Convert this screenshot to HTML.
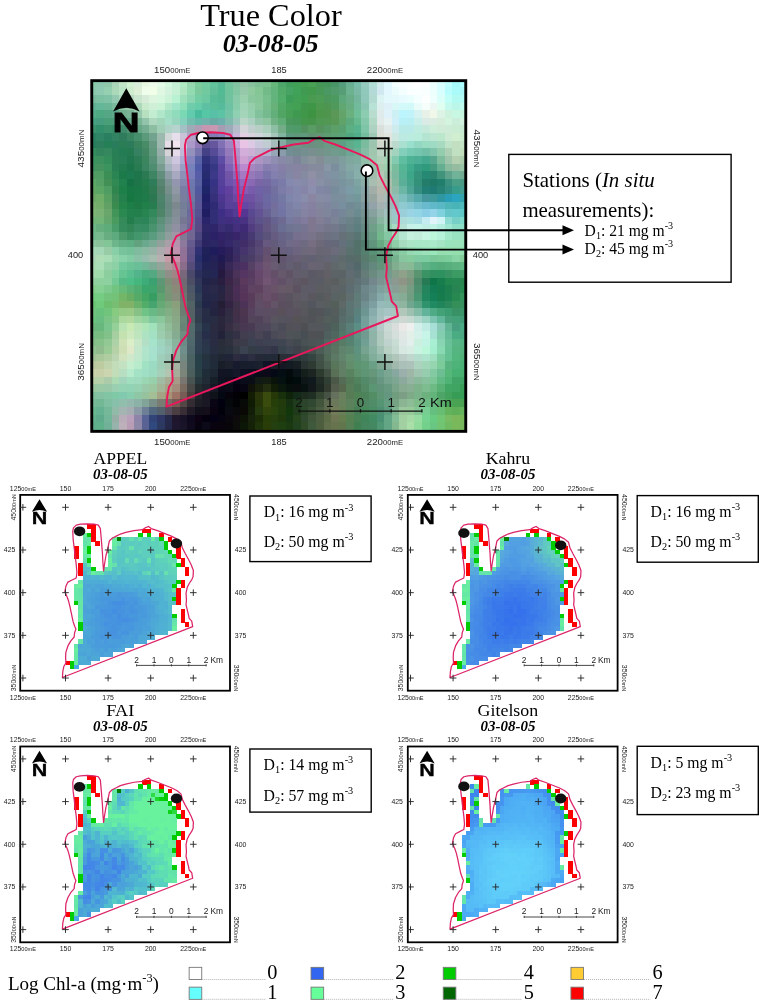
<!DOCTYPE html>
<html lang="en"><head><meta charset="utf-8"><title>True Color / Chl-a maps 03-08-05</title>
<style>html,body{margin:0;padding:0;background:#fff}svg{display:block}</style></head><body>
<svg width="759" height="1000" viewBox="0 0 759 1000">
<rect width="759" height="1000" fill="#fff"/>
<clipPath id="bigclip"><rect x="91.3" y="80.2" width="374.9" height="351.6"/></clipPath>
<g clip-path="url(#bigclip)" shape-rendering="crispEdges" stroke-width="8.01" fill="none"><path d="M88.9 83.84h7.87" stroke="#88caa9"/><path d="M96.47 83.84h7.87" stroke="#8bc8ae"/><path d="M104.04 83.84h7.87" stroke="#90c8ac"/><path d="M111.61 83.84h7.87" stroke="#abd6ba"/><path d="M119.18 83.84h7.87" stroke="#c3e5c7"/><path d="M126.75 83.84h7.87" stroke="#d3f2d3"/><path d="M134.32 83.84h7.87" stroke="#d9efdb"/><path d="M141.89 83.84h7.87" stroke="#e9f8e3"/><path d="M149.46 83.84h7.87" stroke="#edfcea"/><path d="M157.03 83.84h7.87" stroke="#e4fbe7"/><path d="M164.6 83.84h7.87" stroke="#d5f9de"/><path d="M172.17 83.84h7.87" stroke="#c5f0d4"/><path d="M179.74 83.84h7.87" stroke="#aeebc2"/><path d="M187.31 83.84h7.87" stroke="#96d7b0"/><path d="M194.88 83.84h7.87" stroke="#7bcd9e"/><path d="M202.45 83.84h7.87" stroke="#71cca1"/><path d="M210.02 83.84h7.87" stroke="#61c49c"/><path d="M217.59 83.84h7.87" stroke="#57b897"/><path d="M225.16 83.84h7.87" stroke="#70c39c"/><path d="M232.73 83.84h7.87" stroke="#82c1a1"/><path d="M240.3 83.84h7.87" stroke="#91c5a6"/><path d="M247.87 83.84h7.87" stroke="#87c39e"/><path d="M255.44 83.84h7.87" stroke="#7dc094"/><path d="M263.01 83.84h7.87" stroke="#7bc18f"/><path d="M270.58 83.84h7.87" stroke="#65b87a"/><path d="M278.15 83.84h7.87" stroke="#4ea76a"/><path d="M285.72 83.84h7.87" stroke="#409f5d"/><path d="M293.29 83.84h7.87" stroke="#40a058"/><path d="M300.86 83.84h7.87" stroke="#449e52"/><path d="M308.43 83.84h7.87" stroke="#49a156"/><path d="M316 83.84h7.87" stroke="#459758"/><path d="M323.57 83.84h7.87" stroke="#43955c"/><path d="M331.14 83.84h7.87" stroke="#489667"/><path d="M338.71 83.84h7.87" stroke="#559d7c"/><path d="M346.28 83.84h7.87" stroke="#69af92"/><path d="M353.85 83.84h7.87" stroke="#78bdaa"/><path d="M361.42 83.84h7.87" stroke="#95c9bd"/><path d="M368.99 83.84h7.87" stroke="#b1ddd5"/><path d="M376.56 83.84h7.87" stroke="#d1eaeb"/><path d="M384.13 83.84h7.87" stroke="#e2f8ff"/><path d="M391.7 83.84h7.87" stroke="#f3ffff"/><path d="M399.27 83.84h7.87" stroke="#f9ffff"/><path d="M406.84 83.84h7.87" stroke="#fbffff"/><path d="M414.41 83.84h7.87" stroke="#ffffff"/><path d="M421.98 83.84h7.87" stroke="#fcffff"/><path d="M429.55 83.84h7.87" stroke="#ebffff"/><path d="M437.12 83.84h7.87" stroke="#d8ffff"/><path d="M444.69 83.84h7.87" stroke="#bcfffe"/><path d="M452.26 83.84h7.87" stroke="#a6f9fa"/><path d="M459.83 83.84h7.87" stroke="#adfeff"/><path d="M88.9 91.45h7.87" stroke="#89c9ac"/><path d="M96.47 91.45h7.87" stroke="#8dcab1"/><path d="M104.04 91.45h7.87" stroke="#95d0b0"/><path d="M111.61 91.45h7.87" stroke="#acd9b9"/><path d="M119.18 91.45h7.87" stroke="#bae2c5"/><path d="M126.75 91.45h7.87" stroke="#d0eccf"/><path d="M134.32 91.45h7.87" stroke="#ddf0d7"/><path d="M141.89 91.45h7.87" stroke="#effeec"/><path d="M149.46 91.45h7.87" stroke="#f1ffe9"/><path d="M157.03 91.45h7.87" stroke="#e0f7e3"/><path d="M164.6 91.45h7.87" stroke="#d4f3de"/><path d="M172.17 91.45h7.87" stroke="#c6f1d5"/><path d="M179.74 91.45h7.87" stroke="#b0e5c2"/><path d="M187.31 91.45h7.87" stroke="#92daaf"/><path d="M194.88 91.45h7.87" stroke="#7bc99d"/><path d="M202.45 91.45h7.87" stroke="#71c99f"/><path d="M210.02 91.45h7.87" stroke="#63bf9a"/><path d="M217.59 91.45h7.87" stroke="#53bb94"/><path d="M225.16 91.45h7.87" stroke="#6ec39c"/><path d="M232.73 91.45h7.87" stroke="#82c6a4"/><path d="M240.3 91.45h7.87" stroke="#96c9aa"/><path d="M247.87 91.45h7.87" stroke="#8fcb9f"/><path d="M255.44 91.45h7.87" stroke="#84c694"/><path d="M263.01 91.45h7.87" stroke="#72ba88"/><path d="M270.58 91.45h7.87" stroke="#62b47c"/><path d="M278.15 91.45h7.87" stroke="#51aa68"/><path d="M285.72 91.45h7.87" stroke="#46a363"/><path d="M293.29 91.45h7.87" stroke="#40a159"/><path d="M300.86 91.45h7.87" stroke="#409a51"/><path d="M308.43 91.45h7.87" stroke="#419a4c"/><path d="M316 91.45h7.87" stroke="#479857"/><path d="M323.57 91.45h7.87" stroke="#4a9965"/><path d="M331.14 91.45h7.87" stroke="#519a6b"/><path d="M338.71 91.45h7.87" stroke="#579e77"/><path d="M346.28 91.45h7.87" stroke="#6cb190"/><path d="M353.85 91.45h7.87" stroke="#7bb9a6"/><path d="M361.42 91.45h7.87" stroke="#90c9bc"/><path d="M368.99 91.45h7.87" stroke="#b3dad7"/><path d="M376.56 91.45h7.87" stroke="#d1e8f0"/><path d="M384.13 91.45h7.87" stroke="#e3f8fe"/><path d="M391.7 91.45h7.87" stroke="#ebfcfc"/><path d="M399.27 91.45h7.87" stroke="#f4fefe"/><path d="M406.84 91.45h7.87" stroke="#fbffff"/><path d="M414.41 91.45h7.87" stroke="#fcffff"/><path d="M421.98 91.45h7.87" stroke="#f9ffff"/><path d="M429.55 91.45h7.87" stroke="#edfffd"/><path d="M437.12 91.45h7.87" stroke="#d7ffff"/><path d="M444.69 91.45h7.87" stroke="#b8fdfe"/><path d="M452.26 91.45h7.87" stroke="#abfafa"/><path d="M459.83 91.45h7.87" stroke="#a9f7f7"/><path d="M88.9 99.06h7.87" stroke="#7abc9e"/><path d="M96.47 99.06h7.87" stroke="#7ac0a1"/><path d="M104.04 99.06h7.87" stroke="#80c2a5"/><path d="M111.61 99.06h7.87" stroke="#93c9b0"/><path d="M119.18 99.06h7.87" stroke="#add7bf"/><path d="M126.75 99.06h7.87" stroke="#b9d9c0"/><path d="M134.32 99.06h7.87" stroke="#cbe6cf"/><path d="M141.89 99.06h7.87" stroke="#d6ecd8"/><path d="M149.46 99.06h7.87" stroke="#ddf4df"/><path d="M157.03 99.06h7.87" stroke="#d7f7df"/><path d="M164.6 99.06h7.87" stroke="#ccf3d8"/><path d="M172.17 99.06h7.87" stroke="#b9f1d3"/><path d="M179.74 99.06h7.87" stroke="#9ee0bc"/><path d="M187.31 99.06h7.87" stroke="#8bd5b2"/><path d="M194.88 99.06h7.87" stroke="#73cda4"/><path d="M202.45 99.06h7.87" stroke="#6bc8a0"/><path d="M210.02 99.06h7.87" stroke="#59bc98"/><path d="M217.59 99.06h7.87" stroke="#56b996"/><path d="M225.16 99.06h7.87" stroke="#70c39e"/><path d="M232.73 99.06h7.87" stroke="#89caaa"/><path d="M240.3 99.06h7.87" stroke="#9ad0ad"/><path d="M247.87 99.06h7.87" stroke="#8ac79e"/><path d="M255.44 99.06h7.87" stroke="#87c699"/><path d="M263.01 99.06h7.87" stroke="#77c08d"/><path d="M270.58 99.06h7.87" stroke="#63b47c"/><path d="M278.15 99.06h7.87" stroke="#53ad6a"/><path d="M285.72 99.06h7.87" stroke="#3c9d58"/><path d="M293.29 99.06h7.87" stroke="#419f56"/><path d="M300.86 99.06h7.87" stroke="#3f9e4f"/><path d="M308.43 99.06h7.87" stroke="#4a9b51"/><path d="M316 99.06h7.87" stroke="#4c9c55"/><path d="M323.57 99.06h7.87" stroke="#4b965b"/><path d="M331.14 99.06h7.87" stroke="#4c9a60"/><path d="M338.71 99.06h7.87" stroke="#5da87b"/><path d="M346.28 99.06h7.87" stroke="#69ad88"/><path d="M353.85 99.06h7.87" stroke="#73b69d"/><path d="M361.42 99.06h7.87" stroke="#8fc7bb"/><path d="M368.99 99.06h7.87" stroke="#b2dad0"/><path d="M376.56 99.06h7.87" stroke="#dbf3f2"/><path d="M384.13 99.06h7.87" stroke="#e2f8fb"/><path d="M391.7 99.06h7.87" stroke="#e5f8fa"/><path d="M399.27 99.06h7.87" stroke="#e8fbff"/><path d="M406.84 99.06h7.87" stroke="#eafffd"/><path d="M414.41 99.06h7.87" stroke="#f5ffff"/><path d="M421.98 99.06h7.87" stroke="#fdffff"/><path d="M429.55 99.06h7.87" stroke="#eefffd"/><path d="M437.12 99.06h7.87" stroke="#dafef8"/><path d="M444.69 99.06h7.87" stroke="#c1fef8"/><path d="M452.26 99.06h7.87" stroke="#b2faf1"/><path d="M459.83 99.06h7.87" stroke="#b2fbf4"/><path d="M88.9 106.67h7.87" stroke="#61b195"/><path d="M96.47 106.67h7.87" stroke="#64b798"/><path d="M104.04 106.67h7.87" stroke="#6ab595"/><path d="M111.61 106.67h7.87" stroke="#78ba9b"/><path d="M119.18 106.67h7.87" stroke="#8ec4a4"/><path d="M126.75 106.67h7.87" stroke="#9cc9ac"/><path d="M134.32 106.67h7.87" stroke="#add8b9"/><path d="M141.89 106.67h7.87" stroke="#c8eacd"/><path d="M149.46 106.67h7.87" stroke="#cfefd7"/><path d="M157.03 106.67h7.87" stroke="#c9f3d4"/><path d="M164.6 106.67h7.87" stroke="#b1e8ca"/><path d="M172.17 106.67h7.87" stroke="#a0e4ca"/><path d="M179.74 106.67h7.87" stroke="#90dfbb"/><path d="M187.31 106.67h7.87" stroke="#6fcdac"/><path d="M194.88 106.67h7.87" stroke="#65cba8"/><path d="M202.45 106.67h7.87" stroke="#5dc0a2"/><path d="M210.02 106.67h7.87" stroke="#5abe9b"/><path d="M217.59 106.67h7.87" stroke="#55bb9b"/><path d="M225.16 106.67h7.87" stroke="#6cc2a3"/><path d="M232.73 106.67h7.87" stroke="#88ccab"/><path d="M240.3 106.67h7.87" stroke="#a0d4b6"/><path d="M247.87 106.67h7.87" stroke="#96cdaa"/><path d="M255.44 106.67h7.87" stroke="#8ac79c"/><path d="M263.01 106.67h7.87" stroke="#77bc8b"/><path d="M270.58 106.67h7.87" stroke="#68b27a"/><path d="M278.15 106.67h7.87" stroke="#51a866"/><path d="M285.72 106.67h7.87" stroke="#45a158"/><path d="M293.29 106.67h7.87" stroke="#43a153"/><path d="M300.86 106.67h7.87" stroke="#40964d"/><path d="M308.43 106.67h7.87" stroke="#409647"/><path d="M316 106.67h7.87" stroke="#4b984e"/><path d="M323.57 106.67h7.87" stroke="#4e9551"/><path d="M331.14 106.67h7.87" stroke="#4f995d"/><path d="M338.71 106.67h7.87" stroke="#61a771"/><path d="M346.28 106.67h7.87" stroke="#67ad81"/><path d="M353.85 106.67h7.87" stroke="#71ba9c"/><path d="M361.42 106.67h7.87" stroke="#8ac5b2"/><path d="M368.99 106.67h7.87" stroke="#b7e2d5"/><path d="M376.56 106.67h7.87" stroke="#ddeeee"/><path d="M384.13 106.67h7.87" stroke="#e0f0f9"/><path d="M391.7 106.67h7.87" stroke="#d8f7f7"/><path d="M399.27 106.67h7.87" stroke="#d4f9fa"/><path d="M406.84 106.67h7.87" stroke="#d1f9f8"/><path d="M414.41 106.67h7.87" stroke="#e9fcfa"/><path d="M421.98 106.67h7.87" stroke="#f6fefb"/><path d="M429.55 106.67h7.87" stroke="#ecf7f3"/><path d="M437.12 106.67h7.87" stroke="#dffff0"/><path d="M444.69 106.67h7.87" stroke="#c6f9ed"/><path d="M452.26 106.67h7.87" stroke="#bbf6e9"/><path d="M459.83 106.67h7.87" stroke="#bffcef"/><path d="M88.9 114.28h7.87" stroke="#55ac89"/><path d="M96.47 114.28h7.87" stroke="#4ea983"/><path d="M104.04 114.28h7.87" stroke="#54a684"/><path d="M111.61 114.28h7.87" stroke="#5da78b"/><path d="M119.18 114.28h7.87" stroke="#72b091"/><path d="M126.75 114.28h7.87" stroke="#7ab496"/><path d="M134.32 114.28h7.87" stroke="#95c8ac"/><path d="M141.89 114.28h7.87" stroke="#b7e0c1"/><path d="M149.46 114.28h7.87" stroke="#c3edd0"/><path d="M157.03 114.28h7.87" stroke="#b0e6ca"/><path d="M164.6 114.28h7.87" stroke="#9fdfc1"/><path d="M172.17 114.28h7.87" stroke="#8fdbbc"/><path d="M179.74 114.28h7.87" stroke="#7ad8b5"/><path d="M187.31 114.28h7.87" stroke="#62cbae"/><path d="M194.88 114.28h7.87" stroke="#4abc9e"/><path d="M202.45 114.28h7.87" stroke="#56c7a5"/><path d="M210.02 114.28h7.87" stroke="#58c0a6"/><path d="M217.59 114.28h7.87" stroke="#5cc3a5"/><path d="M225.16 114.28h7.87" stroke="#73c3a7"/><path d="M232.73 114.28h7.87" stroke="#8fcfb2"/><path d="M240.3 114.28h7.87" stroke="#a4d5ba"/><path d="M247.87 114.28h7.87" stroke="#95cfad"/><path d="M255.44 114.28h7.87" stroke="#81c19b"/><path d="M263.01 114.28h7.87" stroke="#75ba8f"/><path d="M270.58 114.28h7.87" stroke="#62af7c"/><path d="M278.15 114.28h7.87" stroke="#52a465"/><path d="M285.72 114.28h7.87" stroke="#479f55"/><path d="M293.29 114.28h7.87" stroke="#409951"/><path d="M300.86 114.28h7.87" stroke="#419749"/><path d="M308.43 114.28h7.87" stroke="#3e9342"/><path d="M316 114.28h7.87" stroke="#4b964a"/><path d="M323.57 114.28h7.87" stroke="#4f954d"/><path d="M331.14 114.28h7.87" stroke="#5b9857"/><path d="M338.71 114.28h7.87" stroke="#64a369"/><path d="M346.28 114.28h7.87" stroke="#6bb17f"/><path d="M353.85 114.28h7.87" stroke="#6ebe98"/><path d="M361.42 114.28h7.87" stroke="#8cccb1"/><path d="M368.99 114.28h7.87" stroke="#b8dccd"/><path d="M376.56 114.28h7.87" stroke="#dfebeb"/><path d="M384.13 114.28h7.87" stroke="#dff1f9"/><path d="M391.7 114.28h7.87" stroke="#cdf0f4"/><path d="M399.27 114.28h7.87" stroke="#bcf5fe"/><path d="M406.84 114.28h7.87" stroke="#c0f3fa"/><path d="M414.41 114.28h7.87" stroke="#d6f3f2"/><path d="M421.98 114.28h7.87" stroke="#e8f1e8"/><path d="M429.55 114.28h7.87" stroke="#f1f8ea"/><path d="M437.12 114.28h7.87" stroke="#ddf3e6"/><path d="M444.69 114.28h7.87" stroke="#cdf2dd"/><path d="M452.26 114.28h7.87" stroke="#c8f8e4"/><path d="M459.83 114.28h7.87" stroke="#c6f5e0"/><path d="M88.9 121.89h7.87" stroke="#44a281"/><path d="M96.47 121.89h7.87" stroke="#469c7f"/><path d="M104.04 121.89h7.87" stroke="#489f78"/><path d="M111.61 121.89h7.87" stroke="#529c7e"/><path d="M119.18 121.89h7.87" stroke="#55a27f"/><path d="M126.75 121.89h7.87" stroke="#63a78b"/><path d="M134.32 121.89h7.87" stroke="#79b495"/><path d="M141.89 121.89h7.87" stroke="#92c4ab"/><path d="M149.46 121.89h7.87" stroke="#add7be"/><path d="M157.03 121.89h7.87" stroke="#a2d6bb"/><path d="M164.6 121.89h7.87" stroke="#a4ddc8"/><path d="M172.17 121.89h7.87" stroke="#98d5bf"/><path d="M179.74 121.89h7.87" stroke="#85d0bd"/><path d="M187.31 121.89h7.87" stroke="#72bdae"/><path d="M194.88 121.89h7.87" stroke="#65b7aa"/><path d="M202.45 121.89h7.87" stroke="#70b2ab"/><path d="M210.02 121.89h7.87" stroke="#69aaa5"/><path d="M217.59 121.89h7.87" stroke="#6dafac"/><path d="M225.16 121.89h7.87" stroke="#80baae"/><path d="M232.73 121.89h7.87" stroke="#9bc4bb"/><path d="M240.3 121.89h7.87" stroke="#b8d5c7"/><path d="M247.87 121.89h7.87" stroke="#abcfc0"/><path d="M255.44 121.89h7.87" stroke="#95c5ac"/><path d="M263.01 121.89h7.87" stroke="#8ec5a0"/><path d="M270.58 121.89h7.87" stroke="#71b284"/><path d="M278.15 121.89h7.87" stroke="#5fac76"/><path d="M285.72 121.89h7.87" stroke="#49975c"/><path d="M293.29 121.89h7.87" stroke="#459658"/><path d="M300.86 121.89h7.87" stroke="#44964c"/><path d="M308.43 121.89h7.87" stroke="#46934c"/><path d="M316 121.89h7.87" stroke="#4e9853"/><path d="M323.57 121.89h7.87" stroke="#529754"/><path d="M331.14 121.89h7.87" stroke="#589857"/><path d="M338.71 121.89h7.87" stroke="#5fa36a"/><path d="M346.28 121.89h7.87" stroke="#5ba97c"/><path d="M353.85 121.89h7.87" stroke="#66b88f"/><path d="M361.42 121.89h7.87" stroke="#84c7ab"/><path d="M368.99 121.89h7.87" stroke="#b1d8c5"/><path d="M376.56 121.89h7.87" stroke="#e1eae9"/><path d="M384.13 121.89h7.87" stroke="#e7f2f3"/><path d="M391.7 121.89h7.87" stroke="#cff0f9"/><path d="M399.27 121.89h7.87" stroke="#b9f0f8"/><path d="M406.84 121.89h7.87" stroke="#b9eff3"/><path d="M414.41 121.89h7.87" stroke="#caefea"/><path d="M421.98 121.89h7.87" stroke="#daebe6"/><path d="M429.55 121.89h7.87" stroke="#daece1"/><path d="M437.12 121.89h7.87" stroke="#d5edda"/><path d="M444.69 121.89h7.87" stroke="#d3f5df"/><path d="M452.26 121.89h7.87" stroke="#caeed9"/><path d="M459.83 121.89h7.87" stroke="#d2f2df"/><path d="M88.9 129.5h7.87" stroke="#3e916f"/><path d="M96.47 129.5h7.87" stroke="#318f6c"/><path d="M104.04 129.5h7.87" stroke="#3c916d"/><path d="M111.61 129.5h7.87" stroke="#378d68"/><path d="M119.18 129.5h7.87" stroke="#3f896a"/><path d="M126.75 129.5h7.87" stroke="#4b9070"/><path d="M134.32 129.5h7.87" stroke="#65a787"/><path d="M141.89 129.5h7.87" stroke="#74ad91"/><path d="M149.46 129.5h7.87" stroke="#8ebea1"/><path d="M157.03 129.5h7.87" stroke="#a0ceb6"/><path d="M164.6 129.5h7.87" stroke="#add2c6"/><path d="M172.17 129.5h7.87" stroke="#b6d3ce"/><path d="M179.74 129.5h7.87" stroke="#a3c0c4"/><path d="M187.31 129.5h7.87" stroke="#9eabb6"/><path d="M194.88 129.5h7.87" stroke="#ae9db5"/><path d="M202.45 129.5h7.87" stroke="#c797b1"/><path d="M210.02 129.5h7.87" stroke="#c798b2"/><path d="M217.59 129.5h7.87" stroke="#a79db2"/><path d="M225.16 129.5h7.87" stroke="#9ea9ba"/><path d="M232.73 129.5h7.87" stroke="#b6bcc9"/><path d="M240.3 129.5h7.87" stroke="#d2d4d8"/><path d="M247.87 129.5h7.87" stroke="#c0cece"/><path d="M255.44 129.5h7.87" stroke="#b7cfc4"/><path d="M263.01 129.5h7.87" stroke="#a9cebb"/><path d="M270.58 129.5h7.87" stroke="#8cbfa3"/><path d="M278.15 129.5h7.87" stroke="#73ac87"/><path d="M285.72 129.5h7.87" stroke="#519a6a"/><path d="M293.29 129.5h7.87" stroke="#4f9a69"/><path d="M300.86 129.5h7.87" stroke="#539161"/><path d="M308.43 129.5h7.87" stroke="#5a9a65"/><path d="M316 129.5h7.87" stroke="#55925e"/><path d="M323.57 129.5h7.87" stroke="#559865"/><path d="M331.14 129.5h7.87" stroke="#5c9f68"/><path d="M338.71 129.5h7.87" stroke="#58a070"/><path d="M346.28 129.5h7.87" stroke="#5cae83"/><path d="M353.85 129.5h7.87" stroke="#56b38d"/><path d="M361.42 129.5h7.87" stroke="#7ec5a7"/><path d="M368.99 129.5h7.87" stroke="#add1c2"/><path d="M376.56 129.5h7.87" stroke="#d9e0db"/><path d="M384.13 129.5h7.87" stroke="#e1e9e9"/><path d="M391.7 129.5h7.87" stroke="#ceeced"/><path d="M399.27 129.5h7.87" stroke="#b8ebe7"/><path d="M406.84 129.5h7.87" stroke="#b9e9e8"/><path d="M414.41 129.5h7.87" stroke="#beece0"/><path d="M421.98 129.5h7.87" stroke="#c5e9db"/><path d="M429.55 129.5h7.87" stroke="#cdeed9"/><path d="M437.12 129.5h7.87" stroke="#cfebd8"/><path d="M444.69 129.5h7.87" stroke="#ceebd8"/><path d="M452.26 129.5h7.87" stroke="#c9ecd3"/><path d="M459.83 129.5h7.87" stroke="#c9ead2"/><path d="M88.9 137.11h7.87" stroke="#2a8162"/><path d="M96.47 137.11h7.87" stroke="#308566"/><path d="M104.04 137.11h7.87" stroke="#2a7f61"/><path d="M111.61 137.11h7.87" stroke="#318361"/><path d="M119.18 137.11h7.87" stroke="#2e7c5b"/><path d="M126.75 137.11h7.87" stroke="#398461"/><path d="M134.32 137.11h7.87" stroke="#458f6c"/><path d="M141.89 137.11h7.87" stroke="#5b9b7b"/><path d="M149.46 137.11h7.87" stroke="#71a38e"/><path d="M157.03 137.11h7.87" stroke="#9bbaad"/><path d="M164.6 137.11h7.87" stroke="#d1d7d6"/><path d="M172.17 137.11h7.87" stroke="#e6deea"/><path d="M179.74 137.11h7.87" stroke="#cac2d7"/><path d="M187.31 137.11h7.87" stroke="#aea4c8"/><path d="M194.88 137.11h7.87" stroke="#9c8cb7"/><path d="M202.45 137.11h7.87" stroke="#8276a8"/><path d="M210.02 137.11h7.87" stroke="#857bb5"/><path d="M217.59 137.11h7.87" stroke="#8783bb"/><path d="M225.16 137.11h7.87" stroke="#aa9ccb"/><path d="M232.73 137.11h7.87" stroke="#c8b5d9"/><path d="M240.3 137.11h7.87" stroke="#e5cde2"/><path d="M247.87 137.11h7.87" stroke="#d8d2dd"/><path d="M255.44 137.11h7.87" stroke="#ced6dc"/><path d="M263.01 137.11h7.87" stroke="#c1d6d1"/><path d="M270.58 137.11h7.87" stroke="#a5c6b9"/><path d="M278.15 137.11h7.87" stroke="#82b5a0"/><path d="M285.72 137.11h7.87" stroke="#5c997e"/><path d="M293.29 137.11h7.87" stroke="#5f9779"/><path d="M300.86 137.11h7.87" stroke="#609a7c"/><path d="M308.43 137.11h7.87" stroke="#629274"/><path d="M316 137.11h7.87" stroke="#619574"/><path d="M323.57 137.11h7.87" stroke="#5d9c71"/><path d="M331.14 137.11h7.87" stroke="#5da073"/><path d="M338.71 137.11h7.87" stroke="#5aa479"/><path d="M346.28 137.11h7.87" stroke="#50a77f"/><path d="M353.85 137.11h7.87" stroke="#51ae8a"/><path d="M361.42 137.11h7.87" stroke="#75bd9f"/><path d="M368.99 137.11h7.87" stroke="#9fcab5"/><path d="M376.56 137.11h7.87" stroke="#dcdfd5"/><path d="M384.13 137.11h7.87" stroke="#e1e5df"/><path d="M391.7 137.11h7.87" stroke="#cde8e1"/><path d="M399.27 137.11h7.87" stroke="#bce9e1"/><path d="M406.84 137.11h7.87" stroke="#baede0"/><path d="M414.41 137.11h7.87" stroke="#b9ecda"/><path d="M421.98 137.11h7.87" stroke="#b3e5d2"/><path d="M429.55 137.11h7.87" stroke="#bde6d2"/><path d="M437.12 137.11h7.87" stroke="#bbe7cd"/><path d="M444.69 137.11h7.87" stroke="#ccebd2"/><path d="M452.26 137.11h7.87" stroke="#d1efd0"/><path d="M459.83 137.11h7.87" stroke="#caebcd"/><path d="M88.9 144.72h7.87" stroke="#287e5c"/><path d="M96.47 144.72h7.87" stroke="#2d7e5c"/><path d="M104.04 144.72h7.87" stroke="#258057"/><path d="M111.61 144.72h7.87" stroke="#297d5c"/><path d="M119.18 144.72h7.87" stroke="#2a7d54"/><path d="M126.75 144.72h7.87" stroke="#2c7c5b"/><path d="M134.32 144.72h7.87" stroke="#3a835d"/><path d="M141.89 144.72h7.87" stroke="#488c67"/><path d="M149.46 144.72h7.87" stroke="#669882"/><path d="M157.03 144.72h7.87" stroke="#9cb8af"/><path d="M164.6 144.72h7.87" stroke="#e6dde9"/><path d="M172.17 144.72h7.87" stroke="#f2e5f0"/><path d="M179.74 144.72h7.87" stroke="#cdc1d9"/><path d="M187.31 144.72h7.87" stroke="#ad99c9"/><path d="M194.88 144.72h7.87" stroke="#927ab6"/><path d="M202.45 144.72h7.87" stroke="#5c5192"/><path d="M210.02 144.72h7.87" stroke="#65569d"/><path d="M217.59 144.72h7.87" stroke="#8270b4"/><path d="M225.16 144.72h7.87" stroke="#9e87c3"/><path d="M232.73 144.72h7.87" stroke="#caa7da"/><path d="M240.3 144.72h7.87" stroke="#eac4e5"/><path d="M247.87 144.72h7.87" stroke="#dec9e4"/><path d="M255.44 144.72h7.87" stroke="#c9c7db"/><path d="M263.01 144.72h7.87" stroke="#c0ccd2"/><path d="M270.58 144.72h7.87" stroke="#a6bbbc"/><path d="M278.15 144.72h7.87" stroke="#87a8a2"/><path d="M285.72 144.72h7.87" stroke="#699586"/><path d="M293.29 144.72h7.87" stroke="#6c9788"/><path d="M300.86 144.72h7.87" stroke="#6b9184"/><path d="M308.43 144.72h7.87" stroke="#6c8f82"/><path d="M316 144.72h7.87" stroke="#69937e"/><path d="M323.57 144.72h7.87" stroke="#6a9a85"/><path d="M331.14 144.72h7.87" stroke="#639f7f"/><path d="M338.71 144.72h7.87" stroke="#5c9f85"/><path d="M346.28 144.72h7.87" stroke="#5eac89"/><path d="M353.85 144.72h7.87" stroke="#59b491"/><path d="M361.42 144.72h7.87" stroke="#7bbc9e"/><path d="M368.99 144.72h7.87" stroke="#9dc4af"/><path d="M376.56 144.72h7.87" stroke="#d0d7cd"/><path d="M384.13 144.72h7.87" stroke="#d0e0d3"/><path d="M391.7 144.72h7.87" stroke="#bbd9cd"/><path d="M399.27 144.72h7.87" stroke="#aae0cf"/><path d="M406.84 144.72h7.87" stroke="#99dfce"/><path d="M414.41 144.72h7.87" stroke="#93d6c2"/><path d="M421.98 144.72h7.87" stroke="#9adcc1"/><path d="M429.55 144.72h7.87" stroke="#9fdbc4"/><path d="M437.12 144.72h7.87" stroke="#a7dac1"/><path d="M444.69 144.72h7.87" stroke="#bee3c8"/><path d="M452.26 144.72h7.87" stroke="#c2dfc1"/><path d="M459.83 144.72h7.87" stroke="#c4e2c4"/><path d="M88.9 152.33h7.87" stroke="#338d5e"/><path d="M96.47 152.33h7.87" stroke="#32845d"/><path d="M104.04 152.33h7.87" stroke="#35875e"/><path d="M111.61 152.33h7.87" stroke="#297f55"/><path d="M119.18 152.33h7.87" stroke="#237c53"/><path d="M126.75 152.33h7.87" stroke="#257a52"/><path d="M134.32 152.33h7.87" stroke="#368161"/><path d="M141.89 152.33h7.87" stroke="#428664"/><path d="M149.46 152.33h7.87" stroke="#60987e"/><path d="M157.03 152.33h7.87" stroke="#96aea9"/><path d="M164.6 152.33h7.87" stroke="#d5d3d7"/><path d="M172.17 152.33h7.87" stroke="#e5dae9"/><path d="M179.74 152.33h7.87" stroke="#bfb8d6"/><path d="M187.31 152.33h7.87" stroke="#9491bd"/><path d="M194.88 152.33h7.87" stroke="#7673ad"/><path d="M202.45 152.33h7.87" stroke="#454186"/><path d="M210.02 152.33h7.87" stroke="#554b96"/><path d="M217.59 152.33h7.87" stroke="#7263ae"/><path d="M225.16 152.33h7.87" stroke="#947aba"/><path d="M232.73 152.33h7.87" stroke="#b193ca"/><path d="M240.3 152.33h7.87" stroke="#d4aedb"/><path d="M247.87 152.33h7.87" stroke="#ccb0d5"/><path d="M255.44 152.33h7.87" stroke="#bcb2ce"/><path d="M263.01 152.33h7.87" stroke="#aeb2cd"/><path d="M270.58 152.33h7.87" stroke="#97a6b7"/><path d="M278.15 152.33h7.87" stroke="#8a9bab"/><path d="M285.72 152.33h7.87" stroke="#728e94"/><path d="M293.29 152.33h7.87" stroke="#718b8e"/><path d="M300.86 152.33h7.87" stroke="#758f90"/><path d="M308.43 152.33h7.87" stroke="#798f8f"/><path d="M316 152.33h7.87" stroke="#75928a"/><path d="M323.57 152.33h7.87" stroke="#73968a"/><path d="M331.14 152.33h7.87" stroke="#719b8d"/><path d="M338.71 152.33h7.87" stroke="#6d9b8a"/><path d="M346.28 152.33h7.87" stroke="#6da695"/><path d="M353.85 152.33h7.87" stroke="#6db296"/><path d="M361.42 152.33h7.87" stroke="#86bba5"/><path d="M368.99 152.33h7.87" stroke="#a0c6b0"/><path d="M376.56 152.33h7.87" stroke="#bbd4c3"/><path d="M384.13 152.33h7.87" stroke="#b5d5be"/><path d="M391.7 152.33h7.87" stroke="#a2d3bf"/><path d="M399.27 152.33h7.87" stroke="#84cfbc"/><path d="M406.84 152.33h7.87" stroke="#76c9b2"/><path d="M414.41 152.33h7.87" stroke="#73c5ad"/><path d="M421.98 152.33h7.87" stroke="#72bfa8"/><path d="M429.55 152.33h7.87" stroke="#80c4ab"/><path d="M437.12 152.33h7.87" stroke="#94ccae"/><path d="M444.69 152.33h7.87" stroke="#add0b5"/><path d="M452.26 152.33h7.87" stroke="#c1dfc1"/><path d="M459.83 152.33h7.87" stroke="#c1ddbc"/><path d="M88.9 159.94h7.87" stroke="#3b9460"/><path d="M96.47 159.94h7.87" stroke="#3d915e"/><path d="M104.04 159.94h7.87" stroke="#348e5b"/><path d="M111.61 159.94h7.87" stroke="#2a7f55"/><path d="M119.18 159.94h7.87" stroke="#277d55"/><path d="M126.75 159.94h7.87" stroke="#21774f"/><path d="M134.32 159.94h7.87" stroke="#2c7c55"/><path d="M141.89 159.94h7.87" stroke="#3b855f"/><path d="M149.46 159.94h7.87" stroke="#589177"/><path d="M157.03 159.94h7.87" stroke="#86a99d"/><path d="M164.6 159.94h7.87" stroke="#b5bec7"/><path d="M172.17 159.94h7.87" stroke="#cec5de"/><path d="M179.74 159.94h7.87" stroke="#aaacd2"/><path d="M187.31 159.94h7.87" stroke="#8485bf"/><path d="M194.88 159.94h7.87" stroke="#5763a6"/><path d="M202.45 159.94h7.87" stroke="#31327c"/><path d="M210.02 159.94h7.87" stroke="#3f3f8b"/><path d="M217.59 159.94h7.87" stroke="#5e4da4"/><path d="M225.16 159.94h7.87" stroke="#8a6fb8"/><path d="M232.73 159.94h7.87" stroke="#ac89c7"/><path d="M240.3 159.94h7.87" stroke="#cda2d2"/><path d="M247.87 159.94h7.87" stroke="#b99dce"/><path d="M255.44 159.94h7.87" stroke="#ac95c2"/><path d="M263.01 159.94h7.87" stroke="#9d93bc"/><path d="M270.58 159.94h7.87" stroke="#908eb0"/><path d="M278.15 159.94h7.87" stroke="#8889a6"/><path d="M285.72 159.94h7.87" stroke="#858ba0"/><path d="M293.29 159.94h7.87" stroke="#7e859a"/><path d="M300.86 159.94h7.87" stroke="#81909b"/><path d="M308.43 159.94h7.87" stroke="#8a949b"/><path d="M316 159.94h7.87" stroke="#848d96"/><path d="M323.57 159.94h7.87" stroke="#7f969b"/><path d="M331.14 159.94h7.87" stroke="#7e9699"/><path d="M338.71 159.94h7.87" stroke="#7d9e9d"/><path d="M346.28 159.94h7.87" stroke="#80a79e"/><path d="M353.85 159.94h7.87" stroke="#7eada0"/><path d="M361.42 159.94h7.87" stroke="#91bfaa"/><path d="M368.99 159.94h7.87" stroke="#9fc9b0"/><path d="M376.56 159.94h7.87" stroke="#b1d0b9"/><path d="M384.13 159.94h7.87" stroke="#a5d3b6"/><path d="M391.7 159.94h7.87" stroke="#82cbb0"/><path d="M399.27 159.94h7.87" stroke="#5fbda0"/><path d="M406.84 159.94h7.87" stroke="#4db394"/><path d="M414.41 159.94h7.87" stroke="#4bae95"/><path d="M421.98 159.94h7.87" stroke="#44a88e"/><path d="M429.55 159.94h7.87" stroke="#56a78d"/><path d="M437.12 159.94h7.87" stroke="#7dbd9e"/><path d="M444.69 159.94h7.87" stroke="#9ec5ab"/><path d="M452.26 159.94h7.87" stroke="#b5cfb1"/><path d="M459.83 159.94h7.87" stroke="#accdac"/><path d="M88.9 167.55h7.87" stroke="#3f9460"/><path d="M96.47 167.55h7.87" stroke="#45945f"/><path d="M104.04 167.55h7.87" stroke="#3b935d"/><path d="M111.61 167.55h7.87" stroke="#287f54"/><path d="M119.18 167.55h7.87" stroke="#217b4e"/><path d="M126.75 167.55h7.87" stroke="#1d754c"/><path d="M134.32 167.55h7.87" stroke="#287a50"/><path d="M141.89 167.55h7.87" stroke="#3a8461"/><path d="M149.46 167.55h7.87" stroke="#4d8e71"/><path d="M157.03 167.55h7.87" stroke="#799c90"/><path d="M164.6 167.55h7.87" stroke="#a3b2bc"/><path d="M172.17 167.55h7.87" stroke="#bdb7d0"/><path d="M179.74 167.55h7.87" stroke="#979fc4"/><path d="M187.31 167.55h7.87" stroke="#7682bb"/><path d="M194.88 167.55h7.87" stroke="#4f5ba7"/><path d="M202.45 167.55h7.87" stroke="#2a2c76"/><path d="M210.02 167.55h7.87" stroke="#373884"/><path d="M217.59 167.55h7.87" stroke="#59439c"/><path d="M225.16 167.55h7.87" stroke="#7d62b5"/><path d="M232.73 167.55h7.87" stroke="#9c78c2"/><path d="M240.3 167.55h7.87" stroke="#bb89cd"/><path d="M247.87 167.55h7.87" stroke="#a787c0"/><path d="M255.44 167.55h7.87" stroke="#9987bc"/><path d="M263.01 167.55h7.87" stroke="#877eaf"/><path d="M270.58 167.55h7.87" stroke="#8883b0"/><path d="M278.15 167.55h7.87" stroke="#8680a8"/><path d="M285.72 167.55h7.87" stroke="#8485a2"/><path d="M293.29 167.55h7.87" stroke="#8684a1"/><path d="M300.86 167.55h7.87" stroke="#85869e"/><path d="M308.43 167.55h7.87" stroke="#868a9d"/><path d="M316 167.55h7.87" stroke="#858b9c"/><path d="M323.57 167.55h7.87" stroke="#8897a5"/><path d="M331.14 167.55h7.87" stroke="#7b8e9d"/><path d="M338.71 167.55h7.87" stroke="#819ca3"/><path d="M346.28 167.55h7.87" stroke="#84a8a4"/><path d="M353.85 167.55h7.87" stroke="#87adaa"/><path d="M361.42 167.55h7.87" stroke="#95b7aa"/><path d="M368.99 167.55h7.87" stroke="#9bbfad"/><path d="M376.56 167.55h7.87" stroke="#a8cbaf"/><path d="M384.13 167.55h7.87" stroke="#9dceb0"/><path d="M391.7 167.55h7.87" stroke="#76be9e"/><path d="M399.27 167.55h7.87" stroke="#55b695"/><path d="M406.84 167.55h7.87" stroke="#41ab8d"/><path d="M414.41 167.55h7.87" stroke="#369c83"/><path d="M421.98 167.55h7.87" stroke="#309a7d"/><path d="M429.55 167.55h7.87" stroke="#439a7f"/><path d="M437.12 167.55h7.87" stroke="#64ae92"/><path d="M444.69 167.55h7.87" stroke="#88ba9e"/><path d="M452.26 167.55h7.87" stroke="#95bca1"/><path d="M459.83 167.55h7.87" stroke="#99c5a6"/><path d="M88.9 175.16h7.87" stroke="#529c65"/><path d="M96.47 175.16h7.87" stroke="#509e64"/><path d="M104.04 175.16h7.87" stroke="#3c8e57"/><path d="M111.61 175.16h7.87" stroke="#2a8552"/><path d="M119.18 175.16h7.87" stroke="#1c7949"/><path d="M126.75 175.16h7.87" stroke="#1d794f"/><path d="M134.32 175.16h7.87" stroke="#1e754c"/><path d="M141.89 175.16h7.87" stroke="#2c7a54"/><path d="M149.46 175.16h7.87" stroke="#3e8564"/><path d="M157.03 175.16h7.87" stroke="#628e7e"/><path d="M164.6 175.16h7.87" stroke="#8c9da5"/><path d="M172.17 175.16h7.87" stroke="#a8a8c0"/><path d="M179.74 175.16h7.87" stroke="#8d90b7"/><path d="M187.31 175.16h7.87" stroke="#797eba"/><path d="M194.88 175.16h7.87" stroke="#575ea7"/><path d="M202.45 175.16h7.87" stroke="#272b70"/><path d="M210.02 175.16h7.87" stroke="#3d3989"/><path d="M217.59 175.16h7.87" stroke="#57439d"/><path d="M225.16 175.16h7.87" stroke="#7255a7"/><path d="M232.73 175.16h7.87" stroke="#8d68b9"/><path d="M240.3 175.16h7.87" stroke="#a679c3"/><path d="M247.87 175.16h7.87" stroke="#9679b9"/><path d="M255.44 175.16h7.87" stroke="#8b75b4"/><path d="M263.01 175.16h7.87" stroke="#7974aa"/><path d="M270.58 175.16h7.87" stroke="#837faf"/><path d="M278.15 175.16h7.87" stroke="#817ea7"/><path d="M285.72 175.16h7.87" stroke="#8187a5"/><path d="M293.29 175.16h7.87" stroke="#8885a2"/><path d="M300.86 175.16h7.87" stroke="#858ba1"/><path d="M308.43 175.16h7.87" stroke="#8f90a6"/><path d="M316 175.16h7.87" stroke="#868da0"/><path d="M323.57 175.16h7.87" stroke="#8190a2"/><path d="M331.14 175.16h7.87" stroke="#7f94a3"/><path d="M338.71 175.16h7.87" stroke="#7e989f"/><path d="M346.28 175.16h7.87" stroke="#7fa2a4"/><path d="M353.85 175.16h7.87" stroke="#88afa9"/><path d="M361.42 175.16h7.87" stroke="#90b6ac"/><path d="M368.99 175.16h7.87" stroke="#a1beac"/><path d="M376.56 175.16h7.87" stroke="#b5c8b7"/><path d="M384.13 175.16h7.87" stroke="#9dc3aa"/><path d="M391.7 175.16h7.87" stroke="#7bb9a0"/><path d="M399.27 175.16h7.87" stroke="#58b396"/><path d="M406.84 175.16h7.87" stroke="#3da689"/><path d="M414.41 175.16h7.87" stroke="#34937a"/><path d="M421.98 175.16h7.87" stroke="#268973"/><path d="M429.55 175.16h7.87" stroke="#2b8370"/><path d="M437.12 175.16h7.87" stroke="#40947c"/><path d="M444.69 175.16h7.87" stroke="#5fa38c"/><path d="M452.26 175.16h7.87" stroke="#70b399"/><path d="M459.83 175.16h7.87" stroke="#72ac92"/><path d="M88.9 182.77h7.87" stroke="#5da766"/><path d="M96.47 182.77h7.87" stroke="#559f64"/><path d="M104.04 182.77h7.87" stroke="#439057"/><path d="M111.61 182.77h7.87" stroke="#318a53"/><path d="M119.18 182.77h7.87" stroke="#21814e"/><path d="M126.75 182.77h7.87" stroke="#167244"/><path d="M134.32 182.77h7.87" stroke="#1e7549"/><path d="M141.89 182.77h7.87" stroke="#257a4b"/><path d="M149.46 182.77h7.87" stroke="#2f7c5a"/><path d="M157.03 182.77h7.87" stroke="#578572"/><path d="M164.6 182.77h7.87" stroke="#7d9495"/><path d="M172.17 182.77h7.87" stroke="#9495af"/><path d="M179.74 182.77h7.87" stroke="#8486af"/><path d="M187.31 182.77h7.87" stroke="#6d79ae"/><path d="M194.88 182.77h7.87" stroke="#575fa0"/><path d="M202.45 182.77h7.87" stroke="#232771"/><path d="M210.02 182.77h7.87" stroke="#363284"/><path d="M217.59 182.77h7.87" stroke="#55409a"/><path d="M225.16 182.77h7.87" stroke="#6e53ac"/><path d="M232.73 182.77h7.87" stroke="#7d56b2"/><path d="M240.3 182.77h7.87" stroke="#9367be"/><path d="M247.87 182.77h7.87" stroke="#8a68b4"/><path d="M255.44 182.77h7.87" stroke="#7a66a6"/><path d="M263.01 182.77h7.87" stroke="#7569a3"/><path d="M270.58 182.77h7.87" stroke="#7774a8"/><path d="M278.15 182.77h7.87" stroke="#7b7ba9"/><path d="M285.72 182.77h7.87" stroke="#8389af"/><path d="M293.29 182.77h7.87" stroke="#898bac"/><path d="M300.86 182.77h7.87" stroke="#858aa8"/><path d="M308.43 182.77h7.87" stroke="#8f8dab"/><path d="M316 182.77h7.87" stroke="#8890a5"/><path d="M323.57 182.77h7.87" stroke="#828da2"/><path d="M331.14 182.77h7.87" stroke="#7e909e"/><path d="M338.71 182.77h7.87" stroke="#79949d"/><path d="M346.28 182.77h7.87" stroke="#7b999e"/><path d="M353.85 182.77h7.87" stroke="#7da3a2"/><path d="M361.42 182.77h7.87" stroke="#8cada6"/><path d="M368.99 182.77h7.87" stroke="#a8beb0"/><path d="M376.56 182.77h7.87" stroke="#b7bfb1"/><path d="M384.13 182.77h7.87" stroke="#acc0ae"/><path d="M391.7 182.77h7.87" stroke="#82b99f"/><path d="M399.27 182.77h7.87" stroke="#5bae97"/><path d="M406.84 182.77h7.87" stroke="#44a48c"/><path d="M414.41 182.77h7.87" stroke="#339079"/><path d="M421.98 182.77h7.87" stroke="#237d69"/><path d="M429.55 182.77h7.87" stroke="#207867"/><path d="M437.12 182.77h7.87" stroke="#227e6c"/><path d="M444.69 182.77h7.87" stroke="#39907f"/><path d="M452.26 182.77h7.87" stroke="#499e85"/><path d="M459.83 182.77h7.87" stroke="#4a9a86"/><path d="M88.9 190.38h7.87" stroke="#62a664"/><path d="M96.47 190.38h7.87" stroke="#5ca665"/><path d="M104.04 190.38h7.87" stroke="#4f9d63"/><path d="M111.61 190.38h7.87" stroke="#2f854d"/><path d="M119.18 190.38h7.87" stroke="#1e8049"/><path d="M126.75 190.38h7.87" stroke="#177745"/><path d="M134.32 190.38h7.87" stroke="#197845"/><path d="M141.89 190.38h7.87" stroke="#217949"/><path d="M149.46 190.38h7.87" stroke="#307a53"/><path d="M157.03 190.38h7.87" stroke="#52806b"/><path d="M164.6 190.38h7.87" stroke="#768f8b"/><path d="M172.17 190.38h7.87" stroke="#9097a5"/><path d="M179.74 190.38h7.87" stroke="#797da3"/><path d="M187.31 190.38h7.87" stroke="#6d77a9"/><path d="M194.88 190.38h7.87" stroke="#50589e"/><path d="M202.45 190.38h7.87" stroke="#1f2569"/><path d="M210.02 190.38h7.87" stroke="#38347f"/><path d="M217.59 190.38h7.87" stroke="#533c9b"/><path d="M225.16 190.38h7.87" stroke="#6240a0"/><path d="M232.73 190.38h7.87" stroke="#764dac"/><path d="M240.3 190.38h7.87" stroke="#865cb5"/><path d="M247.87 190.38h7.87" stroke="#795bac"/><path d="M255.44 190.38h7.87" stroke="#7062a6"/><path d="M263.01 190.38h7.87" stroke="#6e649f"/><path d="M270.58 190.38h7.87" stroke="#72709f"/><path d="M278.15 190.38h7.87" stroke="#7d7ba8"/><path d="M285.72 190.38h7.87" stroke="#8282ab"/><path d="M293.29 190.38h7.87" stroke="#8488ac"/><path d="M300.86 190.38h7.87" stroke="#8785a7"/><path d="M308.43 190.38h7.87" stroke="#8b8fad"/><path d="M316 190.38h7.87" stroke="#8287a6"/><path d="M323.57 190.38h7.87" stroke="#7f87a0"/><path d="M331.14 190.38h7.87" stroke="#778d9b"/><path d="M338.71 190.38h7.87" stroke="#7c94a1"/><path d="M346.28 190.38h7.87" stroke="#7b9ba6"/><path d="M353.85 190.38h7.87" stroke="#78a0a0"/><path d="M361.42 190.38h7.87" stroke="#87a4a7"/><path d="M368.99 190.38h7.87" stroke="#a3aea9"/><path d="M376.56 190.38h7.87" stroke="#b7b8ae"/><path d="M384.13 190.38h7.87" stroke="#acbbaa"/><path d="M391.7 190.38h7.87" stroke="#8cbba9"/><path d="M399.27 190.38h7.87" stroke="#6cb6a5"/><path d="M406.84 190.38h7.87" stroke="#4ea595"/><path d="M414.41 190.38h7.87" stroke="#378f84"/><path d="M421.98 190.38h7.87" stroke="#217f75"/><path d="M429.55 190.38h7.87" stroke="#1e7a72"/><path d="M437.12 190.38h7.87" stroke="#278276"/><path d="M444.69 190.38h7.87" stroke="#318c81"/><path d="M452.26 190.38h7.87" stroke="#379d8a"/><path d="M459.83 190.38h7.87" stroke="#439e90"/><path d="M88.9 197.99h7.87" stroke="#6ca967"/><path d="M96.47 197.99h7.87" stroke="#6eae68"/><path d="M104.04 197.99h7.87" stroke="#57a062"/><path d="M111.61 197.99h7.87" stroke="#398752"/><path d="M119.18 197.99h7.87" stroke="#24814e"/><path d="M126.75 197.99h7.87" stroke="#167741"/><path d="M134.32 197.99h7.87" stroke="#1b7948"/><path d="M141.89 197.99h7.87" stroke="#1f7a4a"/><path d="M149.46 197.99h7.87" stroke="#2a7752"/><path d="M157.03 197.99h7.87" stroke="#4d836a"/><path d="M164.6 197.99h7.87" stroke="#6a8c84"/><path d="M172.17 197.99h7.87" stroke="#87919a"/><path d="M179.74 197.99h7.87" stroke="#797d9e"/><path d="M187.31 197.99h7.87" stroke="#7276a3"/><path d="M194.88 197.99h7.87" stroke="#565796"/><path d="M202.45 197.99h7.87" stroke="#1f1f67"/><path d="M210.02 197.99h7.87" stroke="#353079"/><path d="M217.59 197.99h7.87" stroke="#4e3790"/><path d="M225.16 197.99h7.87" stroke="#5d4199"/><path d="M232.73 197.99h7.87" stroke="#6949a3"/><path d="M240.3 197.99h7.87" stroke="#724ea7"/><path d="M247.87 197.99h7.87" stroke="#6f52a2"/><path d="M255.44 197.99h7.87" stroke="#6f5fa2"/><path d="M263.01 197.99h7.87" stroke="#6c69a2"/><path d="M270.58 197.99h7.87" stroke="#6f6fa0"/><path d="M278.15 197.99h7.87" stroke="#7479a4"/><path d="M285.72 197.99h7.87" stroke="#7f86ad"/><path d="M293.29 197.99h7.87" stroke="#8488ac"/><path d="M300.86 197.99h7.87" stroke="#888dac"/><path d="M308.43 197.99h7.87" stroke="#8a86a2"/><path d="M316 197.99h7.87" stroke="#878ca5"/><path d="M323.57 197.99h7.87" stroke="#858ba5"/><path d="M331.14 197.99h7.87" stroke="#7a8e9e"/><path d="M338.71 197.99h7.87" stroke="#7b8f9d"/><path d="M346.28 197.99h7.87" stroke="#79959e"/><path d="M353.85 197.99h7.87" stroke="#73989b"/><path d="M361.42 197.99h7.87" stroke="#89a0a1"/><path d="M368.99 197.99h7.87" stroke="#98a6a2"/><path d="M376.56 197.99h7.87" stroke="#b1b7b3"/><path d="M384.13 197.99h7.87" stroke="#a9bbb7"/><path d="M391.7 197.99h7.87" stroke="#92c0b9"/><path d="M399.27 197.99h7.87" stroke="#7ec0be"/><path d="M406.84 197.99h7.87" stroke="#69b2b1"/><path d="M414.41 197.99h7.87" stroke="#55a9aa"/><path d="M421.98 197.99h7.87" stroke="#44979d"/><path d="M429.55 197.99h7.87" stroke="#3e999a"/><path d="M437.12 197.99h7.87" stroke="#2f97a1"/><path d="M444.69 197.99h7.87" stroke="#2a9eb7"/><path d="M452.26 197.99h7.87" stroke="#2ba5c0"/><path d="M459.83 197.99h7.87" stroke="#35a3ac"/><path d="M88.9 205.6h7.87" stroke="#79b070"/><path d="M96.47 205.6h7.87" stroke="#74ae6b"/><path d="M104.04 205.6h7.87" stroke="#62a165"/><path d="M111.61 205.6h7.87" stroke="#3a8c4e"/><path d="M119.18 205.6h7.87" stroke="#25844a"/><path d="M126.75 205.6h7.87" stroke="#1d7e47"/><path d="M134.32 205.6h7.87" stroke="#1e7945"/><path d="M141.89 205.6h7.87" stroke="#218049"/><path d="M149.46 205.6h7.87" stroke="#277c50"/><path d="M157.03 205.6h7.87" stroke="#4a8269"/><path d="M164.6 205.6h7.87" stroke="#688982"/><path d="M172.17 205.6h7.87" stroke="#7c878e"/><path d="M179.74 205.6h7.87" stroke="#757e97"/><path d="M187.31 205.6h7.87" stroke="#6e739e"/><path d="M194.88 205.6h7.87" stroke="#5c5595"/><path d="M202.45 205.6h7.87" stroke="#232169"/><path d="M210.02 205.6h7.87" stroke="#2e2a73"/><path d="M217.59 205.6h7.87" stroke="#46378b"/><path d="M225.16 205.6h7.87" stroke="#594098"/><path d="M232.73 205.6h7.87" stroke="#593f99"/><path d="M240.3 205.6h7.87" stroke="#6548a6"/><path d="M247.87 205.6h7.87" stroke="#684d9d"/><path d="M255.44 205.6h7.87" stroke="#695a99"/><path d="M263.01 205.6h7.87" stroke="#6c67a0"/><path d="M270.58 205.6h7.87" stroke="#736e9b"/><path d="M278.15 205.6h7.87" stroke="#7576a5"/><path d="M285.72 205.6h7.87" stroke="#7c80a5"/><path d="M293.29 205.6h7.87" stroke="#7f86aa"/><path d="M300.86 205.6h7.87" stroke="#8684a7"/><path d="M308.43 205.6h7.87" stroke="#8781a1"/><path d="M316 205.6h7.87" stroke="#83879e"/><path d="M323.57 205.6h7.87" stroke="#7f859f"/><path d="M331.14 205.6h7.87" stroke="#7c8a9e"/><path d="M338.71 205.6h7.87" stroke="#778f9f"/><path d="M346.28 205.6h7.87" stroke="#728996"/><path d="M353.85 205.6h7.87" stroke="#728f96"/><path d="M361.42 205.6h7.87" stroke="#7b969d"/><path d="M368.99 205.6h7.87" stroke="#93a3a9"/><path d="M376.56 205.6h7.87" stroke="#a4b2b1"/><path d="M384.13 205.6h7.87" stroke="#a1b6b6"/><path d="M391.7 205.6h7.87" stroke="#94bdbf"/><path d="M399.27 205.6h7.87" stroke="#8fcad0"/><path d="M406.84 205.6h7.87" stroke="#85c7d0"/><path d="M414.41 205.6h7.87" stroke="#74bfcb"/><path d="M421.98 205.6h7.87" stroke="#6abace"/><path d="M429.55 205.6h7.87" stroke="#60b9c8"/><path d="M437.12 205.6h7.87" stroke="#59b8c3"/><path d="M444.69 205.6h7.87" stroke="#4eb5b9"/><path d="M452.26 205.6h7.87" stroke="#48b4b8"/><path d="M459.83 205.6h7.87" stroke="#4fbabb"/><path d="M88.9 213.21h7.87" stroke="#7cb575"/><path d="M96.47 213.21h7.87" stroke="#7ab174"/><path d="M104.04 213.21h7.87" stroke="#69a66c"/><path d="M111.61 213.21h7.87" stroke="#419558"/><path d="M119.18 213.21h7.87" stroke="#2a8851"/><path d="M126.75 213.21h7.87" stroke="#22814c"/><path d="M134.32 213.21h7.87" stroke="#21804c"/><path d="M141.89 213.21h7.87" stroke="#288551"/><path d="M149.46 213.21h7.87" stroke="#33895c"/><path d="M157.03 213.21h7.87" stroke="#4e8467"/><path d="M164.6 213.21h7.87" stroke="#688b82"/><path d="M172.17 213.21h7.87" stroke="#818c94"/><path d="M179.74 213.21h7.87" stroke="#79819a"/><path d="M187.31 213.21h7.87" stroke="#6a6b9a"/><path d="M194.88 213.21h7.87" stroke="#565191"/><path d="M202.45 213.21h7.87" stroke="#201d63"/><path d="M210.02 213.21h7.87" stroke="#322e76"/><path d="M217.59 213.21h7.87" stroke="#3f2e85"/><path d="M225.16 213.21h7.87" stroke="#4a338b"/><path d="M232.73 213.21h7.87" stroke="#523b93"/><path d="M240.3 213.21h7.87" stroke="#553793"/><path d="M247.87 213.21h7.87" stroke="#594991"/><path d="M255.44 213.21h7.87" stroke="#635394"/><path d="M263.01 213.21h7.87" stroke="#686294"/><path d="M270.58 213.21h7.87" stroke="#71719c"/><path d="M278.15 213.21h7.87" stroke="#7274a3"/><path d="M285.72 213.21h7.87" stroke="#7c7fa5"/><path d="M293.29 213.21h7.87" stroke="#7c81a1"/><path d="M300.86 213.21h7.87" stroke="#8483a1"/><path d="M308.43 213.21h7.87" stroke="#847f9e"/><path d="M316 213.21h7.87" stroke="#83839b"/><path d="M323.57 213.21h7.87" stroke="#7e869b"/><path d="M331.14 213.21h7.87" stroke="#79819a"/><path d="M338.71 213.21h7.87" stroke="#758799"/><path d="M346.28 213.21h7.87" stroke="#758c93"/><path d="M353.85 213.21h7.87" stroke="#6a8b90"/><path d="M361.42 213.21h7.87" stroke="#759290"/><path d="M368.99 213.21h7.87" stroke="#87a29e"/><path d="M376.56 213.21h7.87" stroke="#97b3ac"/><path d="M384.13 213.21h7.87" stroke="#a0c1bd"/><path d="M391.7 213.21h7.87" stroke="#9ec6c9"/><path d="M399.27 213.21h7.87" stroke="#9acfda"/><path d="M406.84 213.21h7.87" stroke="#9ad3e4"/><path d="M414.41 213.21h7.87" stroke="#92d5e5"/><path d="M421.98 213.21h7.87" stroke="#8acee5"/><path d="M429.55 213.21h7.87" stroke="#93d4e8"/><path d="M437.12 213.21h7.87" stroke="#80d1de"/><path d="M444.69 213.21h7.87" stroke="#65c5c9"/><path d="M452.26 213.21h7.87" stroke="#62c8cc"/><path d="M459.83 213.21h7.87" stroke="#60c7c7"/><path d="M88.9 220.82h7.87" stroke="#71b479"/><path d="M96.47 220.82h7.87" stroke="#73b478"/><path d="M104.04 220.82h7.87" stroke="#64a76e"/><path d="M111.61 220.82h7.87" stroke="#489a5f"/><path d="M119.18 220.82h7.87" stroke="#358a5a"/><path d="M126.75 220.82h7.87" stroke="#237d4d"/><path d="M134.32 220.82h7.87" stroke="#2e8557"/><path d="M141.89 220.82h7.87" stroke="#2c8459"/><path d="M149.46 220.82h7.87" stroke="#3f8d64"/><path d="M157.03 220.82h7.87" stroke="#5d9079"/><path d="M164.6 220.82h7.87" stroke="#75918e"/><path d="M172.17 220.82h7.87" stroke="#878f9a"/><path d="M179.74 220.82h7.87" stroke="#777794"/><path d="M187.31 220.82h7.87" stroke="#716b97"/><path d="M194.88 220.82h7.87" stroke="#564b8d"/><path d="M202.45 220.82h7.87" stroke="#2a256b"/><path d="M210.02 220.82h7.87" stroke="#322e75"/><path d="M217.59 220.82h7.87" stroke="#403080"/><path d="M225.16 220.82h7.87" stroke="#412e7e"/><path d="M232.73 220.82h7.87" stroke="#433183"/><path d="M240.3 220.82h7.87" stroke="#493281"/><path d="M247.87 220.82h7.87" stroke="#594688"/><path d="M255.44 220.82h7.87" stroke="#5c538b"/><path d="M263.01 220.82h7.87" stroke="#625687"/><path d="M270.58 220.82h7.87" stroke="#676390"/><path d="M278.15 220.82h7.87" stroke="#6f6a92"/><path d="M285.72 220.82h7.87" stroke="#767a9f"/><path d="M293.29 220.82h7.87" stroke="#7a779b"/><path d="M300.86 220.82h7.87" stroke="#817b9d"/><path d="M308.43 220.82h7.87" stroke="#7f7790"/><path d="M316 220.82h7.87" stroke="#817e95"/><path d="M323.57 220.82h7.87" stroke="#7a7b95"/><path d="M331.14 220.82h7.87" stroke="#7a8494"/><path d="M338.71 220.82h7.87" stroke="#70838f"/><path d="M346.28 220.82h7.87" stroke="#6b8288"/><path d="M353.85 220.82h7.87" stroke="#628182"/><path d="M361.42 220.82h7.87" stroke="#6c8d88"/><path d="M368.99 220.82h7.87" stroke="#799d91"/><path d="M376.56 220.82h7.87" stroke="#89b6a1"/><path d="M384.13 220.82h7.87" stroke="#9ac7b5"/><path d="M391.7 220.82h7.87" stroke="#9ac8c3"/><path d="M399.27 220.82h7.87" stroke="#aedcda"/><path d="M406.84 220.82h7.87" stroke="#abe1df"/><path d="M414.41 220.82h7.87" stroke="#a8dde6"/><path d="M421.98 220.82h7.87" stroke="#c5ebf2"/><path d="M429.55 220.82h7.87" stroke="#e1f4fb"/><path d="M437.12 220.82h7.87" stroke="#d0f3f5"/><path d="M444.69 220.82h7.87" stroke="#8edbd3"/><path d="M452.26 220.82h7.87" stroke="#77d0c8"/><path d="M459.83 220.82h7.87" stroke="#7dd9c8"/><path d="M88.9 228.43h7.87" stroke="#6fb886"/><path d="M96.47 228.43h7.87" stroke="#66ae7e"/><path d="M104.04 228.43h7.87" stroke="#5dac7a"/><path d="M111.61 228.43h7.87" stroke="#499d6a"/><path d="M119.18 228.43h7.87" stroke="#368b5d"/><path d="M126.75 228.43h7.87" stroke="#328557"/><path d="M134.32 228.43h7.87" stroke="#388b62"/><path d="M141.89 228.43h7.87" stroke="#368b63"/><path d="M149.46 228.43h7.87" stroke="#4a936f"/><path d="M157.03 228.43h7.87" stroke="#629683"/><path d="M164.6 228.43h7.87" stroke="#809594"/><path d="M172.17 228.43h7.87" stroke="#9090a2"/><path d="M179.74 228.43h7.87" stroke="#7f7c9d"/><path d="M187.31 228.43h7.87" stroke="#6f6795"/><path d="M194.88 228.43h7.87" stroke="#594985"/><path d="M202.45 228.43h7.87" stroke="#2e2768"/><path d="M210.02 228.43h7.87" stroke="#2f256b"/><path d="M217.59 228.43h7.87" stroke="#3c2f75"/><path d="M225.16 228.43h7.87" stroke="#362a70"/><path d="M232.73 228.43h7.87" stroke="#442f7c"/><path d="M240.3 228.43h7.87" stroke="#3f2a76"/><path d="M247.87 228.43h7.87" stroke="#523d81"/><path d="M255.44 228.43h7.87" stroke="#594b81"/><path d="M263.01 228.43h7.87" stroke="#635782"/><path d="M270.58 228.43h7.87" stroke="#666187"/><path d="M278.15 228.43h7.87" stroke="#6b6e93"/><path d="M285.72 228.43h7.87" stroke="#6f7493"/><path d="M293.29 228.43h7.87" stroke="#737693"/><path d="M300.86 228.43h7.87" stroke="#777492"/><path d="M308.43 228.43h7.87" stroke="#7f7690"/><path d="M316 228.43h7.87" stroke="#7b7891"/><path d="M323.57 228.43h7.87" stroke="#75768a"/><path d="M331.14 228.43h7.87" stroke="#73788a"/><path d="M338.71 228.43h7.87" stroke="#6a7886"/><path d="M346.28 228.43h7.87" stroke="#677e83"/><path d="M353.85 228.43h7.87" stroke="#5c7e7e"/><path d="M361.42 228.43h7.87" stroke="#658982"/><path d="M368.99 228.43h7.87" stroke="#6f9f89"/><path d="M376.56 228.43h7.87" stroke="#78b293"/><path d="M384.13 228.43h7.87" stroke="#91cead"/><path d="M391.7 228.43h7.87" stroke="#a8dbc2"/><path d="M399.27 228.43h7.87" stroke="#b6e2d5"/><path d="M406.84 228.43h7.87" stroke="#c7f0e9"/><path d="M414.41 228.43h7.87" stroke="#c4f3e9"/><path d="M421.98 228.43h7.87" stroke="#c1ede7"/><path d="M429.55 228.43h7.87" stroke="#bff3e5"/><path d="M437.12 228.43h7.87" stroke="#b3ede0"/><path d="M444.69 228.43h7.87" stroke="#9fe6d2"/><path d="M452.26 228.43h7.87" stroke="#8ddec7"/><path d="M459.83 228.43h7.87" stroke="#8ce0c7"/><path d="M88.9 236.04h7.87" stroke="#71b98d"/><path d="M96.47 236.04h7.87" stroke="#76ba8d"/><path d="M104.04 236.04h7.87" stroke="#67ad81"/><path d="M111.61 236.04h7.87" stroke="#5daa7e"/><path d="M119.18 236.04h7.87" stroke="#4b996b"/><path d="M126.75 236.04h7.87" stroke="#3c8f63"/><path d="M134.32 236.04h7.87" stroke="#44966d"/><path d="M141.89 236.04h7.87" stroke="#4e9673"/><path d="M149.46 236.04h7.87" stroke="#599c7f"/><path d="M157.03 236.04h7.87" stroke="#749f8f"/><path d="M164.6 236.04h7.87" stroke="#8e9e9c"/><path d="M172.17 236.04h7.87" stroke="#a196a5"/><path d="M179.74 236.04h7.87" stroke="#817a95"/><path d="M187.31 236.04h7.87" stroke="#726692"/><path d="M194.88 236.04h7.87" stroke="#4b467d"/><path d="M202.45 236.04h7.87" stroke="#2a2663"/><path d="M210.02 236.04h7.87" stroke="#2b2167"/><path d="M217.59 236.04h7.87" stroke="#32226a"/><path d="M225.16 236.04h7.87" stroke="#332667"/><path d="M232.73 236.04h7.87" stroke="#39266a"/><path d="M240.3 236.04h7.87" stroke="#3d2c6e"/><path d="M247.87 236.04h7.87" stroke="#473a72"/><path d="M255.44 236.04h7.87" stroke="#544c7d"/><path d="M263.01 236.04h7.87" stroke="#5b537a"/><path d="M270.58 236.04h7.87" stroke="#665b80"/><path d="M278.15 236.04h7.87" stroke="#676487"/><path d="M285.72 236.04h7.87" stroke="#69698a"/><path d="M293.29 236.04h7.87" stroke="#766f8d"/><path d="M300.86 236.04h7.87" stroke="#78728e"/><path d="M308.43 236.04h7.87" stroke="#7a748a"/><path d="M316 236.04h7.87" stroke="#727081"/><path d="M323.57 236.04h7.87" stroke="#6d7080"/><path d="M331.14 236.04h7.87" stroke="#6c7382"/><path d="M338.71 236.04h7.87" stroke="#657078"/><path d="M346.28 236.04h7.87" stroke="#627678"/><path d="M353.85 236.04h7.87" stroke="#587573"/><path d="M361.42 236.04h7.87" stroke="#5e8779"/><path d="M368.99 236.04h7.87" stroke="#679b83"/><path d="M376.56 236.04h7.87" stroke="#73b88d"/><path d="M384.13 236.04h7.87" stroke="#84c7a2"/><path d="M391.7 236.04h7.87" stroke="#9ed9b8"/><path d="M399.27 236.04h7.87" stroke="#b5e6d1"/><path d="M406.84 236.04h7.87" stroke="#c6f1de"/><path d="M414.41 236.04h7.87" stroke="#c2edda"/><path d="M421.98 236.04h7.87" stroke="#c6f5e2"/><path d="M429.55 236.04h7.87" stroke="#bcf7db"/><path d="M437.12 236.04h7.87" stroke="#b5f2d9"/><path d="M444.69 236.04h7.87" stroke="#a3e9c9"/><path d="M452.26 236.04h7.87" stroke="#9ae3c2"/><path d="M459.83 236.04h7.87" stroke="#9be3c0"/><path d="M88.9 243.65h7.87" stroke="#8dc79f"/><path d="M96.47 243.65h7.87" stroke="#8ac29a"/><path d="M104.04 243.65h7.87" stroke="#82c597"/><path d="M111.61 243.65h7.87" stroke="#6db68c"/><path d="M119.18 243.65h7.87" stroke="#63af85"/><path d="M126.75 243.65h7.87" stroke="#5daf83"/><path d="M134.32 243.65h7.87" stroke="#62a27f"/><path d="M141.89 243.65h7.87" stroke="#6aa98d"/><path d="M149.46 243.65h7.87" stroke="#7aa995"/><path d="M157.03 243.65h7.87" stroke="#93a19c"/><path d="M164.6 243.65h7.87" stroke="#a99fa8"/><path d="M172.17 243.65h7.87" stroke="#b292ad"/><path d="M179.74 243.65h7.87" stroke="#8c799b"/><path d="M187.31 243.65h7.87" stroke="#665b8e"/><path d="M194.88 243.65h7.87" stroke="#403b77"/><path d="M202.45 243.65h7.87" stroke="#2a2463"/><path d="M210.02 243.65h7.87" stroke="#2b2762"/><path d="M217.59 243.65h7.87" stroke="#312264"/><path d="M225.16 243.65h7.87" stroke="#34286a"/><path d="M232.73 243.65h7.87" stroke="#3a2f69"/><path d="M240.3 243.65h7.87" stroke="#412e69"/><path d="M247.87 243.65h7.87" stroke="#47376b"/><path d="M255.44 243.65h7.87" stroke="#554574"/><path d="M263.01 243.65h7.87" stroke="#66587e"/><path d="M270.58 243.65h7.87" stroke="#635b7a"/><path d="M278.15 243.65h7.87" stroke="#686285"/><path d="M285.72 243.65h7.87" stroke="#6f6b88"/><path d="M293.29 243.65h7.87" stroke="#726987"/><path d="M300.86 243.65h7.87" stroke="#6d6a81"/><path d="M308.43 243.65h7.87" stroke="#786e81"/><path d="M316 243.65h7.87" stroke="#6d6979"/><path d="M323.57 243.65h7.87" stroke="#66677b"/><path d="M331.14 243.65h7.87" stroke="#646879"/><path d="M338.71 243.65h7.87" stroke="#64717d"/><path d="M346.28 243.65h7.87" stroke="#5d7476"/><path d="M353.85 243.65h7.87" stroke="#527169"/><path d="M361.42 243.65h7.87" stroke="#517b6b"/><path d="M368.99 243.65h7.87" stroke="#61947c"/><path d="M376.56 243.65h7.87" stroke="#67a981"/><path d="M384.13 243.65h7.87" stroke="#7bba94"/><path d="M391.7 243.65h7.87" stroke="#8ecea8"/><path d="M399.27 243.65h7.87" stroke="#a7dcc0"/><path d="M406.84 243.65h7.87" stroke="#abe4c6"/><path d="M414.41 243.65h7.87" stroke="#a8e6c7"/><path d="M421.98 243.65h7.87" stroke="#a9e8c6"/><path d="M429.55 243.65h7.87" stroke="#aaeaca"/><path d="M437.12 243.65h7.87" stroke="#a5e5c5"/><path d="M444.69 243.65h7.87" stroke="#99e3bd"/><path d="M452.26 243.65h7.87" stroke="#9ce2ba"/><path d="M459.83 243.65h7.87" stroke="#99e3ba"/><path d="M88.9 251.26h7.87" stroke="#a7dab7"/><path d="M96.47 251.26h7.87" stroke="#a3d7b5"/><path d="M104.04 251.26h7.87" stroke="#97cca7"/><path d="M111.61 251.26h7.87" stroke="#88cea6"/><path d="M119.18 251.26h7.87" stroke="#78c29c"/><path d="M126.75 251.26h7.87" stroke="#74c099"/><path d="M134.32 251.26h7.87" stroke="#80ba9f"/><path d="M141.89 251.26h7.87" stroke="#8bb8a1"/><path d="M149.46 251.26h7.87" stroke="#99b2a8"/><path d="M157.03 251.26h7.87" stroke="#adaaad"/><path d="M164.6 251.26h7.87" stroke="#bf9faf"/><path d="M172.17 251.26h7.87" stroke="#bf91ac"/><path d="M179.74 251.26h7.87" stroke="#907198"/><path d="M187.31 251.26h7.87" stroke="#605488"/><path d="M194.88 251.26h7.87" stroke="#303174"/><path d="M202.45 251.26h7.87" stroke="#1e2258"/><path d="M210.02 251.26h7.87" stroke="#1e1c5a"/><path d="M217.59 251.26h7.87" stroke="#261c5b"/><path d="M225.16 251.26h7.87" stroke="#2d205a"/><path d="M232.73 251.26h7.87" stroke="#392d66"/><path d="M240.3 251.26h7.87" stroke="#46356c"/><path d="M247.87 251.26h7.87" stroke="#4c3e6d"/><path d="M255.44 251.26h7.87" stroke="#584975"/><path d="M263.01 251.26h7.87" stroke="#635071"/><path d="M270.58 251.26h7.87" stroke="#645a74"/><path d="M278.15 251.26h7.87" stroke="#695f7f"/><path d="M285.72 251.26h7.87" stroke="#65617e"/><path d="M293.29 251.26h7.87" stroke="#6d6480"/><path d="M300.86 251.26h7.87" stroke="#6e697a"/><path d="M308.43 251.26h7.87" stroke="#71687b"/><path d="M316 251.26h7.87" stroke="#696674"/><path d="M323.57 251.26h7.87" stroke="#696675"/><path d="M331.14 251.26h7.87" stroke="#6b6b7b"/><path d="M338.71 251.26h7.87" stroke="#656f75"/><path d="M346.28 251.26h7.87" stroke="#5a716e"/><path d="M353.85 251.26h7.87" stroke="#527269"/><path d="M361.42 251.26h7.87" stroke="#55806f"/><path d="M368.99 251.26h7.87" stroke="#599176"/><path d="M376.56 251.26h7.87" stroke="#619a7c"/><path d="M384.13 251.26h7.87" stroke="#6bac89"/><path d="M391.7 251.26h7.87" stroke="#81bf9a"/><path d="M399.27 251.26h7.87" stroke="#89cda5"/><path d="M406.84 251.26h7.87" stroke="#96d9b2"/><path d="M414.41 251.26h7.87" stroke="#96deb6"/><path d="M421.98 251.26h7.87" stroke="#9ce1ba"/><path d="M429.55 251.26h7.87" stroke="#9ae6bb"/><path d="M437.12 251.26h7.87" stroke="#96deb0"/><path d="M444.69 251.26h7.87" stroke="#97dfb2"/><path d="M452.26 251.26h7.87" stroke="#95deae"/><path d="M459.83 251.26h7.87" stroke="#92e0b1"/><path d="M88.9 258.87h7.87" stroke="#add8b7"/><path d="M96.47 258.87h7.87" stroke="#aeddb6"/><path d="M104.04 258.87h7.87" stroke="#a8ddb5"/><path d="M111.61 258.87h7.87" stroke="#94d5ab"/><path d="M119.18 258.87h7.87" stroke="#8ad3aa"/><path d="M126.75 258.87h7.87" stroke="#82cba5"/><path d="M134.32 258.87h7.87" stroke="#88c1a6"/><path d="M141.89 258.87h7.87" stroke="#95bcad"/><path d="M149.46 258.87h7.87" stroke="#a6bcae"/><path d="M157.03 258.87h7.87" stroke="#b8afb2"/><path d="M164.6 258.87h7.87" stroke="#c89aa8"/><path d="M172.17 258.87h7.87" stroke="#ca8fab"/><path d="M179.74 258.87h7.87" stroke="#957095"/><path d="M187.31 258.87h7.87" stroke="#5e5187"/><path d="M194.88 258.87h7.87" stroke="#28306c"/><path d="M202.45 258.87h7.87" stroke="#1e2059"/><path d="M210.02 258.87h7.87" stroke="#242058"/><path d="M217.59 258.87h7.87" stroke="#201a52"/><path d="M225.16 258.87h7.87" stroke="#2c2155"/><path d="M232.73 258.87h7.87" stroke="#3c2b60"/><path d="M240.3 258.87h7.87" stroke="#453a66"/><path d="M247.87 258.87h7.87" stroke="#4a3d66"/><path d="M255.44 258.87h7.87" stroke="#58476d"/><path d="M263.01 258.87h7.87" stroke="#68516f"/><path d="M270.58 258.87h7.87" stroke="#645570"/><path d="M278.15 258.87h7.87" stroke="#625570"/><path d="M285.72 258.87h7.87" stroke="#645b74"/><path d="M293.29 258.87h7.87" stroke="#685f77"/><path d="M300.86 258.87h7.87" stroke="#646271"/><path d="M308.43 258.87h7.87" stroke="#616173"/><path d="M316 258.87h7.87" stroke="#646370"/><path d="M323.57 258.87h7.87" stroke="#656575"/><path d="M331.14 258.87h7.87" stroke="#616972"/><path d="M338.71 258.87h7.87" stroke="#5e6a6b"/><path d="M346.28 258.87h7.87" stroke="#566b6a"/><path d="M353.85 258.87h7.87" stroke="#566d67"/><path d="M361.42 258.87h7.87" stroke="#587b6d"/><path d="M368.99 258.87h7.87" stroke="#5a856e"/><path d="M376.56 258.87h7.87" stroke="#589476"/><path d="M384.13 258.87h7.87" stroke="#63a07d"/><path d="M391.7 258.87h7.87" stroke="#76b18d"/><path d="M399.27 258.87h7.87" stroke="#87c69e"/><path d="M406.84 258.87h7.87" stroke="#85cb9e"/><path d="M414.41 258.87h7.87" stroke="#80caa1"/><path d="M421.98 258.87h7.87" stroke="#7ccca1"/><path d="M429.55 258.87h7.87" stroke="#7ac899"/><path d="M437.12 258.87h7.87" stroke="#7cc999"/><path d="M444.69 258.87h7.87" stroke="#7ccd9c"/><path d="M452.26 258.87h7.87" stroke="#89d4a5"/><path d="M459.83 258.87h7.87" stroke="#83cd9a"/><path d="M88.9 266.48h7.87" stroke="#a9dcb0"/><path d="M96.47 266.48h7.87" stroke="#a9deb6"/><path d="M104.04 266.48h7.87" stroke="#96d2a7"/><path d="M111.61 266.48h7.87" stroke="#8bd1a5"/><path d="M119.18 266.48h7.87" stroke="#73c99e"/><path d="M126.75 266.48h7.87" stroke="#6cc397"/><path d="M134.32 266.48h7.87" stroke="#6abf99"/><path d="M141.89 266.48h7.87" stroke="#72b797"/><path d="M149.46 266.48h7.87" stroke="#7dab96"/><path d="M157.03 266.48h7.87" stroke="#93a49b"/><path d="M164.6 266.48h7.87" stroke="#ac999a"/><path d="M172.17 266.48h7.87" stroke="#b18897"/><path d="M179.74 266.48h7.87" stroke="#896d8a"/><path d="M187.31 266.48h7.87" stroke="#564c7a"/><path d="M194.88 266.48h7.87" stroke="#2e326a"/><path d="M202.45 266.48h7.87" stroke="#222456"/><path d="M210.02 266.48h7.87" stroke="#252354"/><path d="M217.59 266.48h7.87" stroke="#251b4a"/><path d="M225.16 266.48h7.87" stroke="#372857"/><path d="M232.73 266.48h7.87" stroke="#442f5f"/><path d="M240.3 266.48h7.87" stroke="#4a3161"/><path d="M247.87 266.48h7.87" stroke="#544164"/><path d="M255.44 266.48h7.87" stroke="#654a71"/><path d="M263.01 266.48h7.87" stroke="#6d5471"/><path d="M270.58 266.48h7.87" stroke="#695b72"/><path d="M278.15 266.48h7.87" stroke="#62586e"/><path d="M285.72 266.48h7.87" stroke="#645e72"/><path d="M293.29 266.48h7.87" stroke="#605b6a"/><path d="M300.86 266.48h7.87" stroke="#635f72"/><path d="M308.43 266.48h7.87" stroke="#6a6472"/><path d="M316 266.48h7.87" stroke="#676472"/><path d="M323.57 266.48h7.87" stroke="#646269"/><path d="M331.14 266.48h7.87" stroke="#61686b"/><path d="M338.71 266.48h7.87" stroke="#626d6d"/><path d="M346.28 266.48h7.87" stroke="#5b6b6f"/><path d="M353.85 266.48h7.87" stroke="#53686a"/><path d="M361.42 266.48h7.87" stroke="#5b7c74"/><path d="M368.99 266.48h7.87" stroke="#64887d"/><path d="M376.56 266.48h7.87" stroke="#63947b"/><path d="M384.13 266.48h7.87" stroke="#6f9c82"/><path d="M391.7 266.48h7.87" stroke="#80ae8f"/><path d="M399.27 266.48h7.87" stroke="#8bb898"/><path d="M406.84 266.48h7.87" stroke="#88ba96"/><path d="M414.41 266.48h7.87" stroke="#71b290"/><path d="M421.98 266.48h7.87" stroke="#5eb283"/><path d="M429.55 266.48h7.87" stroke="#54af80"/><path d="M437.12 266.48h7.87" stroke="#54ac7a"/><path d="M444.69 266.48h7.87" stroke="#56af7c"/><path d="M452.26 266.48h7.87" stroke="#5db380"/><path d="M459.83 266.48h7.87" stroke="#5fb982"/><path d="M88.9 274.08h7.87" stroke="#a3d9ac"/><path d="M96.47 274.08h7.87" stroke="#9fdbaa"/><path d="M104.04 274.08h7.87" stroke="#8dce9f"/><path d="M111.61 274.08h7.87" stroke="#7dd09e"/><path d="M119.18 274.08h7.87" stroke="#66c493"/><path d="M126.75 274.08h7.87" stroke="#59bf91"/><path d="M134.32 274.08h7.87" stroke="#53b38a"/><path d="M141.89 274.08h7.87" stroke="#49ac7f"/><path d="M149.46 274.08h7.87" stroke="#54a983"/><path d="M157.03 274.08h7.87" stroke="#78a087"/><path d="M164.6 274.08h7.87" stroke="#908e88"/><path d="M172.17 274.08h7.87" stroke="#a18586"/><path d="M179.74 274.08h7.87" stroke="#79687b"/><path d="M187.31 274.08h7.87" stroke="#4a496c"/><path d="M194.88 274.08h7.87" stroke="#2b2f5c"/><path d="M202.45 274.08h7.87" stroke="#222850"/><path d="M210.02 274.08h7.87" stroke="#232652"/><path d="M217.59 274.08h7.87" stroke="#261940"/><path d="M225.16 274.08h7.87" stroke="#37274f"/><path d="M232.73 274.08h7.87" stroke="#4a3258"/><path d="M240.3 274.08h7.87" stroke="#553663"/><path d="M247.87 274.08h7.87" stroke="#573b60"/><path d="M255.44 274.08h7.87" stroke="#67476b"/><path d="M263.01 274.08h7.87" stroke="#6e5271"/><path d="M270.58 274.08h7.87" stroke="#635068"/><path d="M278.15 274.08h7.87" stroke="#67596c"/><path d="M285.72 274.08h7.87" stroke="#5f5365"/><path d="M293.29 274.08h7.87" stroke="#625c6d"/><path d="M300.86 274.08h7.87" stroke="#605e69"/><path d="M308.43 274.08h7.87" stroke="#5b5965"/><path d="M316 274.08h7.87" stroke="#5d5c64"/><path d="M323.57 274.08h7.87" stroke="#626066"/><path d="M331.14 274.08h7.87" stroke="#5c6467"/><path d="M338.71 274.08h7.87" stroke="#5c6367"/><path d="M346.28 274.08h7.87" stroke="#616c72"/><path d="M353.85 274.08h7.87" stroke="#596b6c"/><path d="M361.42 274.08h7.87" stroke="#657c79"/><path d="M368.99 274.08h7.87" stroke="#6b8a80"/><path d="M376.56 274.08h7.87" stroke="#72968c"/><path d="M384.13 274.08h7.87" stroke="#769a8d"/><path d="M391.7 274.08h7.87" stroke="#839f8a"/><path d="M399.27 274.08h7.87" stroke="#90a18a"/><path d="M406.84 274.08h7.87" stroke="#7c9f83"/><path d="M414.41 274.08h7.87" stroke="#599570"/><path d="M421.98 274.08h7.87" stroke="#3a9365"/><path d="M429.55 274.08h7.87" stroke="#30905f"/><path d="M437.12 274.08h7.87" stroke="#2d9160"/><path d="M444.69 274.08h7.87" stroke="#399262"/><path d="M452.26 274.08h7.87" stroke="#3c9a63"/><path d="M459.83 274.08h7.87" stroke="#409b66"/><path d="M88.9 281.69h7.87" stroke="#92d19f"/><path d="M96.47 281.69h7.87" stroke="#8ed19e"/><path d="M104.04 281.69h7.87" stroke="#8cd19f"/><path d="M111.61 281.69h7.87" stroke="#72c994"/><path d="M119.18 281.69h7.87" stroke="#56ba87"/><path d="M126.75 281.69h7.87" stroke="#4ebe87"/><path d="M134.32 281.69h7.87" stroke="#46b67f"/><path d="M141.89 281.69h7.87" stroke="#3dac78"/><path d="M149.46 281.69h7.87" stroke="#3ca171"/><path d="M157.03 281.69h7.87" stroke="#5d9776"/><path d="M164.6 281.69h7.87" stroke="#7e8e77"/><path d="M172.17 281.69h7.87" stroke="#8f817b"/><path d="M179.74 281.69h7.87" stroke="#706974"/><path d="M187.31 281.69h7.87" stroke="#4b4e64"/><path d="M194.88 281.69h7.87" stroke="#2f365a"/><path d="M202.45 281.69h7.87" stroke="#212349"/><path d="M210.02 281.69h7.87" stroke="#252447"/><path d="M217.59 281.69h7.87" stroke="#291e40"/><path d="M225.16 281.69h7.87" stroke="#3c2648"/><path d="M232.73 281.69h7.87" stroke="#453052"/><path d="M240.3 281.69h7.87" stroke="#5b395d"/><path d="M247.87 281.69h7.87" stroke="#5b3f63"/><path d="M255.44 281.69h7.87" stroke="#654768"/><path d="M263.01 281.69h7.87" stroke="#725572"/><path d="M270.58 281.69h7.87" stroke="#69516d"/><path d="M278.15 281.69h7.87" stroke="#615068"/><path d="M285.72 281.69h7.87" stroke="#63596a"/><path d="M293.29 281.69h7.87" stroke="#5d5863"/><path d="M300.86 281.69h7.87" stroke="#5d5661"/><path d="M308.43 281.69h7.87" stroke="#5c5a65"/><path d="M316 281.69h7.87" stroke="#595c65"/><path d="M323.57 281.69h7.87" stroke="#5d5f61"/><path d="M331.14 281.69h7.87" stroke="#5a5e5f"/><path d="M338.71 281.69h7.87" stroke="#5e6665"/><path d="M346.28 281.69h7.87" stroke="#606b6e"/><path d="M353.85 281.69h7.87" stroke="#607175"/><path d="M361.42 281.69h7.87" stroke="#63797c"/><path d="M368.99 281.69h7.87" stroke="#73878c"/><path d="M376.56 281.69h7.87" stroke="#7b9492"/><path d="M384.13 281.69h7.87" stroke="#809d95"/><path d="M391.7 281.69h7.87" stroke="#8b9990"/><path d="M399.27 281.69h7.87" stroke="#8e9587"/><path d="M406.84 281.69h7.87" stroke="#7f967e"/><path d="M414.41 281.69h7.87" stroke="#4d8a6c"/><path d="M421.98 281.69h7.87" stroke="#267b55"/><path d="M429.55 281.69h7.87" stroke="#0f7649"/><path d="M437.12 281.69h7.87" stroke="#177d4c"/><path d="M444.69 281.69h7.87" stroke="#21874f"/><path d="M452.26 281.69h7.87" stroke="#268753"/><path d="M459.83 281.69h7.87" stroke="#28864e"/><path d="M88.9 289.31h7.87" stroke="#85ce8d"/><path d="M96.47 289.31h7.87" stroke="#86d093"/><path d="M104.04 289.31h7.87" stroke="#7eca8e"/><path d="M111.61 289.31h7.87" stroke="#72c581"/><path d="M119.18 289.31h7.87" stroke="#66bb7b"/><path d="M126.75 289.31h7.87" stroke="#5bb276"/><path d="M134.32 289.31h7.87" stroke="#4fad72"/><path d="M141.89 289.31h7.87" stroke="#39a76b"/><path d="M149.46 289.31h7.87" stroke="#3ea36c"/><path d="M157.03 289.31h7.87" stroke="#5a996e"/><path d="M164.6 289.31h7.87" stroke="#7a9577"/><path d="M172.17 289.31h7.87" stroke="#8b8977"/><path d="M179.74 289.31h7.87" stroke="#6d6d6e"/><path d="M187.31 289.31h7.87" stroke="#4e5767"/><path d="M194.88 289.31h7.87" stroke="#2c3858"/><path d="M202.45 289.31h7.87" stroke="#26274b"/><path d="M210.02 289.31h7.87" stroke="#2b2949"/><path d="M217.59 289.31h7.87" stroke="#272342"/><path d="M225.16 289.31h7.87" stroke="#392b47"/><path d="M232.73 289.31h7.87" stroke="#4a2e56"/><path d="M240.3 289.31h7.87" stroke="#57365b"/><path d="M247.87 289.31h7.87" stroke="#5e4462"/><path d="M255.44 289.31h7.87" stroke="#5f425f"/><path d="M263.01 289.31h7.87" stroke="#69506a"/><path d="M270.58 289.31h7.87" stroke="#685369"/><path d="M278.15 289.31h7.87" stroke="#675968"/><path d="M285.72 289.31h7.87" stroke="#645965"/><path d="M293.29 289.31h7.87" stroke="#5d5360"/><path d="M300.86 289.31h7.87" stroke="#5d5c66"/><path d="M308.43 289.31h7.87" stroke="#5d5b68"/><path d="M316 289.31h7.87" stroke="#5b5d60"/><path d="M323.57 289.31h7.87" stroke="#5c5f62"/><path d="M331.14 289.31h7.87" stroke="#5e6466"/><path d="M338.71 289.31h7.87" stroke="#5a6467"/><path d="M346.28 289.31h7.87" stroke="#5c6c70"/><path d="M353.85 289.31h7.87" stroke="#617677"/><path d="M361.42 289.31h7.87" stroke="#6d8689"/><path d="M368.99 289.31h7.87" stroke="#759092"/><path d="M376.56 289.31h7.87" stroke="#7ea19d"/><path d="M384.13 289.31h7.87" stroke="#88a49f"/><path d="M391.7 289.31h7.87" stroke="#899e96"/><path d="M399.27 289.31h7.87" stroke="#8da28d"/><path d="M406.84 289.31h7.87" stroke="#759d84"/><path d="M414.41 289.31h7.87" stroke="#4d8f6f"/><path d="M421.98 289.31h7.87" stroke="#24845e"/><path d="M429.55 289.31h7.87" stroke="#137c54"/><path d="M437.12 289.31h7.87" stroke="#157b4f"/><path d="M444.69 289.31h7.87" stroke="#1c7f4d"/><path d="M452.26 289.31h7.87" stroke="#298454"/><path d="M459.83 289.31h7.87" stroke="#268a51"/><path d="M88.9 296.92h7.87" stroke="#74cc80"/><path d="M96.47 296.92h7.87" stroke="#75cc83"/><path d="M104.04 296.92h7.87" stroke="#74c37d"/><path d="M111.61 296.92h7.87" stroke="#74c178"/><path d="M119.18 296.92h7.87" stroke="#73b668"/><path d="M126.75 296.92h7.87" stroke="#68ad64"/><path d="M134.32 296.92h7.87" stroke="#56aa67"/><path d="M141.89 296.92h7.87" stroke="#43a663"/><path d="M149.46 296.92h7.87" stroke="#379d63"/><path d="M157.03 296.92h7.87" stroke="#5ea26f"/><path d="M164.6 296.92h7.87" stroke="#769675"/><path d="M172.17 296.92h7.87" stroke="#878e7b"/><path d="M179.74 296.92h7.87" stroke="#6b7670"/><path d="M187.31 296.92h7.87" stroke="#4f5a64"/><path d="M194.88 296.92h7.87" stroke="#313e57"/><path d="M202.45 296.92h7.87" stroke="#252749"/><path d="M210.02 296.92h7.87" stroke="#26284a"/><path d="M217.59 296.92h7.87" stroke="#292440"/><path d="M225.16 296.92h7.87" stroke="#392846"/><path d="M232.73 296.92h7.87" stroke="#482e52"/><path d="M240.3 296.92h7.87" stroke="#56345a"/><path d="M247.87 296.92h7.87" stroke="#593c5a"/><path d="M255.44 296.92h7.87" stroke="#614b63"/><path d="M263.01 296.92h7.87" stroke="#694f69"/><path d="M270.58 296.92h7.87" stroke="#634b63"/><path d="M278.15 296.92h7.87" stroke="#5e5162"/><path d="M285.72 296.92h7.87" stroke="#5a5360"/><path d="M293.29 296.92h7.87" stroke="#5f5963"/><path d="M300.86 296.92h7.87" stroke="#5d5c67"/><path d="M308.43 296.92h7.87" stroke="#5a575e"/><path d="M316 296.92h7.87" stroke="#555a5c"/><path d="M323.57 296.92h7.87" stroke="#5b5c5e"/><path d="M331.14 296.92h7.87" stroke="#596363"/><path d="M338.71 296.92h7.87" stroke="#5a6562"/><path d="M346.28 296.92h7.87" stroke="#606e70"/><path d="M353.85 296.92h7.87" stroke="#5f7c79"/><path d="M361.42 296.92h7.87" stroke="#6b8487"/><path d="M368.99 296.92h7.87" stroke="#789696"/><path d="M376.56 296.92h7.87" stroke="#86aaaa"/><path d="M384.13 296.92h7.87" stroke="#8cb4ac"/><path d="M391.7 296.92h7.87" stroke="#87ad9c"/><path d="M399.27 296.92h7.87" stroke="#86ac95"/><path d="M406.84 296.92h7.87" stroke="#719d83"/><path d="M414.41 296.92h7.87" stroke="#499672"/><path d="M421.98 296.92h7.87" stroke="#21875f"/><path d="M429.55 296.92h7.87" stroke="#158057"/><path d="M437.12 296.92h7.87" stroke="#177c4d"/><path d="M444.69 296.92h7.87" stroke="#1d8050"/><path d="M452.26 296.92h7.87" stroke="#278950"/><path d="M459.83 296.92h7.87" stroke="#34935b"/><path d="M88.9 304.53h7.87" stroke="#6bc473"/><path d="M96.47 304.53h7.87" stroke="#6fcb7b"/><path d="M104.04 304.53h7.87" stroke="#6ebe70"/><path d="M111.61 304.53h7.87" stroke="#78be72"/><path d="M119.18 304.53h7.87" stroke="#80b367"/><path d="M126.75 304.53h7.87" stroke="#82b267"/><path d="M134.32 304.53h7.87" stroke="#6ab26b"/><path d="M141.89 304.53h7.87" stroke="#52ac6a"/><path d="M149.46 304.53h7.87" stroke="#46a46f"/><path d="M157.03 304.53h7.87" stroke="#65aa75"/><path d="M164.6 304.53h7.87" stroke="#7aa67c"/><path d="M172.17 304.53h7.87" stroke="#8c9f7d"/><path d="M179.74 304.53h7.87" stroke="#6c7e70"/><path d="M187.31 304.53h7.87" stroke="#516365"/><path d="M194.88 304.53h7.87" stroke="#2b3a4e"/><path d="M202.45 304.53h7.87" stroke="#212648"/><path d="M210.02 304.53h7.87" stroke="#252443"/><path d="M217.59 304.53h7.87" stroke="#241e35"/><path d="M225.16 304.53h7.87" stroke="#342444"/><path d="M232.73 304.53h7.87" stroke="#40314b"/><path d="M240.3 304.53h7.87" stroke="#4c3257"/><path d="M247.87 304.53h7.87" stroke="#583e5b"/><path d="M255.44 304.53h7.87" stroke="#604e66"/><path d="M263.01 304.53h7.87" stroke="#624a62"/><path d="M270.58 304.53h7.87" stroke="#645467"/><path d="M278.15 304.53h7.87" stroke="#5b4e5e"/><path d="M285.72 304.53h7.87" stroke="#5a515f"/><path d="M293.29 304.53h7.87" stroke="#5b5862"/><path d="M300.86 304.53h7.87" stroke="#58595f"/><path d="M308.43 304.53h7.87" stroke="#53555f"/><path d="M316 304.53h7.87" stroke="#5a5e62"/><path d="M323.57 304.53h7.87" stroke="#575e5d"/><path d="M331.14 304.53h7.87" stroke="#555f5a"/><path d="M338.71 304.53h7.87" stroke="#5e6866"/><path d="M346.28 304.53h7.87" stroke="#5c7574"/><path d="M353.85 304.53h7.87" stroke="#617c79"/><path d="M361.42 304.53h7.87" stroke="#6f8f91"/><path d="M368.99 304.53h7.87" stroke="#7d9fa2"/><path d="M376.56 304.53h7.87" stroke="#95bab9"/><path d="M384.13 304.53h7.87" stroke="#94bbb6"/><path d="M391.7 304.53h7.87" stroke="#93b7ae"/><path d="M399.27 304.53h7.87" stroke="#8fb4a0"/><path d="M406.84 304.53h7.87" stroke="#70a690"/><path d="M414.41 304.53h7.87" stroke="#57a383"/><path d="M421.98 304.53h7.87" stroke="#2f936e"/><path d="M429.55 304.53h7.87" stroke="#208b62"/><path d="M437.12 304.53h7.87" stroke="#21855c"/><path d="M444.69 304.53h7.87" stroke="#2a885b"/><path d="M452.26 304.53h7.87" stroke="#349058"/><path d="M459.83 304.53h7.87" stroke="#37915f"/><path d="M88.9 312.14h7.87" stroke="#70c27e"/><path d="M96.47 312.14h7.87" stroke="#68c27b"/><path d="M104.04 312.14h7.87" stroke="#71c47b"/><path d="M111.61 312.14h7.87" stroke="#87cb80"/><path d="M119.18 312.14h7.87" stroke="#94c885"/><path d="M126.75 312.14h7.87" stroke="#99c986"/><path d="M134.32 312.14h7.87" stroke="#88c185"/><path d="M141.89 312.14h7.87" stroke="#70c386"/><path d="M149.46 312.14h7.87" stroke="#69b986"/><path d="M157.03 312.14h7.87" stroke="#73b183"/><path d="M164.6 312.14h7.87" stroke="#81ae84"/><path d="M172.17 312.14h7.87" stroke="#88a482"/><path d="M179.74 312.14h7.87" stroke="#6b7e71"/><path d="M187.31 312.14h7.87" stroke="#536164"/><path d="M194.88 312.14h7.87" stroke="#343c54"/><path d="M202.45 312.14h7.87" stroke="#262d44"/><path d="M210.02 312.14h7.87" stroke="#232440"/><path d="M217.59 312.14h7.87" stroke="#29213c"/><path d="M225.16 312.14h7.87" stroke="#322b44"/><path d="M232.73 312.14h7.87" stroke="#413048"/><path d="M240.3 312.14h7.87" stroke="#4c364f"/><path d="M247.87 312.14h7.87" stroke="#56425e"/><path d="M255.44 312.14h7.87" stroke="#5a4d64"/><path d="M263.01 312.14h7.87" stroke="#5c4e62"/><path d="M270.58 312.14h7.87" stroke="#5a4f61"/><path d="M278.15 312.14h7.87" stroke="#59515a"/><path d="M285.72 312.14h7.87" stroke="#5a5260"/><path d="M293.29 312.14h7.87" stroke="#58535d"/><path d="M300.86 312.14h7.87" stroke="#58585c"/><path d="M308.43 312.14h7.87" stroke="#515457"/><path d="M316 312.14h7.87" stroke="#53535a"/><path d="M323.57 312.14h7.87" stroke="#505a5c"/><path d="M331.14 312.14h7.87" stroke="#545d5c"/><path d="M338.71 312.14h7.87" stroke="#576967"/><path d="M346.28 312.14h7.87" stroke="#5c7472"/><path d="M353.85 312.14h7.87" stroke="#5a817b"/><path d="M361.42 312.14h7.87" stroke="#6d9591"/><path d="M368.99 312.14h7.87" stroke="#87acab"/><path d="M376.56 312.14h7.87" stroke="#a0c1bd"/><path d="M384.13 312.14h7.87" stroke="#a6c5c4"/><path d="M391.7 312.14h7.87" stroke="#aac7bd"/><path d="M399.27 312.14h7.87" stroke="#b1c7b9"/><path d="M406.84 312.14h7.87" stroke="#9dc0b1"/><path d="M414.41 312.14h7.87" stroke="#82bca6"/><path d="M421.98 312.14h7.87" stroke="#61b399"/><path d="M429.55 312.14h7.87" stroke="#4eab86"/><path d="M437.12 312.14h7.87" stroke="#43a178"/><path d="M444.69 312.14h7.87" stroke="#3a9c70"/><path d="M452.26 312.14h7.87" stroke="#399266"/><path d="M459.83 312.14h7.87" stroke="#3a9569"/><path d="M88.9 319.75h7.87" stroke="#6ac27f"/><path d="M96.47 319.75h7.87" stroke="#69bd80"/><path d="M104.04 319.75h7.87" stroke="#7ac585"/><path d="M111.61 319.75h7.87" stroke="#8bc98b"/><path d="M119.18 319.75h7.87" stroke="#aad89d"/><path d="M126.75 319.75h7.87" stroke="#b1d89f"/><path d="M134.32 319.75h7.87" stroke="#9ed5a1"/><path d="M141.89 319.75h7.87" stroke="#93d3a0"/><path d="M149.46 319.75h7.87" stroke="#80c89e"/><path d="M157.03 319.75h7.87" stroke="#8ac79a"/><path d="M164.6 319.75h7.87" stroke="#8bb58c"/><path d="M172.17 319.75h7.87" stroke="#89a888"/><path d="M179.74 319.75h7.87" stroke="#6c8678"/><path d="M187.31 319.75h7.87" stroke="#4f6365"/><path d="M194.88 319.75h7.87" stroke="#313e4d"/><path d="M202.45 319.75h7.87" stroke="#262b46"/><path d="M210.02 319.75h7.87" stroke="#292d44"/><path d="M217.59 319.75h7.87" stroke="#2a263b"/><path d="M225.16 319.75h7.87" stroke="#312e43"/><path d="M232.73 319.75h7.87" stroke="#40304a"/><path d="M240.3 319.75h7.87" stroke="#4a3551"/><path d="M247.87 319.75h7.87" stroke="#534559"/><path d="M255.44 319.75h7.87" stroke="#51435a"/><path d="M263.01 319.75h7.87" stroke="#574c60"/><path d="M270.58 319.75h7.87" stroke="#59555e"/><path d="M278.15 319.75h7.87" stroke="#55535e"/><path d="M285.72 319.75h7.87" stroke="#55525d"/><path d="M293.29 319.75h7.87" stroke="#565357"/><path d="M300.86 319.75h7.87" stroke="#545559"/><path d="M308.43 319.75h7.87" stroke="#525358"/><path d="M316 319.75h7.87" stroke="#545858"/><path d="M323.57 319.75h7.87" stroke="#545e5a"/><path d="M331.14 319.75h7.87" stroke="#505d5a"/><path d="M338.71 319.75h7.87" stroke="#586c6b"/><path d="M346.28 319.75h7.87" stroke="#57746f"/><path d="M353.85 319.75h7.87" stroke="#598382"/><path d="M361.42 319.75h7.87" stroke="#749f9b"/><path d="M368.99 319.75h7.87" stroke="#8eb3b1"/><path d="M376.56 319.75h7.87" stroke="#a8c1c0"/><path d="M384.13 319.75h7.87" stroke="#c0ced1"/><path d="M391.7 319.75h7.87" stroke="#c4d7d0"/><path d="M399.27 319.75h7.87" stroke="#ced7d1"/><path d="M406.84 319.75h7.87" stroke="#c5d9d0"/><path d="M414.41 319.75h7.87" stroke="#b1d7cc"/><path d="M421.98 319.75h7.87" stroke="#9ad3c2"/><path d="M429.55 319.75h7.87" stroke="#7cc3b2"/><path d="M437.12 319.75h7.87" stroke="#62b79a"/><path d="M444.69 319.75h7.87" stroke="#4a9f7d"/><path d="M452.26 319.75h7.87" stroke="#43a079"/><path d="M459.83 319.75h7.87" stroke="#419c77"/><path d="M88.9 327.36h7.87" stroke="#6cb67e"/><path d="M96.47 327.36h7.87" stroke="#68b87d"/><path d="M104.04 327.36h7.87" stroke="#7ac58e"/><path d="M111.61 327.36h7.87" stroke="#94d098"/><path d="M119.18 327.36h7.87" stroke="#bae3b3"/><path d="M126.75 327.36h7.87" stroke="#c7eab5"/><path d="M134.32 327.36h7.87" stroke="#bbe4bb"/><path d="M141.89 327.36h7.87" stroke="#aee5b9"/><path d="M149.46 327.36h7.87" stroke="#a1e1bb"/><path d="M157.03 327.36h7.87" stroke="#98cca8"/><path d="M164.6 327.36h7.87" stroke="#91bc98"/><path d="M172.17 327.36h7.87" stroke="#88ac8b"/><path d="M179.74 327.36h7.87" stroke="#688477"/><path d="M187.31 327.36h7.87" stroke="#516c6a"/><path d="M194.88 327.36h7.87" stroke="#354757"/><path d="M202.45 327.36h7.87" stroke="#273349"/><path d="M210.02 327.36h7.87" stroke="#2a2a40"/><path d="M217.59 327.36h7.87" stroke="#29253a"/><path d="M225.16 327.36h7.87" stroke="#372e43"/><path d="M232.73 327.36h7.87" stroke="#40384a"/><path d="M240.3 327.36h7.87" stroke="#483851"/><path d="M247.87 327.36h7.87" stroke="#493b54"/><path d="M255.44 327.36h7.87" stroke="#50465c"/><path d="M263.01 327.36h7.87" stroke="#4f485c"/><path d="M270.58 327.36h7.87" stroke="#50515c"/><path d="M278.15 327.36h7.87" stroke="#4c4c58"/><path d="M285.72 327.36h7.87" stroke="#535158"/><path d="M293.29 327.36h7.87" stroke="#53525a"/><path d="M300.86 327.36h7.87" stroke="#4d4f52"/><path d="M308.43 327.36h7.87" stroke="#54575b"/><path d="M316 327.36h7.87" stroke="#54575c"/><path d="M323.57 327.36h7.87" stroke="#4f5b5a"/><path d="M331.14 327.36h7.87" stroke="#4e625c"/><path d="M338.71 327.36h7.87" stroke="#557169"/><path d="M346.28 327.36h7.87" stroke="#5a7f79"/><path d="M353.85 327.36h7.87" stroke="#5b8e85"/><path d="M361.42 327.36h7.87" stroke="#74a09c"/><path d="M368.99 327.36h7.87" stroke="#92b5b1"/><path d="M376.56 327.36h7.87" stroke="#b5cac8"/><path d="M384.13 327.36h7.87" stroke="#cadbd5"/><path d="M391.7 327.36h7.87" stroke="#d9dddc"/><path d="M399.27 327.36h7.87" stroke="#ebe9e7"/><path d="M406.84 327.36h7.87" stroke="#eef0ef"/><path d="M414.41 327.36h7.87" stroke="#d3efea"/><path d="M421.98 327.36h7.87" stroke="#c1ece6"/><path d="M429.55 327.36h7.87" stroke="#a7ded5"/><path d="M437.12 327.36h7.87" stroke="#87c9b6"/><path d="M444.69 327.36h7.87" stroke="#62b594"/><path d="M452.26 327.36h7.87" stroke="#479f80"/><path d="M459.83 327.36h7.87" stroke="#4baa86"/><path d="M88.9 334.97h7.87" stroke="#77be86"/><path d="M96.47 334.97h7.87" stroke="#79bc81"/><path d="M104.04 334.97h7.87" stroke="#82c18a"/><path d="M111.61 334.97h7.87" stroke="#a5cfa0"/><path d="M119.18 334.97h7.87" stroke="#c3e2af"/><path d="M126.75 334.97h7.87" stroke="#cee9c0"/><path d="M134.32 334.97h7.87" stroke="#bfe5bf"/><path d="M141.89 334.97h7.87" stroke="#ade3c3"/><path d="M149.46 334.97h7.87" stroke="#a4e0c3"/><path d="M157.03 334.97h7.87" stroke="#9bcdae"/><path d="M164.6 334.97h7.87" stroke="#97c0a2"/><path d="M172.17 334.97h7.87" stroke="#85ac91"/><path d="M179.74 334.97h7.87" stroke="#6e8e80"/><path d="M187.31 334.97h7.87" stroke="#53696c"/><path d="M194.88 334.97h7.87" stroke="#334051"/><path d="M202.45 334.97h7.87" stroke="#272e49"/><path d="M210.02 334.97h7.87" stroke="#282b41"/><path d="M217.59 334.97h7.87" stroke="#222338"/><path d="M225.16 334.97h7.87" stroke="#2d3041"/><path d="M232.73 334.97h7.87" stroke="#343147"/><path d="M240.3 334.97h7.87" stroke="#423d4f"/><path d="M247.87 334.97h7.87" stroke="#414052"/><path d="M255.44 334.97h7.87" stroke="#494554"/><path d="M263.01 334.97h7.87" stroke="#414053"/><path d="M270.58 334.97h7.87" stroke="#4b4a57"/><path d="M278.15 334.97h7.87" stroke="#4f4d57"/><path d="M285.72 334.97h7.87" stroke="#4d5357"/><path d="M293.29 334.97h7.87" stroke="#4c5255"/><path d="M300.86 334.97h7.87" stroke="#474f55"/><path d="M308.43 334.97h7.87" stroke="#4f5155"/><path d="M316 334.97h7.87" stroke="#4e5255"/><path d="M323.57 334.97h7.87" stroke="#4e5f5d"/><path d="M331.14 334.97h7.87" stroke="#4f675e"/><path d="M338.71 334.97h7.87" stroke="#547767"/><path d="M346.28 334.97h7.87" stroke="#557f73"/><path d="M353.85 334.97h7.87" stroke="#5e9283"/><path d="M361.42 334.97h7.87" stroke="#719a91"/><path d="M368.99 334.97h7.87" stroke="#8eb3a7"/><path d="M376.56 334.97h7.87" stroke="#afc8bf"/><path d="M384.13 334.97h7.87" stroke="#c7d6d1"/><path d="M391.7 334.97h7.87" stroke="#d4dedb"/><path d="M399.27 334.97h7.87" stroke="#e1e7e5"/><path d="M406.84 334.97h7.87" stroke="#e2f0e7"/><path d="M414.41 334.97h7.87" stroke="#d5f1e9"/><path d="M421.98 334.97h7.87" stroke="#c7f6e9"/><path d="M429.55 334.97h7.87" stroke="#a6e1d4"/><path d="M437.12 334.97h7.87" stroke="#84ceb0"/><path d="M444.69 334.97h7.87" stroke="#65bb98"/><path d="M452.26 334.97h7.87" stroke="#4aac82"/><path d="M459.83 334.97h7.87" stroke="#4ca883"/><path d="M88.9 342.57h7.87" stroke="#85bd88"/><path d="M96.47 342.57h7.87" stroke="#85c188"/><path d="M104.04 342.57h7.87" stroke="#91c894"/><path d="M111.61 342.57h7.87" stroke="#aed2a7"/><path d="M119.18 342.57h7.87" stroke="#cee1b7"/><path d="M126.75 342.57h7.87" stroke="#daefc8"/><path d="M134.32 342.57h7.87" stroke="#c7e7c8"/><path d="M141.89 342.57h7.87" stroke="#b2dfc5"/><path d="M149.46 342.57h7.87" stroke="#a5e3cb"/><path d="M157.03 342.57h7.87" stroke="#9ed3bd"/><path d="M164.6 342.57h7.87" stroke="#98c8b2"/><path d="M172.17 342.57h7.87" stroke="#8ab39d"/><path d="M179.74 342.57h7.87" stroke="#6c8b86"/><path d="M187.31 342.57h7.87" stroke="#50686d"/><path d="M194.88 342.57h7.87" stroke="#314153"/><path d="M202.45 342.57h7.87" stroke="#2a354b"/><path d="M210.02 342.57h7.87" stroke="#2a2c44"/><path d="M217.59 342.57h7.87" stroke="#282d39"/><path d="M225.16 342.57h7.87" stroke="#2f323e"/><path d="M232.73 342.57h7.87" stroke="#3c3a49"/><path d="M240.3 342.57h7.87" stroke="#3c3b49"/><path d="M247.87 342.57h7.87" stroke="#3b4251"/><path d="M255.44 342.57h7.87" stroke="#3e3f51"/><path d="M263.01 342.57h7.87" stroke="#3f4251"/><path d="M270.58 342.57h7.87" stroke="#404354"/><path d="M278.15 342.57h7.87" stroke="#3f4652"/><path d="M285.72 342.57h7.87" stroke="#474b54"/><path d="M293.29 342.57h7.87" stroke="#424a50"/><path d="M300.86 342.57h7.87" stroke="#4a5154"/><path d="M308.43 342.57h7.87" stroke="#4c5455"/><path d="M316 342.57h7.87" stroke="#4b5757"/><path d="M323.57 342.57h7.87" stroke="#50675f"/><path d="M331.14 342.57h7.87" stroke="#5a7162"/><path d="M338.71 342.57h7.87" stroke="#587b66"/><path d="M346.28 342.57h7.87" stroke="#568272"/><path d="M353.85 342.57h7.87" stroke="#5d8f80"/><path d="M361.42 342.57h7.87" stroke="#709f94"/><path d="M368.99 342.57h7.87" stroke="#90b2a8"/><path d="M376.56 342.57h7.87" stroke="#aecabc"/><path d="M384.13 342.57h7.87" stroke="#bfd2cd"/><path d="M391.7 342.57h7.87" stroke="#c8ddd3"/><path d="M399.27 342.57h7.87" stroke="#dde7e5"/><path d="M406.84 342.57h7.87" stroke="#e2efec"/><path d="M414.41 342.57h7.87" stroke="#cbf0e0"/><path d="M421.98 342.57h7.87" stroke="#c2f3e5"/><path d="M429.55 342.57h7.87" stroke="#a9efd3"/><path d="M437.12 342.57h7.87" stroke="#88d4b3"/><path d="M444.69 342.57h7.87" stroke="#6ac199"/><path d="M452.26 342.57h7.87" stroke="#58b585"/><path d="M459.83 342.57h7.87" stroke="#54b383"/><path d="M88.9 350.19h7.87" stroke="#92c493"/><path d="M96.47 350.19h7.87" stroke="#90bb8c"/><path d="M104.04 350.19h7.87" stroke="#9aca96"/><path d="M111.61 350.19h7.87" stroke="#b5d2a6"/><path d="M119.18 350.19h7.87" stroke="#cedeb5"/><path d="M126.75 350.19h7.87" stroke="#dfe9c9"/><path d="M134.32 350.19h7.87" stroke="#c4e6ca"/><path d="M141.89 350.19h7.87" stroke="#b0e4cd"/><path d="M149.46 350.19h7.87" stroke="#a7e0cd"/><path d="M157.03 350.19h7.87" stroke="#9fd4c4"/><path d="M164.6 350.19h7.87" stroke="#9ecbba"/><path d="M172.17 350.19h7.87" stroke="#8db4a2"/><path d="M179.74 350.19h7.87" stroke="#6f8e8c"/><path d="M187.31 350.19h7.87" stroke="#4e646b"/><path d="M194.88 350.19h7.87" stroke="#2e4051"/><path d="M202.45 350.19h7.87" stroke="#2a364a"/><path d="M210.02 350.19h7.87" stroke="#272e41"/><path d="M217.59 350.19h7.87" stroke="#282e3a"/><path d="M225.16 350.19h7.87" stroke="#29313f"/><path d="M232.73 350.19h7.87" stroke="#323942"/><path d="M240.3 350.19h7.87" stroke="#3c4350"/><path d="M247.87 350.19h7.87" stroke="#343d45"/><path d="M255.44 350.19h7.87" stroke="#343b49"/><path d="M263.01 350.19h7.87" stroke="#38394b"/><path d="M270.58 350.19h7.87" stroke="#323648"/><path d="M278.15 350.19h7.87" stroke="#39434d"/><path d="M285.72 350.19h7.87" stroke="#404752"/><path d="M293.29 350.19h7.87" stroke="#3f424b"/><path d="M300.86 350.19h7.87" stroke="#434a4b"/><path d="M308.43 350.19h7.87" stroke="#43504c"/><path d="M316 350.19h7.87" stroke="#4c5d57"/><path d="M323.57 350.19h7.87" stroke="#546a5e"/><path d="M331.14 350.19h7.87" stroke="#5b7462"/><path d="M338.71 350.19h7.87" stroke="#5f836d"/><path d="M346.28 350.19h7.87" stroke="#5e8970"/><path d="M353.85 350.19h7.87" stroke="#5d9280"/><path d="M361.42 350.19h7.87" stroke="#76a491"/><path d="M368.99 350.19h7.87" stroke="#87b1a0"/><path d="M376.56 350.19h7.87" stroke="#a1c1b4"/><path d="M384.13 350.19h7.87" stroke="#b8d0c4"/><path d="M391.7 350.19h7.87" stroke="#c4d9cf"/><path d="M399.27 350.19h7.87" stroke="#d7e7e1"/><path d="M406.84 350.19h7.87" stroke="#d7ece3"/><path d="M414.41 350.19h7.87" stroke="#caf4e2"/><path d="M421.98 350.19h7.87" stroke="#bcf7dc"/><path d="M429.55 350.19h7.87" stroke="#a5efd0"/><path d="M437.12 350.19h7.87" stroke="#89dab2"/><path d="M444.69 350.19h7.87" stroke="#66c294"/><path d="M452.26 350.19h7.87" stroke="#54b580"/><path d="M459.83 350.19h7.87" stroke="#53b27e"/><path d="M88.9 357.8h7.87" stroke="#a2c398"/><path d="M96.47 357.8h7.87" stroke="#a8c89c"/><path d="M104.04 357.8h7.87" stroke="#b0cda2"/><path d="M111.61 357.8h7.87" stroke="#bbd4b1"/><path d="M119.18 357.8h7.87" stroke="#d1e2bf"/><path d="M126.75 357.8h7.87" stroke="#cfe8ca"/><path d="M134.32 357.8h7.87" stroke="#c1e7cc"/><path d="M141.89 357.8h7.87" stroke="#afe4ca"/><path d="M149.46 357.8h7.87" stroke="#a5e1cc"/><path d="M157.03 357.8h7.87" stroke="#9fceba"/><path d="M164.6 357.8h7.87" stroke="#9ec4b3"/><path d="M172.17 357.8h7.87" stroke="#93afa0"/><path d="M179.74 357.8h7.87" stroke="#718a83"/><path d="M187.31 357.8h7.87" stroke="#4b6263"/><path d="M194.88 357.8h7.87" stroke="#263f48"/><path d="M202.45 357.8h7.87" stroke="#25333f"/><path d="M210.02 357.8h7.87" stroke="#232a3a"/><path d="M217.59 357.8h7.87" stroke="#212634"/><path d="M225.16 357.8h7.87" stroke="#202437"/><path d="M232.73 357.8h7.87" stroke="#2c2b3f"/><path d="M240.3 357.8h7.87" stroke="#272a3e"/><path d="M247.87 357.8h7.87" stroke="#2d2e42"/><path d="M255.44 357.8h7.87" stroke="#262a38"/><path d="M263.01 357.8h7.87" stroke="#222a37"/><path d="M270.58 357.8h7.87" stroke="#222937"/><path d="M278.15 357.8h7.87" stroke="#2a2f37"/><path d="M285.72 357.8h7.87" stroke="#282e37"/><path d="M293.29 357.8h7.87" stroke="#2a363a"/><path d="M300.86 357.8h7.87" stroke="#303c3d"/><path d="M308.43 357.8h7.87" stroke="#344441"/><path d="M316 357.8h7.87" stroke="#43524b"/><path d="M323.57 357.8h7.87" stroke="#506a57"/><path d="M331.14 357.8h7.87" stroke="#5c7965"/><path d="M338.71 357.8h7.87" stroke="#61856d"/><path d="M346.28 357.8h7.87" stroke="#659173"/><path d="M353.85 357.8h7.87" stroke="#5e937a"/><path d="M361.42 357.8h7.87" stroke="#6a9d82"/><path d="M368.99 357.8h7.87" stroke="#80ae9a"/><path d="M376.56 357.8h7.87" stroke="#90b8a8"/><path d="M384.13 357.8h7.87" stroke="#a3c1b3"/><path d="M391.7 357.8h7.87" stroke="#b0c6bb"/><path d="M399.27 357.8h7.87" stroke="#bdcec9"/><path d="M406.84 357.8h7.87" stroke="#c0d7cd"/><path d="M414.41 357.8h7.87" stroke="#b4ddce"/><path d="M421.98 357.8h7.87" stroke="#aee4ce"/><path d="M429.55 357.8h7.87" stroke="#9fdebe"/><path d="M437.12 357.8h7.87" stroke="#7ccca2"/><path d="M444.69 357.8h7.87" stroke="#64c191"/><path d="M452.26 357.8h7.87" stroke="#52b77c"/><path d="M459.83 357.8h7.87" stroke="#4fb078"/><path d="M88.9 365.41h7.87" stroke="#b9caa0"/><path d="M96.47 365.41h7.87" stroke="#bccca0"/><path d="M104.04 365.41h7.87" stroke="#bfd4ac"/><path d="M111.61 365.41h7.87" stroke="#c3ddbb"/><path d="M119.18 365.41h7.87" stroke="#c2e2c1"/><path d="M126.75 365.41h7.87" stroke="#c4eecd"/><path d="M134.32 365.41h7.87" stroke="#b7ebcc"/><path d="M141.89 365.41h7.87" stroke="#a1e1c4"/><path d="M149.46 365.41h7.87" stroke="#9bdbc4"/><path d="M157.03 365.41h7.87" stroke="#9eceb6"/><path d="M164.6 365.41h7.87" stroke="#a7c4af"/><path d="M172.17 365.41h7.87" stroke="#a4b5a3"/><path d="M179.74 365.41h7.87" stroke="#77857e"/><path d="M187.31 365.41h7.87" stroke="#4c6161"/><path d="M194.88 365.41h7.87" stroke="#284048"/><path d="M202.45 365.41h7.87" stroke="#243241"/><path d="M210.02 365.41h7.87" stroke="#202b3a"/><path d="M217.59 365.41h7.87" stroke="#181e28"/><path d="M225.16 365.41h7.87" stroke="#1d202d"/><path d="M232.73 365.41h7.87" stroke="#181b2e"/><path d="M240.3 365.41h7.87" stroke="#181e2c"/><path d="M247.87 365.41h7.87" stroke="#191e2f"/><path d="M255.44 365.41h7.87" stroke="#1a202e"/><path d="M263.01 365.41h7.87" stroke="#101225"/><path d="M270.58 365.41h7.87" stroke="#191e27"/><path d="M278.15 365.41h7.87" stroke="#151725"/><path d="M285.72 365.41h7.87" stroke="#131c22"/><path d="M293.29 365.41h7.87" stroke="#171f23"/><path d="M300.86 365.41h7.87" stroke="#293432"/><path d="M308.43 365.41h7.87" stroke="#2d3b33"/><path d="M316 365.41h7.87" stroke="#415045"/><path d="M323.57 365.41h7.87" stroke="#4b6050"/><path d="M331.14 365.41h7.87" stroke="#57765a"/><path d="M338.71 365.41h7.87" stroke="#617e67"/><path d="M346.28 365.41h7.87" stroke="#628e6c"/><path d="M353.85 365.41h7.87" stroke="#5e9571"/><path d="M361.42 365.41h7.87" stroke="#609876"/><path d="M368.99 365.41h7.87" stroke="#6ca086"/><path d="M376.56 365.41h7.87" stroke="#7fa793"/><path d="M384.13 365.41h7.87" stroke="#8fafa2"/><path d="M391.7 365.41h7.87" stroke="#a0b9ac"/><path d="M399.27 365.41h7.87" stroke="#acc0ba"/><path d="M406.84 365.41h7.87" stroke="#acc2ba"/><path d="M414.41 365.41h7.87" stroke="#acd3be"/><path d="M421.98 365.41h7.87" stroke="#a2d6b9"/><path d="M429.55 365.41h7.87" stroke="#95d6b1"/><path d="M437.12 365.41h7.87" stroke="#7ccc9b"/><path d="M444.69 365.41h7.87" stroke="#59b381"/><path d="M452.26 365.41h7.87" stroke="#4db379"/><path d="M459.83 365.41h7.87" stroke="#49b175"/><path d="M88.9 373.02h7.87" stroke="#c9d2ab"/><path d="M96.47 373.02h7.87" stroke="#c8d0aa"/><path d="M104.04 373.02h7.87" stroke="#cbd6b0"/><path d="M111.61 373.02h7.87" stroke="#c1deb9"/><path d="M119.18 373.02h7.87" stroke="#b8dec2"/><path d="M126.75 373.02h7.87" stroke="#b5eacd"/><path d="M134.32 373.02h7.87" stroke="#a4e2c5"/><path d="M141.89 373.02h7.87" stroke="#9fdfc5"/><path d="M149.46 373.02h7.87" stroke="#9cdbbf"/><path d="M157.03 373.02h7.87" stroke="#a6cfba"/><path d="M164.6 373.02h7.87" stroke="#b1c5b1"/><path d="M172.17 373.02h7.87" stroke="#a5ac99"/><path d="M179.74 373.02h7.87" stroke="#7b8579"/><path d="M187.31 373.02h7.87" stroke="#4c5f5d"/><path d="M194.88 373.02h7.87" stroke="#294045"/><path d="M202.45 373.02h7.87" stroke="#1e2d37"/><path d="M210.02 373.02h7.87" stroke="#1c2733"/><path d="M217.59 373.02h7.87" stroke="#121424"/><path d="M225.16 373.02h7.87" stroke="#0f1523"/><path d="M232.73 373.02h7.87" stroke="#141829"/><path d="M240.3 373.02h7.87" stroke="#0e0f23"/><path d="M247.87 373.02h7.87" stroke="#0b0e1d"/><path d="M255.44 373.02h7.87" stroke="#090b17"/><path d="M263.01 373.02h7.87" stroke="#0c0918"/><path d="M270.58 373.02h7.87" stroke="#040915"/><path d="M278.15 373.02h7.87" stroke="#050d14"/><path d="M285.72 373.02h7.87" stroke="#04090c"/><path d="M293.29 373.02h7.87" stroke="#0a1318"/><path d="M300.86 373.02h7.87" stroke="#141f1c"/><path d="M308.43 373.02h7.87" stroke="#1c2522"/><path d="M316 373.02h7.87" stroke="#2d3b2f"/><path d="M323.57 373.02h7.87" stroke="#414f42"/><path d="M331.14 373.02h7.87" stroke="#596f56"/><path d="M338.71 373.02h7.87" stroke="#607f64"/><path d="M346.28 373.02h7.87" stroke="#59825f"/><path d="M353.85 373.02h7.87" stroke="#5d906b"/><path d="M361.42 373.02h7.87" stroke="#5e9675"/><path d="M368.99 373.02h7.87" stroke="#66977b"/><path d="M376.56 373.02h7.87" stroke="#6da08c"/><path d="M384.13 373.02h7.87" stroke="#7ca694"/><path d="M391.7 373.02h7.87" stroke="#86a89f"/><path d="M399.27 373.02h7.87" stroke="#9bb0ac"/><path d="M406.84 373.02h7.87" stroke="#9db6a6"/><path d="M414.41 373.02h7.87" stroke="#9fc4af"/><path d="M421.98 373.02h7.87" stroke="#97cdaf"/><path d="M429.55 373.02h7.87" stroke="#83c9a1"/><path d="M437.12 373.02h7.87" stroke="#6dbe92"/><path d="M444.69 373.02h7.87" stroke="#55b778"/><path d="M452.26 373.02h7.87" stroke="#47b173"/><path d="M459.83 373.02h7.87" stroke="#47b070"/><path d="M88.9 380.63h7.87" stroke="#b6d0a9"/><path d="M96.47 380.63h7.87" stroke="#b6d0aa"/><path d="M104.04 380.63h7.87" stroke="#accbaa"/><path d="M111.61 380.63h7.87" stroke="#acdab3"/><path d="M119.18 380.63h7.87" stroke="#a2d5bb"/><path d="M126.75 380.63h7.87" stroke="#a1debf"/><path d="M134.32 380.63h7.87" stroke="#a0dbbf"/><path d="M141.89 380.63h7.87" stroke="#9bd6b2"/><path d="M149.46 380.63h7.87" stroke="#99d0ac"/><path d="M157.03 380.63h7.87" stroke="#a2bba3"/><path d="M164.6 380.63h7.87" stroke="#a7ab94"/><path d="M172.17 380.63h7.87" stroke="#a69b89"/><path d="M179.74 380.63h7.87" stroke="#797671"/><path d="M187.31 380.63h7.87" stroke="#495351"/><path d="M194.88 380.63h7.87" stroke="#26373d"/><path d="M202.45 380.63h7.87" stroke="#212b35"/><path d="M210.02 380.63h7.87" stroke="#161e28"/><path d="M217.59 380.63h7.87" stroke="#0f1220"/><path d="M225.16 380.63h7.87" stroke="#10101c"/><path d="M232.73 380.63h7.87" stroke="#060616"/><path d="M240.3 380.63h7.87" stroke="#0a0d19"/><path d="M247.87 380.63h7.87" stroke="#0b0d16"/><path d="M255.44 380.63h7.87" stroke="#121a15"/><path d="M263.01 380.63h7.87" stroke="#141b10"/><path d="M270.58 380.63h7.87" stroke="#09130a"/><path d="M278.15 380.63h7.87" stroke="#051110"/><path d="M285.72 380.63h7.87" stroke="#000908"/><path d="M293.29 380.63h7.87" stroke="#000b0c"/><path d="M300.86 380.63h7.87" stroke="#0f1618"/><path d="M308.43 380.63h7.87" stroke="#0f191e"/><path d="M316 380.63h7.87" stroke="#222c26"/><path d="M323.57 380.63h7.87" stroke="#303f33"/><path d="M331.14 380.63h7.87" stroke="#4b5848"/><path d="M338.71 380.63h7.87" stroke="#546b55"/><path d="M346.28 380.63h7.87" stroke="#547958"/><path d="M353.85 380.63h7.87" stroke="#50825e"/><path d="M361.42 380.63h7.87" stroke="#538a69"/><path d="M368.99 380.63h7.87" stroke="#5e8e71"/><path d="M376.56 380.63h7.87" stroke="#679782"/><path d="M384.13 380.63h7.87" stroke="#75a28d"/><path d="M391.7 380.63h7.87" stroke="#7ea793"/><path d="M399.27 380.63h7.87" stroke="#8da89d"/><path d="M406.84 380.63h7.87" stroke="#95b5a2"/><path d="M414.41 380.63h7.87" stroke="#89b99a"/><path d="M421.98 380.63h7.87" stroke="#86c09c"/><path d="M429.55 380.63h7.87" stroke="#7cc596"/><path d="M437.12 380.63h7.87" stroke="#61ba83"/><path d="M444.69 380.63h7.87" stroke="#4eb374"/><path d="M452.26 380.63h7.87" stroke="#3fa466"/><path d="M459.83 380.63h7.87" stroke="#40a466"/><path d="M88.9 388.24h7.87" stroke="#9ac9a1"/><path d="M96.47 388.24h7.87" stroke="#99c9a5"/><path d="M104.04 388.24h7.87" stroke="#99c8a9"/><path d="M111.61 388.24h7.87" stroke="#9acfb1"/><path d="M119.18 388.24h7.87" stroke="#94d4b4"/><path d="M126.75 388.24h7.87" stroke="#91d3b4"/><path d="M134.32 388.24h7.87" stroke="#96d1b2"/><path d="M141.89 388.24h7.87" stroke="#99c9a8"/><path d="M149.46 388.24h7.87" stroke="#9bc69f"/><path d="M157.03 388.24h7.87" stroke="#a4b496"/><path d="M164.6 388.24h7.87" stroke="#a9a186"/><path d="M172.17 388.24h7.87" stroke="#a28d7c"/><path d="M179.74 388.24h7.87" stroke="#796b5f"/><path d="M187.31 388.24h7.87" stroke="#494947"/><path d="M194.88 388.24h7.87" stroke="#252c30"/><path d="M202.45 388.24h7.87" stroke="#1e232e"/><path d="M210.02 388.24h7.87" stroke="#151725"/><path d="M217.59 388.24h7.87" stroke="#090816"/><path d="M225.16 388.24h7.87" stroke="#090b16"/><path d="M232.73 388.24h7.87" stroke="#05010e"/><path d="M240.3 388.24h7.87" stroke="#070511"/><path d="M247.87 388.24h7.87" stroke="#101209"/><path d="M255.44 388.24h7.87" stroke="#181f0a"/><path d="M263.01 388.24h7.87" stroke="#232d10"/><path d="M270.58 388.24h7.87" stroke="#111d06"/><path d="M278.15 388.24h7.87" stroke="#09170c"/><path d="M285.72 388.24h7.87" stroke="#070f0c"/><path d="M293.29 388.24h7.87" stroke="#090d0e"/><path d="M300.86 388.24h7.87" stroke="#071210"/><path d="M308.43 388.24h7.87" stroke="#13191a"/><path d="M316 388.24h7.87" stroke="#1d2823"/><path d="M323.57 388.24h7.87" stroke="#333a30"/><path d="M331.14 388.24h7.87" stroke="#545c4e"/><path d="M338.71 388.24h7.87" stroke="#56674d"/><path d="M346.28 388.24h7.87" stroke="#567c58"/><path d="M353.85 388.24h7.87" stroke="#4d7d58"/><path d="M361.42 388.24h7.87" stroke="#548865"/><path d="M368.99 388.24h7.87" stroke="#5a9574"/><path d="M376.56 388.24h7.87" stroke="#609379"/><path d="M384.13 388.24h7.87" stroke="#66997f"/><path d="M391.7 388.24h7.87" stroke="#7aa489"/><path d="M399.27 388.24h7.87" stroke="#88aa91"/><path d="M406.84 388.24h7.87" stroke="#88af94"/><path d="M414.41 388.24h7.87" stroke="#7db28b"/><path d="M421.98 388.24h7.87" stroke="#7cbc8f"/><path d="M429.55 388.24h7.87" stroke="#6dba84"/><path d="M437.12 388.24h7.87" stroke="#58b075"/><path d="M444.69 388.24h7.87" stroke="#41a664"/><path d="M452.26 388.24h7.87" stroke="#3fa362"/><path d="M459.83 388.24h7.87" stroke="#399e58"/><path d="M88.9 395.84h7.87" stroke="#80c09b"/><path d="M96.47 395.84h7.87" stroke="#84c0a2"/><path d="M104.04 395.84h7.87" stroke="#81c5a4"/><path d="M111.61 395.84h7.87" stroke="#7fc9a6"/><path d="M119.18 395.84h7.87" stroke="#81cab0"/><path d="M126.75 395.84h7.87" stroke="#86ceae"/><path d="M134.32 395.84h7.87" stroke="#8fc7a6"/><path d="M141.89 395.84h7.87" stroke="#96c29e"/><path d="M149.46 395.84h7.87" stroke="#a4bf95"/><path d="M157.03 395.84h7.87" stroke="#a4a383"/><path d="M164.6 395.84h7.87" stroke="#a69376"/><path d="M172.17 395.84h7.87" stroke="#9c7364"/><path d="M179.74 395.84h7.87" stroke="#775c55"/><path d="M187.31 395.84h7.87" stroke="#473f3b"/><path d="M194.88 395.84h7.87" stroke="#23222a"/><path d="M202.45 395.84h7.87" stroke="#191522"/><path d="M210.02 395.84h7.87" stroke="#10121a"/><path d="M217.59 395.84h7.87" stroke="#040813"/><path d="M225.16 395.84h7.87" stroke="#06030c"/><path d="M232.73 395.84h7.87" stroke="#030006"/><path d="M240.3 395.84h7.87" stroke="#000001"/><path d="M247.87 395.84h7.87" stroke="#121d04"/><path d="M255.44 395.84h7.87" stroke="#2a340a"/><path d="M263.01 395.84h7.87" stroke="#394b0f"/><path d="M270.58 395.84h7.87" stroke="#273808"/><path d="M278.15 395.84h7.87" stroke="#18300b"/><path d="M285.72 395.84h7.87" stroke="#0e230a"/><path d="M293.29 395.84h7.87" stroke="#132a18"/><path d="M300.86 395.84h7.87" stroke="#1c2b1e"/><path d="M308.43 395.84h7.87" stroke="#202f23"/><path d="M316 395.84h7.87" stroke="#344532"/><path d="M323.57 395.84h7.87" stroke="#465344"/><path d="M331.14 395.84h7.87" stroke="#65715c"/><path d="M338.71 395.84h7.87" stroke="#6a7f5d"/><path d="M346.28 395.84h7.87" stroke="#577c55"/><path d="M353.85 395.84h7.87" stroke="#4f8355"/><path d="M361.42 395.84h7.87" stroke="#4d835b"/><path d="M368.99 395.84h7.87" stroke="#538d64"/><path d="M376.56 395.84h7.87" stroke="#5d9575"/><path d="M384.13 395.84h7.87" stroke="#639780"/><path d="M391.7 395.84h7.87" stroke="#709d7b"/><path d="M399.27 395.84h7.87" stroke="#7b9e84"/><path d="M406.84 395.84h7.87" stroke="#7eaa87"/><path d="M414.41 395.84h7.87" stroke="#7ab289"/><path d="M421.98 395.84h7.87" stroke="#6db17f"/><path d="M429.55 395.84h7.87" stroke="#62b47b"/><path d="M437.12 395.84h7.87" stroke="#4fa568"/><path d="M444.69 395.84h7.87" stroke="#42a25d"/><path d="M452.26 395.84h7.87" stroke="#369c56"/><path d="M459.83 395.84h7.87" stroke="#379e57"/><path d="M88.9 403.45h7.87" stroke="#78ba98"/><path d="M96.47 403.45h7.87" stroke="#72b895"/><path d="M104.04 403.45h7.87" stroke="#7fbea1"/><path d="M111.61 403.45h7.87" stroke="#87c1ac"/><path d="M119.18 403.45h7.87" stroke="#92bfad"/><path d="M126.75 403.45h7.87" stroke="#94b8ad"/><path d="M134.32 403.45h7.87" stroke="#8cb1a7"/><path d="M141.89 403.45h7.87" stroke="#82a498"/><path d="M149.46 403.45h7.87" stroke="#788f88"/><path d="M157.03 403.45h7.87" stroke="#787c73"/><path d="M164.6 403.45h7.87" stroke="#7a6b69"/><path d="M172.17 403.45h7.87" stroke="#765953"/><path d="M179.74 403.45h7.87" stroke="#534745"/><path d="M187.31 403.45h7.87" stroke="#332c32"/><path d="M194.88 403.45h7.87" stroke="#1d1e25"/><path d="M202.45 403.45h7.87" stroke="#191823"/><path d="M210.02 403.45h7.87" stroke="#090514"/><path d="M217.59 403.45h7.87" stroke="#01000f"/><path d="M225.16 403.45h7.87" stroke="#06090c"/><path d="M232.73 403.45h7.87" stroke="#010304"/><path d="M240.3 403.45h7.87" stroke="#070a07"/><path d="M247.87 403.45h7.87" stroke="#0f1b03"/><path d="M255.44 403.45h7.87" stroke="#263508"/><path d="M263.01 403.45h7.87" stroke="#394b0d"/><path d="M270.58 403.45h7.87" stroke="#263e09"/><path d="M278.15 403.45h7.87" stroke="#223b0c"/><path d="M285.72 403.45h7.87" stroke="#163112"/><path d="M293.29 403.45h7.87" stroke="#1f3c1e"/><path d="M300.86 403.45h7.87" stroke="#2c442b"/><path d="M308.43 403.45h7.87" stroke="#304831"/><path d="M316 403.45h7.87" stroke="#43543c"/><path d="M323.57 403.45h7.87" stroke="#5e6a50"/><path d="M331.14 403.45h7.87" stroke="#6b7859"/><path d="M338.71 403.45h7.87" stroke="#66815c"/><path d="M346.28 403.45h7.87" stroke="#5c815c"/><path d="M353.85 403.45h7.87" stroke="#4f8459"/><path d="M361.42 403.45h7.87" stroke="#4e8762"/><path d="M368.99 403.45h7.87" stroke="#518c68"/><path d="M376.56 403.45h7.87" stroke="#569574"/><path d="M384.13 403.45h7.87" stroke="#649d80"/><path d="M391.7 403.45h7.87" stroke="#76a284"/><path d="M399.27 403.45h7.87" stroke="#8ab492"/><path d="M406.84 403.45h7.87" stroke="#8dbd96"/><path d="M414.41 403.45h7.87" stroke="#7ebc89"/><path d="M421.98 403.45h7.87" stroke="#6dba85"/><path d="M429.55 403.45h7.87" stroke="#6abd82"/><path d="M437.12 403.45h7.87" stroke="#5cae6e"/><path d="M444.69 403.45h7.87" stroke="#4ba75a"/><path d="M452.26 403.45h7.87" stroke="#4aa353"/><path d="M459.83 403.45h7.87" stroke="#4aa152"/><path d="M88.9 411.06h7.87" stroke="#69b78f"/><path d="M96.47 411.06h7.87" stroke="#65b292"/><path d="M104.04 411.06h7.87" stroke="#74b799"/><path d="M111.61 411.06h7.87" stroke="#91baa8"/><path d="M119.18 411.06h7.87" stroke="#a4b4b3"/><path d="M126.75 411.06h7.87" stroke="#a5adb3"/><path d="M134.32 411.06h7.87" stroke="#8c9aa8"/><path d="M141.89 411.06h7.87" stroke="#6d7f96"/><path d="M149.46 411.06h7.87" stroke="#50677f"/><path d="M157.03 411.06h7.87" stroke="#525f6c"/><path d="M164.6 411.06h7.87" stroke="#554d5b"/><path d="M172.17 411.06h7.87" stroke="#4b3e42"/><path d="M179.74 411.06h7.87" stroke="#392e35"/><path d="M187.31 411.06h7.87" stroke="#201926"/><path d="M194.88 411.06h7.87" stroke="#110f19"/><path d="M202.45 411.06h7.87" stroke="#140e1b"/><path d="M210.02 411.06h7.87" stroke="#090210"/><path d="M217.59 411.06h7.87" stroke="#01010b"/><path d="M225.16 411.06h7.87" stroke="#090a11"/><path d="M232.73 411.06h7.87" stroke="#08080b"/><path d="M240.3 411.06h7.87" stroke="#090805"/><path d="M247.87 411.06h7.87" stroke="#131e09"/><path d="M255.44 411.06h7.87" stroke="#25390f"/><path d="M263.01 411.06h7.87" stroke="#2f430b"/><path d="M270.58 411.06h7.87" stroke="#28430c"/><path d="M278.15 411.06h7.87" stroke="#203c0f"/><path d="M285.72 411.06h7.87" stroke="#11370b"/><path d="M293.29 411.06h7.87" stroke="#1e3a1a"/><path d="M300.86 411.06h7.87" stroke="#2a472a"/><path d="M308.43 411.06h7.87" stroke="#384f33"/><path d="M316 411.06h7.87" stroke="#485d41"/><path d="M323.57 411.06h7.87" stroke="#5f6a4c"/><path d="M331.14 411.06h7.87" stroke="#737c58"/><path d="M338.71 411.06h7.87" stroke="#687f57"/><path d="M346.28 411.06h7.87" stroke="#588358"/><path d="M353.85 411.06h7.87" stroke="#487e55"/><path d="M361.42 411.06h7.87" stroke="#46895a"/><path d="M368.99 411.06h7.87" stroke="#488d63"/><path d="M376.56 411.06h7.87" stroke="#4e8f74"/><path d="M384.13 411.06h7.87" stroke="#5c9b7e"/><path d="M391.7 411.06h7.87" stroke="#7cb28d"/><path d="M399.27 411.06h7.87" stroke="#9ac79c"/><path d="M406.84 411.06h7.87" stroke="#96ca99"/><path d="M414.41 411.06h7.87" stroke="#83c594"/><path d="M421.98 411.06h7.87" stroke="#76ce92"/><path d="M429.55 411.06h7.87" stroke="#65bf7f"/><path d="M437.12 411.06h7.87" stroke="#67bd72"/><path d="M444.69 411.06h7.87" stroke="#63b35d"/><path d="M452.26 411.06h7.87" stroke="#5faf58"/><path d="M459.83 411.06h7.87" stroke="#65b35c"/><path d="M88.9 418.68h7.87" stroke="#63b28d"/><path d="M96.47 418.68h7.87" stroke="#5faa8d"/><path d="M104.04 418.68h7.87" stroke="#73b599"/><path d="M111.61 418.68h7.87" stroke="#96aea6"/><path d="M119.18 418.68h7.87" stroke="#b9adba"/><path d="M126.75 418.68h7.87" stroke="#b9a1bb"/><path d="M134.32 418.68h7.87" stroke="#8e83a9"/><path d="M141.89 418.68h7.87" stroke="#576395"/><path d="M149.46 418.68h7.87" stroke="#324378"/><path d="M157.03 418.68h7.87" stroke="#2f3766"/><path d="M164.6 418.68h7.87" stroke="#262a4a"/><path d="M172.17 418.68h7.87" stroke="#1f162c"/><path d="M179.74 418.68h7.87" stroke="#171225"/><path d="M187.31 418.68h7.87" stroke="#0e091c"/><path d="M194.88 418.68h7.87" stroke="#0c0213"/><path d="M202.45 418.68h7.87" stroke="#05000e"/><path d="M210.02 418.68h7.87" stroke="#030013"/><path d="M217.59 418.68h7.87" stroke="#050310"/><path d="M225.16 418.68h7.87" stroke="#09060d"/><path d="M232.73 418.68h7.87" stroke="#0d0a0b"/><path d="M240.3 418.68h7.87" stroke="#0d1207"/><path d="M247.87 418.68h7.87" stroke="#16220b"/><path d="M255.44 418.68h7.87" stroke="#1a2b06"/><path d="M263.01 418.68h7.87" stroke="#263d08"/><path d="M270.58 418.68h7.87" stroke="#253c0d"/><path d="M278.15 418.68h7.87" stroke="#1e380c"/><path d="M285.72 418.68h7.87" stroke="#163512"/><path d="M293.29 418.68h7.87" stroke="#24411a"/><path d="M300.86 418.68h7.87" stroke="#30482d"/><path d="M308.43 418.68h7.87" stroke="#3f5438"/><path d="M316 418.68h7.87" stroke="#4d5e40"/><path d="M323.57 418.68h7.87" stroke="#5b6b46"/><path d="M331.14 418.68h7.87" stroke="#6e7552"/><path d="M338.71 418.68h7.87" stroke="#657c4f"/><path d="M346.28 418.68h7.87" stroke="#558051"/><path d="M353.85 418.68h7.87" stroke="#478154"/><path d="M361.42 418.68h7.87" stroke="#40845a"/><path d="M368.99 418.68h7.87" stroke="#418a62"/><path d="M376.56 418.68h7.87" stroke="#488f74"/><path d="M384.13 418.68h7.87" stroke="#63a685"/><path d="M391.7 418.68h7.87" stroke="#83bd96"/><path d="M399.27 418.68h7.87" stroke="#a2d0a0"/><path d="M406.84 418.68h7.87" stroke="#a5d9a5"/><path d="M414.41 418.68h7.87" stroke="#96dba0"/><path d="M421.98 418.68h7.87" stroke="#74d391"/><path d="M429.55 418.68h7.87" stroke="#67cc82"/><path d="M437.12 418.68h7.87" stroke="#70c673"/><path d="M444.69 418.68h7.87" stroke="#78bb62"/><path d="M452.26 418.68h7.87" stroke="#7cb85b"/><path d="M459.83 418.68h7.87" stroke="#77b758"/><path d="M88.9 426.29h7.87" stroke="#60ad8b"/><path d="M96.47 426.29h7.87" stroke="#5fb18b"/><path d="M104.04 426.29h7.87" stroke="#71b199"/><path d="M111.61 426.29h7.87" stroke="#98b3ac"/><path d="M119.18 426.29h7.87" stroke="#beb0bb"/><path d="M126.75 426.29h7.87" stroke="#b99cb5"/><path d="M134.32 426.29h7.87" stroke="#8d88a8"/><path d="M141.89 426.29h7.87" stroke="#596293"/><path d="M149.46 426.29h7.87" stroke="#30497e"/><path d="M157.03 426.29h7.87" stroke="#2c3961"/><path d="M164.6 426.29h7.87" stroke="#252848"/><path d="M172.17 426.29h7.87" stroke="#1f1730"/><path d="M179.74 426.29h7.87" stroke="#1a1428"/><path d="M187.31 426.29h7.87" stroke="#0f0a1e"/><path d="M194.88 426.29h7.87" stroke="#070410"/><path d="M202.45 426.29h7.87" stroke="#0c0918"/><path d="M210.02 426.29h7.87" stroke="#09020f"/><path d="M217.59 426.29h7.87" stroke="#09030e"/><path d="M225.16 426.29h7.87" stroke="#07040a"/><path d="M232.73 426.29h7.87" stroke="#0c0c0a"/><path d="M240.3 426.29h7.87" stroke="#0d1708"/><path d="M247.87 426.29h7.87" stroke="#162207"/><path d="M255.44 426.29h7.87" stroke="#1e320a"/><path d="M263.01 426.29h7.87" stroke="#2a3d08"/><path d="M270.58 426.29h7.87" stroke="#244011"/><path d="M278.15 426.29h7.87" stroke="#1e4010"/><path d="M285.72 426.29h7.87" stroke="#1a3911"/><path d="M293.29 426.29h7.87" stroke="#20401e"/><path d="M300.86 426.29h7.87" stroke="#304a28"/><path d="M308.43 426.29h7.87" stroke="#3f593c"/><path d="M316 426.29h7.87" stroke="#4d5e3f"/><path d="M323.57 426.29h7.87" stroke="#606e4c"/><path d="M331.14 426.29h7.87" stroke="#66734d"/><path d="M338.71 426.29h7.87" stroke="#61764c"/><path d="M346.28 426.29h7.87" stroke="#557f54"/><path d="M353.85 426.29h7.87" stroke="#407f50"/><path d="M361.42 426.29h7.87" stroke="#44855d"/><path d="M368.99 426.29h7.87" stroke="#448862"/><path d="M376.56 426.29h7.87" stroke="#4e9674"/><path d="M384.13 426.29h7.87" stroke="#62a686"/><path d="M391.7 426.29h7.87" stroke="#84b98f"/><path d="M399.27 426.29h7.87" stroke="#a3d0a2"/><path d="M406.84 426.29h7.87" stroke="#aadfa9"/><path d="M414.41 426.29h7.87" stroke="#90da9b"/><path d="M421.98 426.29h7.87" stroke="#73d18b"/><path d="M429.55 426.29h7.87" stroke="#6ac683"/><path d="M437.12 426.29h7.87" stroke="#70c472"/><path d="M444.69 426.29h7.87" stroke="#70ba62"/><path d="M452.26 426.29h7.87" stroke="#7ab85c"/><path d="M459.83 426.29h7.87" stroke="#78b65d"/><path d="M88.9 433.9h7.87" stroke="#5daf8e"/><path d="M96.47 433.9h7.87" stroke="#5eae8a"/><path d="M104.04 433.9h7.87" stroke="#6fac93"/><path d="M111.61 433.9h7.87" stroke="#92aea2"/><path d="M119.18 433.9h7.87" stroke="#b5aeb9"/><path d="M126.75 433.9h7.87" stroke="#b99db9"/><path d="M134.32 433.9h7.87" stroke="#9086aa"/><path d="M141.89 433.9h7.87" stroke="#566195"/><path d="M149.46 433.9h7.87" stroke="#2f427c"/><path d="M157.03 433.9h7.87" stroke="#2b3361"/><path d="M164.6 433.9h7.87" stroke="#282948"/><path d="M172.17 433.9h7.87" stroke="#1c182b"/><path d="M179.74 433.9h7.87" stroke="#1d162a"/><path d="M187.31 433.9h7.87" stroke="#0e0a18"/><path d="M194.88 433.9h7.87" stroke="#090215"/><path d="M202.45 433.9h7.87" stroke="#0b0411"/><path d="M210.02 433.9h7.87" stroke="#070012"/><path d="M217.59 433.9h7.87" stroke="#08000e"/><path d="M225.16 433.9h7.87" stroke="#07020d"/><path d="M232.73 433.9h7.87" stroke="#070d08"/><path d="M240.3 433.9h7.87" stroke="#0f140a"/><path d="M247.87 433.9h7.87" stroke="#101b04"/><path d="M255.44 433.9h7.87" stroke="#182a04"/><path d="M263.01 433.9h7.87" stroke="#263d07"/><path d="M270.58 433.9h7.87" stroke="#203909"/><path d="M278.15 433.9h7.87" stroke="#18350b"/><path d="M285.72 433.9h7.87" stroke="#15380c"/><path d="M293.29 433.9h7.87" stroke="#223c1a"/><path d="M300.86 433.9h7.87" stroke="#33502b"/><path d="M308.43 433.9h7.87" stroke="#435a3d"/><path d="M316 433.9h7.87" stroke="#4d6240"/><path d="M323.57 433.9h7.87" stroke="#586844"/><path d="M331.14 433.9h7.87" stroke="#6e7955"/><path d="M338.71 433.9h7.87" stroke="#647951"/><path d="M346.28 433.9h7.87" stroke="#557a52"/><path d="M353.85 433.9h7.87" stroke="#407f4d"/><path d="M361.42 433.9h7.87" stroke="#45855e"/><path d="M368.99 433.9h7.87" stroke="#488b69"/><path d="M376.56 433.9h7.87" stroke="#4b9678"/><path d="M384.13 433.9h7.87" stroke="#60a786"/><path d="M391.7 433.9h7.87" stroke="#80b892"/><path d="M399.27 433.9h7.87" stroke="#a8d2a5"/><path d="M406.84 433.9h7.87" stroke="#aadda8"/><path d="M414.41 433.9h7.87" stroke="#92db9c"/><path d="M421.98 433.9h7.87" stroke="#73d18e"/><path d="M429.55 433.9h7.87" stroke="#70d088"/><path d="M437.12 433.9h7.87" stroke="#70c16e"/><path d="M444.69 433.9h7.87" stroke="#73b763"/><path d="M452.26 433.9h7.87" stroke="#75b45b"/><path d="M459.83 433.9h7.87" stroke="#77b559"/></g>
<rect x="91.75" y="80.65" width="374" height="350.7" fill="none" stroke="#000" stroke-width="2.9"/>
<polygon points="166.5,406.7 167.3,395.7 169,387.1 172.7,381 172.2,371.2 172.7,361.4 176.3,350.4 181.2,341.8 187.4,334.4 188.1,327.1 190.5,320.2 188.6,316 185.6,307.5 182.5,292.8 180,280.5 177.6,270.7 175.1,263.4 171.9,256 170.9,253.6 172.7,243.8 176.3,236.4 183.7,232.7 191,229 192.3,219.3 191,204.5 189.1,189.8 187.4,175.1 185.6,160.4 184.9,145.7 186.1,139.6 191,134.7 198.4,133 210.6,132.2 222.9,133 230.3,134.7 233.9,140.8 235.2,155.5 236.4,170.2 237.6,184.9 238.3,199.6 239.6,216.3 241.3,204.5 243.7,189.8 247.4,175.1 249.9,162.9 254.8,158 262.1,154.3 269.5,150.6 279,147.7 293.7,144.5 308.4,142.8 313.3,139.6 319.4,137.1 324.3,140.8 335.4,144.5 347.6,149.4 359.9,154.3 369.7,159.2 377,165.3 379.5,175.1 384.4,184.9 390.5,196 395.4,205.8 399.1,215.6 398.6,226.6 396.6,231.5 391.7,238.9 388.1,246.2 386.1,256 386.8,268.3 386.1,276.8 388.1,285.4 390.5,295.2 391.7,301.3 396.2,306.2 397.9,316" fill="none" stroke="#e9175c" stroke-width="1.9" stroke-linejoin="round"/>
<path d="M164 148.5H180M172 140.5V156.5" stroke="#111" stroke-width="1.5" fill="none"/>
<path d="M164 255.2H180M172 247.2V263.2" stroke="#111" stroke-width="1.5" fill="none"/>
<path d="M164 361.9H180M172 353.9V369.9" stroke="#111" stroke-width="1.5" fill="none"/>
<path d="M270.8 148.5H286.8M278.8 140.5V156.5" stroke="#111" stroke-width="1.5" fill="none"/>
<path d="M270.8 255.2H286.8M278.8 247.2V263.2" stroke="#111" stroke-width="1.5" fill="none"/>
<path d="M270.8 361.9H286.8M278.8 353.9V369.9" stroke="#111" stroke-width="1.5" fill="none"/>
<path d="M376.9 148.5H392.9M384.9 140.5V156.5" stroke="#111" stroke-width="1.5" fill="none"/>
<path d="M376.9 255.2H392.9M384.9 247.2V263.2" stroke="#111" stroke-width="1.5" fill="none"/>
<path d="M376.9 361.9H392.9M384.9 353.9V369.9" stroke="#111" stroke-width="1.5" fill="none"/>
<text x="172.2" y="73.1" font-family='"Liberation Sans", sans-serif' font-size="8.5" text-anchor="middle" fill="#222" textLength="36.3" lengthAdjust="spacingAndGlyphs">150<tspan font-size="6.8">00mE</tspan></text>
<text x="172.2" y="444.6" font-family='"Liberation Sans", sans-serif' font-size="8.5" text-anchor="middle" fill="#222" textLength="36.3" lengthAdjust="spacingAndGlyphs">150<tspan font-size="6.8">00mE</tspan></text>
<text x="279" y="73.1" font-family='"Liberation Sans", sans-serif' font-size="8.5" text-anchor="middle" fill="#222" textLength="15.4" lengthAdjust="spacingAndGlyphs">185</text>
<text x="279" y="444.6" font-family='"Liberation Sans", sans-serif' font-size="8.5" text-anchor="middle" fill="#222" textLength="15.4" lengthAdjust="spacingAndGlyphs">185</text>
<text x="385" y="73.1" font-family='"Liberation Sans", sans-serif' font-size="8.5" text-anchor="middle" fill="#222" textLength="36.3" lengthAdjust="spacingAndGlyphs">220<tspan font-size="6.8">00mE</tspan></text>
<text x="385" y="444.6" font-family='"Liberation Sans", sans-serif' font-size="8.5" text-anchor="middle" fill="#222" textLength="36.3" lengthAdjust="spacingAndGlyphs">220<tspan font-size="6.8">00mE</tspan></text>
<text x="84.2" y="148.5" font-family='"Liberation Sans", sans-serif' font-size="8.5" text-anchor="middle" fill="#222" transform="rotate(-90 84.2 148.5)" textLength="37.8" lengthAdjust="spacingAndGlyphs">435<tspan font-size="6.8">00mN</tspan></text>
<text x="473.6" y="148.5" font-family='"Liberation Sans", sans-serif' font-size="8.5" text-anchor="middle" fill="#222" transform="rotate(90 473.6 148.5)" textLength="37.8" lengthAdjust="spacingAndGlyphs">435<tspan font-size="6.8">00mN</tspan></text>
<text x="75.5" y="258.3" font-family='"Liberation Sans", sans-serif' font-size="8.5" text-anchor="middle" fill="#222" textLength="15.4" lengthAdjust="spacingAndGlyphs">400</text>
<text x="480.5" y="258.3" font-family='"Liberation Sans", sans-serif' font-size="8.5" text-anchor="middle" fill="#222" textLength="15.4" lengthAdjust="spacingAndGlyphs">400</text>
<text x="84.2" y="361.9" font-family='"Liberation Sans", sans-serif' font-size="8.5" text-anchor="middle" fill="#222" transform="rotate(-90 84.2 361.9)" textLength="37.8" lengthAdjust="spacingAndGlyphs">365<tspan font-size="6.8">00mN</tspan></text>
<text x="473.6" y="361.9" font-family='"Liberation Sans", sans-serif' font-size="8.5" text-anchor="middle" fill="#222" transform="rotate(90 473.6 361.9)" textLength="37.8" lengthAdjust="spacingAndGlyphs">365<tspan font-size="6.8">00mN</tspan></text>
<path d="M126.3 88.2L139.5 111.4Q126.3 103.98 113.1 111.4Z" fill="#000"/>
<text transform="translate(126.05 131.65) scale(1.37 1)" font-family='"Liberation Sans", sans-serif' font-weight="bold" font-size="27.03" text-anchor="middle" fill="#000" stroke="#000" stroke-width="0.9" stroke-linejoin="miter">N</text>
<path d="M299.1 411.1H421.9" stroke="#111" stroke-width="1.3"/>
<path d="M299.1 409.3V412.5" stroke="#111" stroke-width="1.3"/>
<text x="299.1" y="407.2" font-family='"Liberation Sans", sans-serif' font-size="13.4" text-anchor="middle" fill="#111" >2</text>
<path d="M329.8 409.3V412.5" stroke="#111" stroke-width="1.3"/>
<text x="329.8" y="407.2" font-family='"Liberation Sans", sans-serif' font-size="13.4" text-anchor="middle" fill="#111" >1</text>
<path d="M360.5 409.3V412.5" stroke="#111" stroke-width="1.3"/>
<text x="360.5" y="407.2" font-family='"Liberation Sans", sans-serif' font-size="13.4" text-anchor="middle" fill="#111" >0</text>
<path d="M391.2 409.3V412.5" stroke="#111" stroke-width="1.3"/>
<text x="391.2" y="407.2" font-family='"Liberation Sans", sans-serif' font-size="13.4" text-anchor="middle" fill="#111" >1</text>
<path d="M421.9 409.3V412.5" stroke="#111" stroke-width="1.3"/>
<text x="421.9" y="407.2" font-family='"Liberation Sans", sans-serif' font-size="13.4" text-anchor="middle" fill="#111" >2</text>
<text x="430" y="407.2" font-family='"Liberation Sans", sans-serif' font-size="13.4" text-anchor="start" fill="#111" textLength="21.7" lengthAdjust="spacingAndGlyphs">Km</text>
<text x="270.95" y="25.6" font-family='"Liberation Serif", serif' font-size="30.8" text-anchor="middle" fill="#000" textLength="141.5" lengthAdjust="spacingAndGlyphs">True Color</text>
<text x="270.7" y="52.2" font-family='"Liberation Serif", serif' font-size="25.3" text-anchor="middle" fill="#000" font-weight="bold" font-style="italic" textLength="96" lengthAdjust="spacingAndGlyphs">03-08-05</text>
<rect x="508.8" y="154.4" width="222.3" height="127.8" fill="#fff" stroke="#000" stroke-width="1.4"/>
<text x="522.4" y="187.3" font-family='"Liberation Serif", serif' font-size="21.8" fill="#000" textLength="132.3" lengthAdjust="spacingAndGlyphs">Stations (<tspan font-style="italic">In situ</tspan></text>
<text x="522.4" y="217" font-family='"Liberation Serif", serif' font-size="21.8" fill="#000" textLength="131.8" lengthAdjust="spacingAndGlyphs">measurements):</text>
<text x="584.6" y="236.1" font-family='"Liberation Serif", serif' font-size="15.8" fill="#000" textLength="88.6" lengthAdjust="spacingAndGlyphs">D<tspan font-size="10.27" dy="3.16">1</tspan><tspan dy="-3.16">: 21 mg m</tspan><tspan font-size="10.27" dy="-6.64">-3</tspan></text>
<text x="584.6" y="254" font-family='"Liberation Serif", serif' font-size="15.8" fill="#000" textLength="88.6" lengthAdjust="spacingAndGlyphs">D<tspan font-size="10.27" dy="3.16">2</tspan><tspan dy="-3.16">: 45 mg m</tspan><tspan font-size="10.27" dy="-6.64">-3</tspan></text>
<circle cx="202.5" cy="137.8" r="5.8" fill="#fff" stroke="#000" stroke-width="1.6"/>
<circle cx="367" cy="170.7" r="5.8" fill="#fff" stroke="#000" stroke-width="1.6"/>
<path d="M203.2 138.3H388.6V230.2H564" stroke="#000" stroke-width="1.9" fill="none"/>
<path d="M365.9 171.6V249.6H564" stroke="#000" stroke-width="1.9" fill="none"/>
<path d="M574 230.2L562.5 225.2V235.2Z" fill="#000"/>
<path d="M574 249.6L562.5 244.6V254.6Z" fill="#000"/>
<g transform="translate(0 0)">
<text x="120.3" y="464.4" font-family='"Liberation Serif", serif' font-size="17" text-anchor="middle" fill="#000" textLength="53.6" lengthAdjust="spacingAndGlyphs">APPEL</text>
<text x="120.4" y="479.2" font-family='"Liberation Serif", serif' font-size="14.7" font-weight="bold" font-style="italic" text-anchor="middle" fill="#000" textLength="54.8" lengthAdjust="spacingAndGlyphs">03-08-05</text>
<g shape-rendering="crispEdges" stroke-width="4.56" fill="none"><path d="M86.88 526.53h4.51" stroke="#ff0000"/><path d="M91.14 526.53h4.51" stroke="#ff0000"/><path d="M91.14 530.79h4.51" stroke="#ff0000"/><path d="M142.26 530.79h4.51" stroke="#ff0000"/><path d="M146.52 530.79h4.51" stroke="#ff0000"/><path d="M82.62 535.05h4.51" stroke="#67eea0"/><path d="M86.88 535.05h4.51" stroke="#00cc00"/><path d="M91.14 535.05h4.51" stroke="#ff0000"/><path d="M138 535.05h4.51" stroke="#00cc00"/><path d="M146.52 535.05h4.51" stroke="#00cc00"/><path d="M159.3 535.05h4.51" stroke="#ff0000"/><path d="M82.62 539.31h4.51" stroke="#64e3aa"/><path d="M86.88 539.31h4.51" stroke="#64e4a9"/><path d="M91.14 539.31h4.51" stroke="#ff0000"/><path d="M112.44 539.31h4.51" stroke="#67eca2"/><path d="M116.7 539.31h4.51" stroke="#008000"/><path d="M120.96 539.31h4.51" stroke="#5ccbc0"/><path d="M125.22 539.31h4.51" stroke="#5dcdbe"/><path d="M129.48 539.31h4.51" stroke="#65deb0"/><path d="M133.74 539.31h4.51" stroke="#5ed0bb"/><path d="M138 539.31h4.51" stroke="#69e5aa"/><path d="M142.26 539.31h4.51" stroke="#5dcebd"/><path d="M146.52 539.31h4.51" stroke="#5ccdbf"/><path d="M150.78 539.31h4.51" stroke="#6ae8a7"/><path d="M155.04 539.31h4.51" stroke="#5dcebe"/><path d="M159.3 539.31h4.51" stroke="#00cc00"/><path d="M167.82 539.31h4.51" stroke="#ff0000"/><path d="M82.62 543.57h4.51" stroke="#63e1ab"/><path d="M86.88 543.57h4.51" stroke="#66eaa3"/><path d="M95.4 543.57h4.51" stroke="#ff0000"/><path d="M112.44 543.57h4.51" stroke="#67eda1"/><path d="M116.7 543.57h4.51" stroke="#66e0ae"/><path d="M120.96 543.57h4.51" stroke="#5ac8c3"/><path d="M125.22 543.57h4.51" stroke="#5ccbc0"/><path d="M129.48 543.57h4.51" stroke="#5bcac1"/><path d="M133.74 543.57h4.51" stroke="#5dcdbe"/><path d="M138 543.57h4.51" stroke="#5bcac1"/><path d="M142.26 543.57h4.51" stroke="#5dcfbd"/><path d="M146.52 543.57h4.51" stroke="#5cccbf"/><path d="M150.78 543.57h4.51" stroke="#5fd2ba"/><path d="M155.04 543.57h4.51" stroke="#5ed0bc"/><path d="M159.3 543.57h4.51" stroke="#62d8b5"/><path d="M163.56 543.57h4.51" stroke="#00cc00"/><path d="M74.1 547.83h4.51" stroke="#ff0000"/><path d="M82.62 547.83h4.51" stroke="#66e9a4"/><path d="M86.88 547.83h4.51" stroke="#00cc00"/><path d="M112.44 547.83h4.51" stroke="#64e3aa"/><path d="M116.7 547.83h4.51" stroke="#5cccbf"/><path d="M120.96 547.83h4.51" stroke="#5bcac1"/><path d="M125.22 547.83h4.51" stroke="#5dcebd"/><path d="M129.48 547.83h4.51" stroke="#67e2ad"/><path d="M133.74 547.83h4.51" stroke="#5ccbc0"/><path d="M138 547.83h4.51" stroke="#5dcebe"/><path d="M142.26 547.83h4.51" stroke="#5dcfbd"/><path d="M146.52 547.83h4.51" stroke="#5ed0bc"/><path d="M150.78 547.83h4.51" stroke="#5dcdbe"/><path d="M155.04 547.83h4.51" stroke="#5fd3ba"/><path d="M159.3 547.83h4.51" stroke="#60d4b8"/><path d="M163.56 547.83h4.51" stroke="#00cc00"/><path d="M176.34 547.83h4.51" stroke="#ff0000"/><path d="M74.1 552.09h4.51" stroke="#ff0000"/><path d="M82.62 552.09h4.51" stroke="#68f09e"/><path d="M86.88 552.09h4.51" stroke="#00cc00"/><path d="M108.18 552.09h4.51" stroke="#68ef9f"/><path d="M112.44 552.09h4.51" stroke="#5ed1bb"/><path d="M116.7 552.09h4.51" stroke="#5bcac0"/><path d="M120.96 552.09h4.51" stroke="#58c5c5"/><path d="M125.22 552.09h4.51" stroke="#5dcebd"/><path d="M129.48 552.09h4.51" stroke="#5cccbf"/><path d="M133.74 552.09h4.51" stroke="#5bcbc0"/><path d="M138 552.09h4.51" stroke="#5fd2ba"/><path d="M142.26 552.09h4.51" stroke="#5ccdbe"/><path d="M146.52 552.09h4.51" stroke="#5dcdbe"/><path d="M150.78 552.09h4.51" stroke="#5ac8c3"/><path d="M155.04 552.09h4.51" stroke="#5fd2ba"/><path d="M159.3 552.09h4.51" stroke="#61d6b7"/><path d="M163.56 552.09h4.51" stroke="#62d9b4"/><path d="M167.82 552.09h4.51" stroke="#00cc00"/><path d="M176.34 552.09h4.51" stroke="#ff0000"/><path d="M74.1 556.35h4.51" stroke="#ff0000"/><path d="M82.62 556.35h4.51" stroke="#66e9a4"/><path d="M86.88 556.35h4.51" stroke="#68ef9f"/><path d="M108.18 556.35h4.51" stroke="#64e3aa"/><path d="M112.44 556.35h4.51" stroke="#5dcebd"/><path d="M116.7 556.35h4.51" stroke="#5ac8c2"/><path d="M120.96 556.35h4.51" stroke="#59c5c5"/><path d="M125.22 556.35h4.51" stroke="#5ac8c2"/><path d="M129.48 556.35h4.51" stroke="#5bcbc0"/><path d="M133.74 556.35h4.51" stroke="#59c7c3"/><path d="M138 556.35h4.51" stroke="#5ac9c2"/><path d="M142.26 556.35h4.51" stroke="#5ecfbd"/><path d="M146.52 556.35h4.51" stroke="#5dcebd"/><path d="M150.78 556.35h4.51" stroke="#5ac9c2"/><path d="M155.04 556.35h4.51" stroke="#68e3ab"/><path d="M159.3 556.35h4.51" stroke="#67e1ad"/><path d="M163.56 556.35h4.51" stroke="#62d8b5"/><path d="M167.82 556.35h4.51" stroke="#61d6b7"/><path d="M172.08 556.35h4.51" stroke="#00cc00"/><path d="M176.34 556.35h4.51" stroke="#ff0000"/><path d="M82.62 560.61h4.51" stroke="#66dfaf"/><path d="M86.88 560.61h4.51" stroke="#00cc00"/><path d="M108.18 560.61h4.51" stroke="#67eea0"/><path d="M112.44 560.61h4.51" stroke="#5cccbf"/><path d="M116.7 560.61h4.51" stroke="#58c5c5"/><path d="M120.96 560.61h4.51" stroke="#58c5c5"/><path d="M125.22 560.61h4.51" stroke="#64dbb2"/><path d="M129.48 560.61h4.51" stroke="#5ac7c3"/><path d="M133.74 560.61h4.51" stroke="#64dbb2"/><path d="M138 560.61h4.51" stroke="#5dcebd"/><path d="M142.26 560.61h4.51" stroke="#5ac7c3"/><path d="M146.52 560.61h4.51" stroke="#67e2ad"/><path d="M150.78 560.61h4.51" stroke="#59c5c5"/><path d="M155.04 560.61h4.51" stroke="#5dcdbe"/><path d="M159.3 560.61h4.51" stroke="#5ed1bb"/><path d="M163.56 560.61h4.51" stroke="#5fd3b9"/><path d="M167.82 560.61h4.51" stroke="#63dbb3"/><path d="M172.08 560.61h4.51" stroke="#62d8b5"/><path d="M180.6 560.61h4.51" stroke="#ff0000"/><path d="M78.36 564.87h4.51" stroke="#ff0000"/><path d="M82.62 564.87h4.51" stroke="#5ac7c3"/><path d="M86.88 564.87h4.51" stroke="#65e7a6"/><path d="M108.18 564.87h4.51" stroke="#66eba2"/><path d="M112.44 564.87h4.51" stroke="#66e1ad"/><path d="M116.7 564.87h4.51" stroke="#58c4c6"/><path d="M120.96 564.87h4.51" stroke="#5ac7c3"/><path d="M125.22 564.87h4.51" stroke="#5ac8c2"/><path d="M129.48 564.87h4.51" stroke="#5bcbc0"/><path d="M133.74 564.87h4.51" stroke="#5ac7c3"/><path d="M138 564.87h4.51" stroke="#58c4c6"/><path d="M142.26 564.87h4.51" stroke="#58c4c6"/><path d="M146.52 564.87h4.51" stroke="#5ccdbf"/><path d="M150.78 564.87h4.51" stroke="#59c5c5"/><path d="M155.04 564.87h4.51" stroke="#5dcebd"/><path d="M159.3 564.87h4.51" stroke="#5ccdbe"/><path d="M163.56 564.87h4.51" stroke="#5dcebd"/><path d="M167.82 564.87h4.51" stroke="#60d4b8"/><path d="M172.08 564.87h4.51" stroke="#69e6a9"/><path d="M176.34 564.87h4.51" stroke="#00cc00"/><path d="M180.6 564.87h4.51" stroke="#ff0000"/><path d="M78.36 569.13h4.51" stroke="#ff0000"/><path d="M82.62 569.13h4.51" stroke="#56c1c9"/><path d="M86.88 569.13h4.51" stroke="#57c1c8"/><path d="M91.14 569.13h4.51" stroke="#00cc00"/><path d="M103.92 569.13h4.51" stroke="#64e2aa"/><path d="M108.18 569.13h4.51" stroke="#68e3ab"/><path d="M112.44 569.13h4.51" stroke="#58c4c6"/><path d="M116.7 569.13h4.51" stroke="#59c7c4"/><path d="M120.96 569.13h4.51" stroke="#55bfca"/><path d="M125.22 569.13h4.51" stroke="#58c3c6"/><path d="M129.48 569.13h4.51" stroke="#5ac7c3"/><path d="M133.74 569.13h4.51" stroke="#5ac8c3"/><path d="M138 569.13h4.51" stroke="#58c5c5"/><path d="M142.26 569.13h4.51" stroke="#57c3c7"/><path d="M146.52 569.13h4.51" stroke="#57c2c8"/><path d="M150.78 569.13h4.51" stroke="#5bc9c1"/><path d="M155.04 569.13h4.51" stroke="#5bc9c1"/><path d="M159.3 569.13h4.51" stroke="#5ccdbe"/><path d="M163.56 569.13h4.51" stroke="#5ccbc0"/><path d="M167.82 569.13h4.51" stroke="#5fd3b9"/><path d="M172.08 569.13h4.51" stroke="#60d5b8"/><path d="M184.86 569.13h4.51" stroke="#ff0000"/><path d="M78.36 573.39h4.51" stroke="#ff0000"/><path d="M82.62 573.39h4.51" stroke="#51b6d1"/><path d="M86.88 573.39h4.51" stroke="#5ccbc0"/><path d="M91.14 573.39h4.51" stroke="#68ef9f"/><path d="M95.4 573.39h4.51" stroke="#64e3aa"/><path d="M99.66 573.39h4.51" stroke="#64e4a9"/><path d="M103.92 573.39h4.51" stroke="#5ac7c3"/><path d="M108.18 573.39h4.51" stroke="#57c3c7"/><path d="M112.44 573.39h4.51" stroke="#55becb"/><path d="M116.7 573.39h4.51" stroke="#5dcebd"/><path d="M120.96 573.39h4.51" stroke="#53b9cf"/><path d="M125.22 573.39h4.51" stroke="#55bdcc"/><path d="M129.48 573.39h4.51" stroke="#55bdcb"/><path d="M133.74 573.39h4.51" stroke="#57c2c8"/><path d="M138 573.39h4.51" stroke="#54bbcd"/><path d="M142.26 573.39h4.51" stroke="#5fd2ba"/><path d="M146.52 573.39h4.51" stroke="#63d9b4"/><path d="M150.78 573.39h4.51" stroke="#56bfca"/><path d="M155.04 573.39h4.51" stroke="#62d7b5"/><path d="M159.3 573.39h4.51" stroke="#58c3c6"/><path d="M163.56 573.39h4.51" stroke="#66e1ae"/><path d="M167.82 573.39h4.51" stroke="#5ed0bb"/><path d="M172.08 573.39h4.51" stroke="#5fd3ba"/><path d="M184.86 573.39h4.51" stroke="#ff0000"/><path d="M82.62 577.65h4.51" stroke="#50b1d3"/><path d="M86.88 577.65h4.51" stroke="#50b1d3"/><path d="M91.14 577.65h4.51" stroke="#51b5d1"/><path d="M95.4 577.65h4.51" stroke="#51b3d2"/><path d="M99.66 577.65h4.51" stroke="#53bace"/><path d="M103.92 577.65h4.51" stroke="#51b5d1"/><path d="M108.18 577.65h4.51" stroke="#51b4d2"/><path d="M112.44 577.65h4.51" stroke="#54bccd"/><path d="M116.7 577.65h4.51" stroke="#51b4d2"/><path d="M120.96 577.65h4.51" stroke="#52b7d0"/><path d="M125.22 577.65h4.51" stroke="#52b7d0"/><path d="M129.48 577.65h4.51" stroke="#52b7d0"/><path d="M133.74 577.65h4.51" stroke="#51b6d1"/><path d="M138 577.65h4.51" stroke="#55bfca"/><path d="M142.26 577.65h4.51" stroke="#56c0c9"/><path d="M146.52 577.65h4.51" stroke="#57c1c8"/><path d="M150.78 577.65h4.51" stroke="#53bace"/><path d="M155.04 577.65h4.51" stroke="#54bdcc"/><path d="M159.3 577.65h4.51" stroke="#58c4c6"/><path d="M163.56 577.65h4.51" stroke="#5bcbc0"/><path d="M167.82 577.65h4.51" stroke="#5bcac1"/><path d="M172.08 577.65h4.51" stroke="#5dcdbe"/><path d="M78.36 581.91h4.51" stroke="#65e6a7"/><path d="M82.62 581.91h4.51" stroke="#4eabd5"/><path d="M86.88 581.91h4.51" stroke="#4eadd4"/><path d="M91.14 581.91h4.51" stroke="#4eabd5"/><path d="M95.4 581.91h4.51" stroke="#4eabd5"/><path d="M99.66 581.91h4.51" stroke="#4eabd5"/><path d="M103.92 581.91h4.51" stroke="#4eadd4"/><path d="M108.18 581.91h4.51" stroke="#51b4d2"/><path d="M112.44 581.91h4.51" stroke="#4fafd3"/><path d="M116.7 581.91h4.51" stroke="#50b2d3"/><path d="M120.96 581.91h4.51" stroke="#50b2d2"/><path d="M125.22 581.91h4.51" stroke="#51b6d1"/><path d="M129.48 581.91h4.51" stroke="#50b3d2"/><path d="M133.74 581.91h4.51" stroke="#50b3d2"/><path d="M138 581.91h4.51" stroke="#51b4d1"/><path d="M142.26 581.91h4.51" stroke="#51b5d1"/><path d="M146.52 581.91h4.51" stroke="#54bbcd"/><path d="M150.78 581.91h4.51" stroke="#55bdcc"/><path d="M155.04 581.91h4.51" stroke="#53bace"/><path d="M159.3 581.91h4.51" stroke="#55becb"/><path d="M163.56 581.91h4.51" stroke="#58c4c6"/><path d="M167.82 581.91h4.51" stroke="#5ac8c3"/><path d="M172.08 581.91h4.51" stroke="#5bcac1"/><path d="M176.34 581.91h4.51" stroke="#00cc00"/><path d="M180.6 581.91h4.51" stroke="#ff0000"/><path d="M74.1 586.17h4.51" stroke="#67eca1"/><path d="M78.36 586.17h4.51" stroke="#68f09e"/><path d="M82.62 586.17h4.51" stroke="#4ca7d7"/><path d="M86.88 586.17h4.51" stroke="#4ca4d8"/><path d="M91.14 586.17h4.51" stroke="#4da8d6"/><path d="M95.4 586.17h4.51" stroke="#4ba3d8"/><path d="M99.66 586.17h4.51" stroke="#4ba3d8"/><path d="M103.92 586.17h4.51" stroke="#4da8d6"/><path d="M108.18 586.17h4.51" stroke="#4ca6d7"/><path d="M112.44 586.17h4.51" stroke="#4eabd5"/><path d="M116.7 586.17h4.51" stroke="#4daad6"/><path d="M120.96 586.17h4.51" stroke="#4faed4"/><path d="M125.22 586.17h4.51" stroke="#4da9d6"/><path d="M129.48 586.17h4.51" stroke="#4faed4"/><path d="M133.74 586.17h4.51" stroke="#50b2d2"/><path d="M138 586.17h4.51" stroke="#4eadd4"/><path d="M142.26 586.17h4.51" stroke="#51b6d1"/><path d="M146.52 586.17h4.51" stroke="#50b1d3"/><path d="M150.78 586.17h4.51" stroke="#52b8d0"/><path d="M155.04 586.17h4.51" stroke="#54bdcc"/><path d="M159.3 586.17h4.51" stroke="#56bfca"/><path d="M163.56 586.17h4.51" stroke="#55bfca"/><path d="M167.82 586.17h4.51" stroke="#56c1c9"/><path d="M172.08 586.17h4.51" stroke="#00cc00"/><path d="M180.6 586.17h4.51" stroke="#ff0000"/><path d="M74.1 590.43h4.51" stroke="#65e8a5"/><path d="M78.36 590.43h4.51" stroke="#63e2ab"/><path d="M82.62 590.43h4.51" stroke="#4ca6d7"/><path d="M86.88 590.43h4.51" stroke="#4eaad6"/><path d="M91.14 590.43h4.51" stroke="#4ba2d9"/><path d="M95.4 590.43h4.51" stroke="#4da7d7"/><path d="M99.66 590.43h4.51" stroke="#4a9eda"/><path d="M103.92 590.43h4.51" stroke="#4aa0da"/><path d="M108.18 590.43h4.51" stroke="#4ca6d7"/><path d="M112.44 590.43h4.51" stroke="#4ca5d8"/><path d="M116.7 590.43h4.51" stroke="#4ca6d7"/><path d="M120.96 590.43h4.51" stroke="#4ca7d7"/><path d="M125.22 590.43h4.51" stroke="#4da8d7"/><path d="M129.48 590.43h4.51" stroke="#4da9d6"/><path d="M133.74 590.43h4.51" stroke="#4ca6d7"/><path d="M138 590.43h4.51" stroke="#4eaad6"/><path d="M142.26 590.43h4.51" stroke="#4daad6"/><path d="M146.52 590.43h4.51" stroke="#50b1d3"/><path d="M150.78 590.43h4.51" stroke="#50b3d2"/><path d="M155.04 590.43h4.51" stroke="#50b2d2"/><path d="M159.3 590.43h4.51" stroke="#51b5d1"/><path d="M163.56 590.43h4.51" stroke="#57c1c8"/><path d="M167.82 590.43h4.51" stroke="#58c4c6"/><path d="M172.08 590.43h4.51" stroke="#65e7a6"/><path d="M176.34 590.43h4.51" stroke="#ff0000"/><path d="M74.1 594.69h4.51" stroke="#65e8a6"/><path d="M78.36 594.69h4.51" stroke="#64e3aa"/><path d="M82.62 594.69h4.51" stroke="#4ca6d7"/><path d="M86.88 594.69h4.51" stroke="#4ca4d8"/><path d="M91.14 594.69h4.51" stroke="#4ba1d9"/><path d="M95.4 594.69h4.51" stroke="#4a9eda"/><path d="M99.66 594.69h4.51" stroke="#4899dc"/><path d="M103.92 594.69h4.51" stroke="#4a9edb"/><path d="M108.18 594.69h4.51" stroke="#499bdb"/><path d="M112.44 594.69h4.51" stroke="#499cdb"/><path d="M116.7 594.69h4.51" stroke="#4897dd"/><path d="M120.96 594.69h4.51" stroke="#499bdc"/><path d="M125.22 594.69h4.51" stroke="#499bdc"/><path d="M129.48 594.69h4.51" stroke="#499ddb"/><path d="M133.74 594.69h4.51" stroke="#4aa0da"/><path d="M138 594.69h4.51" stroke="#4da8d7"/><path d="M142.26 594.69h4.51" stroke="#4ca7d7"/><path d="M146.52 594.69h4.51" stroke="#4daad6"/><path d="M150.78 594.69h4.51" stroke="#4faed4"/><path d="M155.04 594.69h4.51" stroke="#4faed4"/><path d="M159.3 594.69h4.51" stroke="#50b1d3"/><path d="M163.56 594.69h4.51" stroke="#53bace"/><path d="M167.82 594.69h4.51" stroke="#55bfca"/><path d="M172.08 594.69h4.51" stroke="#57c2c7"/><path d="M176.34 594.69h4.51" stroke="#ff0000"/><path d="M74.1 598.95h4.51" stroke="#66e9a4"/><path d="M78.36 598.95h4.51" stroke="#65e5a8"/><path d="M82.62 598.95h4.51" stroke="#4da8d6"/><path d="M86.88 598.95h4.51" stroke="#4ba1d9"/><path d="M91.14 598.95h4.51" stroke="#4aa0da"/><path d="M95.4 598.95h4.51" stroke="#499cdb"/><path d="M99.66 598.95h4.51" stroke="#4797dd"/><path d="M103.92 598.95h4.51" stroke="#4796de"/><path d="M108.18 598.95h4.51" stroke="#4797dd"/><path d="M112.44 598.95h4.51" stroke="#4899dc"/><path d="M116.7 598.95h4.51" stroke="#4898dd"/><path d="M120.96 598.95h4.51" stroke="#4693df"/><path d="M125.22 598.95h4.51" stroke="#4899dd"/><path d="M129.48 598.95h4.51" stroke="#4796de"/><path d="M133.74 598.95h4.51" stroke="#4898dd"/><path d="M138 598.95h4.51" stroke="#4a9fda"/><path d="M142.26 598.95h4.51" stroke="#4ca6d7"/><path d="M146.52 598.95h4.51" stroke="#4ba3d9"/><path d="M150.78 598.95h4.51" stroke="#4eacd5"/><path d="M155.04 598.95h4.51" stroke="#50b1d3"/><path d="M159.3 598.95h4.51" stroke="#50b0d3"/><path d="M163.56 598.95h4.51" stroke="#52b9cf"/><path d="M167.82 598.95h4.51" stroke="#56bfca"/><path d="M172.08 598.95h4.51" stroke="#00cc00"/><path d="M176.34 598.95h4.51" stroke="#ff0000"/><path d="M74.1 603.21h4.51" stroke="#00cc00"/><path d="M78.36 603.21h4.51" stroke="#66eaa3"/><path d="M82.62 603.21h4.51" stroke="#4da7d7"/><path d="M86.88 603.21h4.51" stroke="#4ca4d8"/><path d="M91.14 603.21h4.51" stroke="#4a9fda"/><path d="M95.4 603.21h4.51" stroke="#4a9eda"/><path d="M99.66 603.21h4.51" stroke="#499adc"/><path d="M103.92 603.21h4.51" stroke="#4899dd"/><path d="M108.18 603.21h4.51" stroke="#4694de"/><path d="M112.44 603.21h4.51" stroke="#458fe0"/><path d="M116.7 603.21h4.51" stroke="#458ee1"/><path d="M120.96 603.21h4.51" stroke="#458fe1"/><path d="M125.22 603.21h4.51" stroke="#4794de"/><path d="M129.48 603.21h4.51" stroke="#4898dd"/><path d="M133.74 603.21h4.51" stroke="#4794de"/><path d="M138 603.21h4.51" stroke="#499ddb"/><path d="M142.26 603.21h4.51" stroke="#4ba1d9"/><path d="M146.52 603.21h4.51" stroke="#4ba1d9"/><path d="M150.78 603.21h4.51" stroke="#4ca7d7"/><path d="M155.04 603.21h4.51" stroke="#4da8d6"/><path d="M159.3 603.21h4.51" stroke="#50b2d2"/><path d="M163.56 603.21h4.51" stroke="#50b1d3"/><path d="M167.82 603.21h4.51" stroke="#55becb"/><path d="M172.08 603.21h4.51" stroke="#56bfca"/><path d="M176.34 603.21h4.51" stroke="#ff0000"/><path d="M78.36 607.47h4.51" stroke="#65e6a7"/><path d="M82.62 607.47h4.51" stroke="#4ba3d8"/><path d="M86.88 607.47h4.51" stroke="#4ca6d7"/><path d="M91.14 607.47h4.51" stroke="#4ba3d9"/><path d="M95.4 607.47h4.51" stroke="#4897dd"/><path d="M99.66 607.47h4.51" stroke="#4899dc"/><path d="M103.92 607.47h4.51" stroke="#4897dd"/><path d="M108.18 607.47h4.51" stroke="#4795de"/><path d="M112.44 607.47h4.51" stroke="#4694df"/><path d="M116.7 607.47h4.51" stroke="#4590e0"/><path d="M120.96 607.47h4.51" stroke="#4795de"/><path d="M125.22 607.47h4.51" stroke="#4897dd"/><path d="M129.48 607.47h4.51" stroke="#4694de"/><path d="M133.74 607.47h4.51" stroke="#489adc"/><path d="M138 607.47h4.51" stroke="#4899dc"/><path d="M142.26 607.47h4.51" stroke="#499bdc"/><path d="M146.52 607.47h4.51" stroke="#4aa0da"/><path d="M150.78 607.47h4.51" stroke="#4ba2d9"/><path d="M155.04 607.47h4.51" stroke="#4fadd4"/><path d="M159.3 607.47h4.51" stroke="#50b3d2"/><path d="M163.56 607.47h4.51" stroke="#50b0d3"/><path d="M167.82 607.47h4.51" stroke="#53bacf"/><path d="M78.36 611.73h4.51" stroke="#66eaa4"/><path d="M82.62 611.73h4.51" stroke="#4ba2d9"/><path d="M86.88 611.73h4.51" stroke="#4aa0d9"/><path d="M91.14 611.73h4.51" stroke="#499cdb"/><path d="M95.4 611.73h4.51" stroke="#499ddb"/><path d="M99.66 611.73h4.51" stroke="#4692df"/><path d="M103.92 611.73h4.51" stroke="#4692df"/><path d="M108.18 611.73h4.51" stroke="#4693df"/><path d="M112.44 611.73h4.51" stroke="#448ee1"/><path d="M116.7 611.73h4.51" stroke="#4692df"/><path d="M120.96 611.73h4.51" stroke="#4692df"/><path d="M125.22 611.73h4.51" stroke="#4796de"/><path d="M129.48 611.73h4.51" stroke="#4692df"/><path d="M133.74 611.73h4.51" stroke="#4794de"/><path d="M138 611.73h4.51" stroke="#4899dc"/><path d="M142.26 611.73h4.51" stroke="#499adc"/><path d="M146.52 611.73h4.51" stroke="#4ba1d9"/><path d="M150.78 611.73h4.51" stroke="#4ba2d9"/><path d="M155.04 611.73h4.51" stroke="#4eaad6"/><path d="M159.3 611.73h4.51" stroke="#4fb0d3"/><path d="M163.56 611.73h4.51" stroke="#51b5d1"/><path d="M167.82 611.73h4.51" stroke="#54bccd"/><path d="M180.6 611.73h4.51" stroke="#ff0000"/><path d="M78.36 615.99h4.51" stroke="#65e8a6"/><path d="M82.62 615.99h4.51" stroke="#4ca5d8"/><path d="M86.88 615.99h4.51" stroke="#4ca5d7"/><path d="M91.14 615.99h4.51" stroke="#4ba1d9"/><path d="M95.4 615.99h4.51" stroke="#499bdb"/><path d="M99.66 615.99h4.51" stroke="#4796de"/><path d="M103.92 615.99h4.51" stroke="#4692df"/><path d="M108.18 615.99h4.51" stroke="#4590e0"/><path d="M112.44 615.99h4.51" stroke="#4795de"/><path d="M116.7 615.99h4.51" stroke="#448de1"/><path d="M120.96 615.99h4.51" stroke="#4693df"/><path d="M125.22 615.99h4.51" stroke="#4693df"/><path d="M129.48 615.99h4.51" stroke="#4898dd"/><path d="M133.74 615.99h4.51" stroke="#4897dd"/><path d="M138 615.99h4.51" stroke="#499cdb"/><path d="M142.26 615.99h4.51" stroke="#4898dd"/><path d="M146.52 615.99h4.51" stroke="#4a9fda"/><path d="M150.78 615.99h4.51" stroke="#4ba3d8"/><path d="M155.04 615.99h4.51" stroke="#4ca5d7"/><path d="M159.3 615.99h4.51" stroke="#4eacd5"/><path d="M163.56 615.99h4.51" stroke="#4fb0d3"/><path d="M167.82 615.99h4.51" stroke="#51b6d1"/><path d="M172.08 615.99h4.51" stroke="#00cc00"/><path d="M180.6 615.99h4.51" stroke="#ff0000"/><path d="M78.36 620.25h4.51" stroke="#68f09e"/><path d="M82.62 620.25h4.51" stroke="#4ca5d8"/><path d="M86.88 620.25h4.51" stroke="#4ba2d9"/><path d="M91.14 620.25h4.51" stroke="#499ddb"/><path d="M95.4 620.25h4.51" stroke="#489adc"/><path d="M99.66 620.25h4.51" stroke="#4899dc"/><path d="M103.92 620.25h4.51" stroke="#4796de"/><path d="M108.18 620.25h4.51" stroke="#4693df"/><path d="M112.44 620.25h4.51" stroke="#4694df"/><path d="M116.7 620.25h4.51" stroke="#4590e0"/><path d="M120.96 620.25h4.51" stroke="#458fe1"/><path d="M125.22 620.25h4.51" stroke="#458ee1"/><path d="M129.48 620.25h4.51" stroke="#4692df"/><path d="M133.74 620.25h4.51" stroke="#4796dd"/><path d="M138 620.25h4.51" stroke="#499cdb"/><path d="M142.26 620.25h4.51" stroke="#4a9fda"/><path d="M146.52 620.25h4.51" stroke="#4aa0da"/><path d="M150.78 620.25h4.51" stroke="#4da8d6"/><path d="M155.04 620.25h4.51" stroke="#4da7d7"/><path d="M159.3 620.25h4.51" stroke="#4fafd3"/><path d="M163.56 620.25h4.51" stroke="#4fb0d3"/><path d="M167.82 620.25h4.51" stroke="#52b8d0"/><path d="M172.08 620.25h4.51" stroke="#63e1ac"/><path d="M180.6 620.25h4.51" stroke="#ff0000"/><path d="M78.36 624.51h4.51" stroke="#00cc00"/><path d="M82.62 624.51h4.51" stroke="#4ba3d8"/><path d="M86.88 624.51h4.51" stroke="#4a9fda"/><path d="M91.14 624.51h4.51" stroke="#4a9fda"/><path d="M95.4 624.51h4.51" stroke="#499bdc"/><path d="M99.66 624.51h4.51" stroke="#4796de"/><path d="M103.92 624.51h4.51" stroke="#4590e0"/><path d="M108.18 624.51h4.51" stroke="#4693df"/><path d="M112.44 624.51h4.51" stroke="#4692df"/><path d="M116.7 624.51h4.51" stroke="#4691df"/><path d="M120.96 624.51h4.51" stroke="#4796de"/><path d="M125.22 624.51h4.51" stroke="#4795de"/><path d="M129.48 624.51h4.51" stroke="#4898dd"/><path d="M133.74 624.51h4.51" stroke="#499bdb"/><path d="M138 624.51h4.51" stroke="#499ddb"/><path d="M142.26 624.51h4.51" stroke="#4a9eda"/><path d="M146.52 624.51h4.51" stroke="#4ca4d8"/><path d="M150.78 624.51h4.51" stroke="#4da7d7"/><path d="M155.04 624.51h4.51" stroke="#4eabd5"/><path d="M159.3 624.51h4.51" stroke="#4fafd4"/><path d="M163.56 624.51h4.51" stroke="#50b1d3"/><path d="M167.82 624.51h4.51" stroke="#52b7d0"/><path d="M172.08 624.51h4.51" stroke="#65e6a7"/><path d="M184.86 624.51h4.51" stroke="#ff0000"/><path d="M78.36 628.77h4.51" stroke="#00cc00"/><path d="M82.62 628.77h4.51" stroke="#4da9d6"/><path d="M86.88 628.77h4.51" stroke="#4ca5d8"/><path d="M91.14 628.77h4.51" stroke="#4ba1d9"/><path d="M95.4 628.77h4.51" stroke="#499ddb"/><path d="M99.66 628.77h4.51" stroke="#489adc"/><path d="M103.92 628.77h4.51" stroke="#4796de"/><path d="M108.18 628.77h4.51" stroke="#4693df"/><path d="M112.44 628.77h4.51" stroke="#4692df"/><path d="M116.7 628.77h4.51" stroke="#4795de"/><path d="M120.96 628.77h4.51" stroke="#4898dd"/><path d="M125.22 628.77h4.51" stroke="#4797dd"/><path d="M129.48 628.77h4.51" stroke="#4795de"/><path d="M133.74 628.77h4.51" stroke="#499ddb"/><path d="M138 628.77h4.51" stroke="#499ddb"/><path d="M142.26 628.77h4.51" stroke="#4ba1d9"/><path d="M146.52 628.77h4.51" stroke="#4aa1d9"/><path d="M150.78 628.77h4.51" stroke="#4da8d6"/><path d="M155.04 628.77h4.51" stroke="#4faed4"/><path d="M159.3 628.77h4.51" stroke="#4fafd4"/><path d="M163.56 628.77h4.51" stroke="#50b2d3"/><path d="M167.82 628.77h4.51" stroke="#52b8d0"/><path d="M172.08 628.77h4.51" stroke="#68f09e"/><path d="M82.62 633.03h4.51" stroke="#4ca5d7"/><path d="M86.88 633.03h4.51" stroke="#4ca6d7"/><path d="M91.14 633.03h4.51" stroke="#4aa0da"/><path d="M95.4 633.03h4.51" stroke="#489adc"/><path d="M99.66 633.03h4.51" stroke="#4899dd"/><path d="M103.92 633.03h4.51" stroke="#4796de"/><path d="M108.18 633.03h4.51" stroke="#4692df"/><path d="M112.44 633.03h4.51" stroke="#4692df"/><path d="M116.7 633.03h4.51" stroke="#4898dd"/><path d="M120.96 633.03h4.51" stroke="#4693df"/><path d="M125.22 633.03h4.51" stroke="#4794de"/><path d="M129.48 633.03h4.51" stroke="#499ddb"/><path d="M133.74 633.03h4.51" stroke="#499ddb"/><path d="M138 633.03h4.51" stroke="#4a9eda"/><path d="M142.26 633.03h4.51" stroke="#4ba3d8"/><path d="M146.52 633.03h4.51" stroke="#4da9d6"/><path d="M150.78 633.03h4.51" stroke="#4da8d6"/><path d="M155.04 633.03h4.51" stroke="#4fb0d3"/><path d="M159.3 633.03h4.51" stroke="#50b3d2"/><path d="M163.56 633.03h4.51" stroke="#52b7d1"/><path d="M82.62 637.29h4.51" stroke="#4ba3d8"/><path d="M86.88 637.29h4.51" stroke="#4ba3d8"/><path d="M91.14 637.29h4.51" stroke="#499cdb"/><path d="M95.4 637.29h4.51" stroke="#499cdb"/><path d="M99.66 637.29h4.51" stroke="#4795de"/><path d="M103.92 637.29h4.51" stroke="#4899dc"/><path d="M108.18 637.29h4.51" stroke="#489adc"/><path d="M112.44 637.29h4.51" stroke="#4795de"/><path d="M116.7 637.29h4.51" stroke="#4795de"/><path d="M120.96 637.29h4.51" stroke="#499ddb"/><path d="M125.22 637.29h4.51" stroke="#499ddb"/><path d="M129.48 637.29h4.51" stroke="#4aa0d9"/><path d="M133.74 637.29h4.51" stroke="#499bdb"/><path d="M138 637.29h4.51" stroke="#4ca6d7"/><path d="M142.26 637.29h4.51" stroke="#4da7d7"/><path d="M146.52 637.29h4.51" stroke="#4da7d7"/><path d="M150.78 637.29h4.51" stroke="#4eacd5"/><path d="M78.36 641.55h4.51" stroke="#64e4a9"/><path d="M82.62 641.55h4.51" stroke="#4da8d6"/><path d="M86.88 641.55h4.51" stroke="#4aa0da"/><path d="M91.14 641.55h4.51" stroke="#4ba1d9"/><path d="M95.4 641.55h4.51" stroke="#489adc"/><path d="M99.66 641.55h4.51" stroke="#4a9eda"/><path d="M103.92 641.55h4.51" stroke="#4899dd"/><path d="M108.18 641.55h4.51" stroke="#4a9eda"/><path d="M112.44 641.55h4.51" stroke="#499ddb"/><path d="M116.7 641.55h4.51" stroke="#499ddb"/><path d="M120.96 641.55h4.51" stroke="#499bdb"/><path d="M125.22 641.55h4.51" stroke="#4aa0da"/><path d="M129.48 641.55h4.51" stroke="#4a9eda"/><path d="M133.74 641.55h4.51" stroke="#4aa0d9"/><path d="M138 641.55h4.51" stroke="#4da8d7"/><path d="M142.26 641.55h4.51" stroke="#4da7d7"/><path d="M74.1 645.81h4.51" stroke="#64e4a9"/><path d="M78.36 645.81h4.51" stroke="#4ca5d7"/><path d="M82.62 645.81h4.51" stroke="#4da7d7"/><path d="M86.88 645.81h4.51" stroke="#4ca5d8"/><path d="M91.14 645.81h4.51" stroke="#4a9fda"/><path d="M95.4 645.81h4.51" stroke="#499bdc"/><path d="M99.66 645.81h4.51" stroke="#499bdb"/><path d="M103.92 645.81h4.51" stroke="#499cdb"/><path d="M108.18 645.81h4.51" stroke="#489adc"/><path d="M112.44 645.81h4.51" stroke="#499cdb"/><path d="M116.7 645.81h4.51" stroke="#499ddb"/><path d="M120.96 645.81h4.51" stroke="#4ba3d8"/><path d="M125.22 645.81h4.51" stroke="#4da8d7"/><path d="M129.48 645.81h4.51" stroke="#4ba3d8"/><path d="M74.1 650.07h4.51" stroke="#68ef9e"/><path d="M78.36 650.07h4.51" stroke="#4daad6"/><path d="M82.62 650.07h4.51" stroke="#4da8d6"/><path d="M86.88 650.07h4.51" stroke="#4da7d7"/><path d="M91.14 650.07h4.51" stroke="#4ba3d9"/><path d="M95.4 650.07h4.51" stroke="#4a9fda"/><path d="M99.66 650.07h4.51" stroke="#4ba2d9"/><path d="M103.92 650.07h4.51" stroke="#499bdb"/><path d="M108.18 650.07h4.51" stroke="#4ba3d8"/><path d="M112.44 650.07h4.51" stroke="#4aa0da"/><path d="M116.7 650.07h4.51" stroke="#4ca5d8"/><path d="M120.96 650.07h4.51" stroke="#4da7d7"/><path d="M74.1 654.33h4.51" stroke="#66eaa3"/><path d="M78.36 654.33h4.51" stroke="#4ca5d8"/><path d="M82.62 654.33h4.51" stroke="#4ba3d8"/><path d="M86.88 654.33h4.51" stroke="#4da7d7"/><path d="M91.14 654.33h4.51" stroke="#4ba3d8"/><path d="M95.4 654.33h4.51" stroke="#4ba3d8"/><path d="M99.66 654.33h4.51" stroke="#4a9fda"/><path d="M103.92 654.33h4.51" stroke="#4ca4d8"/><path d="M108.18 654.33h4.51" stroke="#4ba3d9"/><path d="M74.1 658.59h4.51" stroke="#65e7a6"/><path d="M78.36 658.59h4.51" stroke="#4eadd5"/><path d="M82.62 658.59h4.51" stroke="#4eabd5"/><path d="M86.88 658.59h4.51" stroke="#4ba2d9"/><path d="M91.14 658.59h4.51" stroke="#4da8d6"/><path d="M95.4 658.59h4.51" stroke="#4da8d6"/><path d="M65.58 662.85h4.51" stroke="#ff0000"/><path d="M69.84 662.85h4.51" stroke="#00cc00"/><path d="M74.1 662.85h4.51" stroke="#66eba2"/><path d="M78.36 662.85h4.51" stroke="#4da9d6"/><path d="M82.62 662.85h4.51" stroke="#4da9d6"/><path d="M86.88 662.85h4.51" stroke="#4eabd5"/><path d="M69.84 667.11h4.51" stroke="#00cc00"/><path d="M74.1 667.11h4.51" stroke="#46aaeb"/></g>
<polygon points="62.4,677.46 62.85,671.3 63.81,666.48 65.89,663.07 65.61,657.58 65.89,652.09 67.92,645.93 70.68,641.12 74.17,636.98 74.57,632.89 75.92,629.02 74.85,626.67 73.16,621.91 71.41,613.68 70,606.8 68.65,601.31 67.25,597.22 65.44,593.08 64.88,591.73 65.89,586.25 67.92,582.1 72.09,580.03 76.2,577.96 76.93,572.53 76.2,564.24 75.13,556.01 74.17,547.78 73.16,539.55 72.76,531.32 73.44,527.9 76.2,525.16 80.36,524.21 87.23,523.76 94.16,524.21 98.33,525.16 100.35,528.58 101.09,536.81 101.76,545.04 102.44,553.27 102.83,561.5 103.56,570.85 104.52,564.24 105.87,556.01 107.95,547.78 109.36,540.95 112.12,538.21 116.23,536.14 120.4,534.06 125.75,532.44 134.02,530.65 142.3,529.7 145.06,527.9 148.5,526.5 151.25,528.58 157.5,530.65 164.37,533.39 171.3,536.14 176.82,538.88 180.93,542.29 182.34,547.78 185.09,553.27 188.53,559.48 191.29,564.97 193.37,570.46 193.09,576.62 191.96,579.36 189.2,583.5 187.18,587.59 186.05,593.08 186.45,599.97 186.05,604.72 187.18,609.54 188.53,615.03 189.2,618.44 191.74,621.19 192.7,626.67" fill="none" stroke="#dc2468" stroke-width="1.25" stroke-linejoin="round"/>
<rect x="20.2" y="494.9" width="209.8" height="195.8" fill="none" stroke="#000" stroke-width="1.8"/>
<path d="M19.6 507.3H26.2M22.9 504V510.6M19.6 549.98H26.2M22.9 546.68V553.28M19.6 592.66H26.2M22.9 589.36V595.96M19.6 635.34H26.2M22.9 632.04V638.64M19.6 678.02H26.2M22.9 674.72V681.32M62.2 507.3H68.8M65.5 504V510.6M62.2 549.98H68.8M65.5 546.68V553.28M62.2 592.66H68.8M65.5 589.36V595.96M62.2 635.34H68.8M65.5 632.04V638.64M62.2 678.02H68.8M65.5 674.72V681.32M104.8 507.3H111.4M108.1 504V510.6M104.8 549.98H111.4M108.1 546.68V553.28M104.8 592.66H111.4M108.1 589.36V595.96M104.8 635.34H111.4M108.1 632.04V638.64M104.8 678.02H111.4M108.1 674.72V681.32M147.4 507.3H154M150.7 504V510.6M147.4 549.98H154M150.7 546.68V553.28M147.4 592.66H154M150.7 589.36V595.96M147.4 635.34H154M150.7 632.04V638.64M147.4 678.02H154M150.7 674.72V681.32M190 507.3H196.6M193.3 504V510.6M190 549.98H196.6M193.3 546.68V553.28M190 592.66H196.6M193.3 589.36V595.96M190 635.34H196.6M193.3 632.04V638.64M190 678.02H196.6M193.3 674.72V681.32" stroke="#2a2a2a" stroke-width="0.95" fill="none"/>
<text x="22.9" y="490.7" font-family='"Liberation Sans", sans-serif' font-size="6.9" text-anchor="middle" fill="#222">125<tspan font-size="5.6">00mE</tspan></text>
<text x="22.9" y="699.7" font-family='"Liberation Sans", sans-serif' font-size="6.9" text-anchor="middle" fill="#222">125<tspan font-size="5.6">00mE</tspan></text>
<text x="65.5" y="490.7" font-family='"Liberation Sans", sans-serif' font-size="6.9" text-anchor="middle" fill="#222">150</text>
<text x="65.5" y="699.7" font-family='"Liberation Sans", sans-serif' font-size="6.9" text-anchor="middle" fill="#222">150</text>
<text x="108.1" y="490.7" font-family='"Liberation Sans", sans-serif' font-size="6.9" text-anchor="middle" fill="#222">175</text>
<text x="108.1" y="699.7" font-family='"Liberation Sans", sans-serif' font-size="6.9" text-anchor="middle" fill="#222">175</text>
<text x="150.7" y="490.7" font-family='"Liberation Sans", sans-serif' font-size="6.9" text-anchor="middle" fill="#222">200</text>
<text x="150.7" y="699.7" font-family='"Liberation Sans", sans-serif' font-size="6.9" text-anchor="middle" fill="#222">200</text>
<text x="193.3" y="490.7" font-family='"Liberation Sans", sans-serif' font-size="6.9" text-anchor="middle" fill="#222">225<tspan font-size="5.6">00mE</tspan></text>
<text x="193.3" y="699.7" font-family='"Liberation Sans", sans-serif' font-size="6.9" text-anchor="middle" fill="#222">225<tspan font-size="5.6">00mE</tspan></text>
<text x="15.6" y="507.3" font-family='"Liberation Sans", sans-serif' font-size="6.9" text-anchor="middle" fill="#222" transform="rotate(-90 15.6 507.3)">450<tspan font-size="5.6">00mN</tspan></text>
<text x="234" y="507.3" font-family='"Liberation Sans", sans-serif' font-size="6.9" text-anchor="middle" fill="#222" transform="rotate(90 234 507.3)">450<tspan font-size="5.6">00mN</tspan></text>
<text x="9.6" y="552.38" font-family='"Liberation Sans", sans-serif' font-size="6.9" text-anchor="middle" fill="#222">425</text>
<text x="240.6" y="552.38" font-family='"Liberation Sans", sans-serif' font-size="6.9" text-anchor="middle" fill="#222">425</text>
<text x="9.6" y="595.06" font-family='"Liberation Sans", sans-serif' font-size="6.9" text-anchor="middle" fill="#222">400</text>
<text x="240.6" y="595.06" font-family='"Liberation Sans", sans-serif' font-size="6.9" text-anchor="middle" fill="#222">400</text>
<text x="9.6" y="637.74" font-family='"Liberation Sans", sans-serif' font-size="6.9" text-anchor="middle" fill="#222">375</text>
<text x="240.6" y="637.74" font-family='"Liberation Sans", sans-serif' font-size="6.9" text-anchor="middle" fill="#222">375</text>
<text x="15.6" y="678.02" font-family='"Liberation Sans", sans-serif' font-size="6.9" text-anchor="middle" fill="#222" transform="rotate(-90 15.6 678.02)">350<tspan font-size="5.6">00mN</tspan></text>
<text x="234" y="678.02" font-family='"Liberation Sans", sans-serif' font-size="6.9" text-anchor="middle" fill="#222" transform="rotate(90 234 678.02)">350<tspan font-size="5.6">00mN</tspan></text>
<path d="M39.5 499.2L47.1 511.8Q39.5 508.2 31.9 511.8Z" fill="#000"/>
<text transform="translate(39.55 524.05) scale(1.36 1)" font-family='"Liberation Sans", sans-serif' font-weight="bold" font-size="15.84" text-anchor="middle" fill="#000" stroke="#000" stroke-width="0.3">N</text>
<text x="136.6" y="662.7" font-family='"Liberation Sans", sans-serif' font-size="8.4" text-anchor="middle" fill="#222">2</text>
<text x="154" y="662.7" font-family='"Liberation Sans", sans-serif' font-size="8.4" text-anchor="middle" fill="#222">1</text>
<text x="171.4" y="662.7" font-family='"Liberation Sans", sans-serif' font-size="8.4" text-anchor="middle" fill="#222">0</text>
<text x="188.8" y="662.7" font-family='"Liberation Sans", sans-serif' font-size="8.4" text-anchor="middle" fill="#222">1</text>
<text x="206.2" y="662.7" font-family='"Liberation Sans", sans-serif' font-size="8.4" text-anchor="middle" fill="#222">2</text>
<path d="M136.6 665.4H206.2M136.6 664.2V666.4M154 664.2V666.4M171.4 664.2V666.4M188.8 664.2V666.4M206.2 664.2V666.4" stroke="#333" stroke-width="0.9" fill="none"/>
<text x="210.4" y="662.7" font-family='"Liberation Sans", sans-serif' font-size="8.4" fill="#222">Km</text>
<ellipse cx="79.6" cy="531.3" rx="5.7" ry="4.9" fill="#111"/>
<ellipse cx="176.4" cy="543.5" rx="5.7" ry="4.9" fill="#111"/>
</g>
<g transform="translate(387.6 0)">
<text x="120.3" y="464.4" font-family='"Liberation Serif", serif' font-size="17" text-anchor="middle" fill="#000" textLength="44.5" lengthAdjust="spacingAndGlyphs">Kahru</text>
<text x="120.4" y="479.2" font-family='"Liberation Serif", serif' font-size="14.7" font-weight="bold" font-style="italic" text-anchor="middle" fill="#000" textLength="54.8" lengthAdjust="spacingAndGlyphs">03-08-05</text>
<g shape-rendering="crispEdges" stroke-width="4.56" fill="none"><path d="M86.88 526.53h4.51" stroke="#ff0000"/><path d="M91.14 526.53h4.51" stroke="#ff0000"/><path d="M91.14 530.79h4.51" stroke="#ff0000"/><path d="M142.26 530.79h4.51" stroke="#ff0000"/><path d="M146.52 530.79h4.51" stroke="#ff0000"/><path d="M82.62 535.05h4.51" stroke="#63e1ab"/><path d="M86.88 535.05h4.51" stroke="#00cc00"/><path d="M91.14 535.05h4.51" stroke="#ff0000"/><path d="M138 535.05h4.51" stroke="#00cc00"/><path d="M146.52 535.05h4.51" stroke="#00cc00"/><path d="M159.3 535.05h4.51" stroke="#ff0000"/><path d="M82.62 539.31h4.51" stroke="#63e1ab"/><path d="M86.88 539.31h4.51" stroke="#68ef9f"/><path d="M91.14 539.31h4.51" stroke="#ff0000"/><path d="M112.44 539.31h4.51" stroke="#68ef9f"/><path d="M116.7 539.31h4.51" stroke="#008000"/><path d="M120.96 539.31h4.51" stroke="#54a3e1"/><path d="M125.22 539.31h4.51" stroke="#54a3e1"/><path d="M129.48 539.31h4.51" stroke="#54a3e1"/><path d="M133.74 539.31h4.51" stroke="#53a0e2"/><path d="M138 539.31h4.51" stroke="#56a7de"/><path d="M142.26 539.31h4.51" stroke="#58aed8"/><path d="M146.52 539.31h4.51" stroke="#5ab5d2"/><path d="M150.78 539.31h4.51" stroke="#5bb8d0"/><path d="M155.04 539.31h4.51" stroke="#5fc3c7"/><path d="M159.3 539.31h4.51" stroke="#00cc00"/><path d="M167.82 539.31h4.51" stroke="#ff0000"/><path d="M82.62 543.57h4.51" stroke="#66eaa4"/><path d="M86.88 543.57h4.51" stroke="#64e5a8"/><path d="M95.4 543.57h4.51" stroke="#ff0000"/><path d="M112.44 543.57h4.51" stroke="#63e1ac"/><path d="M116.7 543.57h4.51" stroke="#56a9dc"/><path d="M120.96 543.57h4.51" stroke="#52a0e2"/><path d="M125.22 543.57h4.51" stroke="#53a0e2"/><path d="M129.48 543.57h4.51" stroke="#529fe3"/><path d="M133.74 543.57h4.51" stroke="#529ee3"/><path d="M138 543.57h4.51" stroke="#54a1e2"/><path d="M142.26 543.57h4.51" stroke="#58add9"/><path d="M146.52 543.57h4.51" stroke="#5ab3d4"/><path d="M150.78 543.57h4.51" stroke="#5cbbcd"/><path d="M155.04 543.57h4.51" stroke="#61c9c2"/><path d="M159.3 543.57h4.51" stroke="#62cdbe"/><path d="M163.56 543.57h4.51" stroke="#00cc00"/><path d="M74.1 547.83h4.51" stroke="#ff0000"/><path d="M82.62 547.83h4.51" stroke="#65e7a6"/><path d="M86.88 547.83h4.51" stroke="#00cc00"/><path d="M112.44 547.83h4.51" stroke="#67eca1"/><path d="M116.7 547.83h4.51" stroke="#529fe3"/><path d="M120.96 547.83h4.51" stroke="#519de3"/><path d="M125.22 547.83h4.51" stroke="#519de3"/><path d="M129.48 547.83h4.51" stroke="#53a0e2"/><path d="M133.74 547.83h4.51" stroke="#55a6de"/><path d="M138 547.83h4.51" stroke="#56a8dd"/><path d="M142.26 547.83h4.51" stroke="#57abdb"/><path d="M146.52 547.83h4.51" stroke="#5cbace"/><path d="M150.78 547.83h4.51" stroke="#5ec1c8"/><path d="M155.04 547.83h4.51" stroke="#60c8c2"/><path d="M159.3 547.83h4.51" stroke="#63d2ba"/><path d="M163.56 547.83h4.51" stroke="#00cc00"/><path d="M176.34 547.83h4.51" stroke="#ff0000"/><path d="M74.1 552.09h4.51" stroke="#ff0000"/><path d="M82.62 552.09h4.51" stroke="#64e4a9"/><path d="M86.88 552.09h4.51" stroke="#00cc00"/><path d="M108.18 552.09h4.51" stroke="#64e4a9"/><path d="M112.44 552.09h4.51" stroke="#57aadb"/><path d="M116.7 552.09h4.51" stroke="#55a5e0"/><path d="M120.96 552.09h4.51" stroke="#53a0e2"/><path d="M125.22 552.09h4.51" stroke="#509ce3"/><path d="M129.48 552.09h4.51" stroke="#54a1e2"/><path d="M133.74 552.09h4.51" stroke="#54a2e2"/><path d="M138 552.09h4.51" stroke="#55a4e0"/><path d="M142.26 552.09h4.51" stroke="#57add9"/><path d="M146.52 552.09h4.51" stroke="#5ab4d3"/><path d="M150.78 552.09h4.51" stroke="#5ec0c9"/><path d="M155.04 552.09h4.51" stroke="#5fc3c6"/><path d="M159.3 552.09h4.51" stroke="#62cebd"/><path d="M163.56 552.09h4.51" stroke="#63d0bc"/><path d="M167.82 552.09h4.51" stroke="#00cc00"/><path d="M176.34 552.09h4.51" stroke="#ff0000"/><path d="M74.1 556.35h4.51" stroke="#ff0000"/><path d="M82.62 556.35h4.51" stroke="#64e2aa"/><path d="M86.88 556.35h4.51" stroke="#64e2ab"/><path d="M108.18 556.35h4.51" stroke="#66e9a4"/><path d="M112.44 556.35h4.51" stroke="#56a8dd"/><path d="M116.7 556.35h4.51" stroke="#54a2e2"/><path d="M120.96 556.35h4.51" stroke="#519de3"/><path d="M125.22 556.35h4.51" stroke="#519de3"/><path d="M129.48 556.35h4.51" stroke="#509ce3"/><path d="M133.74 556.35h4.51" stroke="#529ee3"/><path d="M138 556.35h4.51" stroke="#55a5e0"/><path d="M142.26 556.35h4.51" stroke="#55a5df"/><path d="M146.52 556.35h4.51" stroke="#5ab4d3"/><path d="M150.78 556.35h4.51" stroke="#5ab3d3"/><path d="M155.04 556.35h4.51" stroke="#5ec1c8"/><path d="M159.3 556.35h4.51" stroke="#5ec1c8"/><path d="M163.56 556.35h4.51" stroke="#62cfbd"/><path d="M167.82 556.35h4.51" stroke="#64d3b9"/><path d="M172.08 556.35h4.51" stroke="#00cc00"/><path d="M176.34 556.35h4.51" stroke="#ff0000"/><path d="M82.62 560.61h4.51" stroke="#5cbccc"/><path d="M86.88 560.61h4.51" stroke="#00cc00"/><path d="M108.18 560.61h4.51" stroke="#65e8a5"/><path d="M112.44 560.61h4.51" stroke="#55a4e0"/><path d="M116.7 560.61h4.51" stroke="#519de3"/><path d="M120.96 560.61h4.51" stroke="#4e99e4"/><path d="M125.22 560.61h4.51" stroke="#4f9ae4"/><path d="M129.48 560.61h4.51" stroke="#519de3"/><path d="M133.74 560.61h4.51" stroke="#54a1e2"/><path d="M138 560.61h4.51" stroke="#54a2e2"/><path d="M142.26 560.61h4.51" stroke="#54a1e2"/><path d="M146.52 560.61h4.51" stroke="#58aed8"/><path d="M150.78 560.61h4.51" stroke="#59b2d4"/><path d="M155.04 560.61h4.51" stroke="#5cbace"/><path d="M159.3 560.61h4.51" stroke="#5bb9cf"/><path d="M163.56 560.61h4.51" stroke="#5fc5c5"/><path d="M167.82 560.61h4.51" stroke="#5fc4c5"/><path d="M172.08 560.61h4.51" stroke="#62cdbe"/><path d="M180.6 560.61h4.51" stroke="#ff0000"/><path d="M78.36 564.87h4.51" stroke="#ff0000"/><path d="M82.62 564.87h4.51" stroke="#59b2d4"/><path d="M86.88 564.87h4.51" stroke="#67eca1"/><path d="M108.18 564.87h4.51" stroke="#64e2aa"/><path d="M112.44 564.87h4.51" stroke="#509ce3"/><path d="M116.7 564.87h4.51" stroke="#509be3"/><path d="M120.96 564.87h4.51" stroke="#509ce3"/><path d="M125.22 564.87h4.51" stroke="#4e99e4"/><path d="M129.48 564.87h4.51" stroke="#4f9ae4"/><path d="M133.74 564.87h4.51" stroke="#53a0e2"/><path d="M138 564.87h4.51" stroke="#529fe3"/><path d="M142.26 564.87h4.51" stroke="#55a4e0"/><path d="M146.52 564.87h4.51" stroke="#54a2e2"/><path d="M150.78 564.87h4.51" stroke="#56a9dc"/><path d="M155.04 564.87h4.51" stroke="#57acda"/><path d="M159.3 564.87h4.51" stroke="#5bb7d0"/><path d="M163.56 564.87h4.51" stroke="#5bb7d1"/><path d="M167.82 564.87h4.51" stroke="#60c5c4"/><path d="M172.08 564.87h4.51" stroke="#5dbfca"/><path d="M176.34 564.87h4.51" stroke="#00cc00"/><path d="M180.6 564.87h4.51" stroke="#ff0000"/><path d="M78.36 569.13h4.51" stroke="#ff0000"/><path d="M82.62 569.13h4.51" stroke="#58b0d7"/><path d="M86.88 569.13h4.51" stroke="#56a7de"/><path d="M91.14 569.13h4.51" stroke="#00cc00"/><path d="M103.92 569.13h4.51" stroke="#67eca2"/><path d="M108.18 569.13h4.51" stroke="#53a1e2"/><path d="M112.44 569.13h4.51" stroke="#4e98e4"/><path d="M116.7 569.13h4.51" stroke="#4c95e5"/><path d="M120.96 569.13h4.51" stroke="#4d97e4"/><path d="M125.22 569.13h4.51" stroke="#4d96e4"/><path d="M129.48 569.13h4.51" stroke="#4c95e5"/><path d="M133.74 569.13h4.51" stroke="#519de3"/><path d="M138 569.13h4.51" stroke="#4e99e4"/><path d="M142.26 569.13h4.51" stroke="#4f9ae4"/><path d="M146.52 569.13h4.51" stroke="#529fe3"/><path d="M150.78 569.13h4.51" stroke="#55a4e0"/><path d="M155.04 569.13h4.51" stroke="#57aadb"/><path d="M159.3 569.13h4.51" stroke="#56a9dc"/><path d="M163.56 569.13h4.51" stroke="#59b1d5"/><path d="M167.82 569.13h4.51" stroke="#5ab3d3"/><path d="M172.08 569.13h4.51" stroke="#5cbace"/><path d="M184.86 569.13h4.51" stroke="#ff0000"/><path d="M78.36 573.39h4.51" stroke="#ff0000"/><path d="M82.62 573.39h4.51" stroke="#56a9dc"/><path d="M86.88 573.39h4.51" stroke="#56a7de"/><path d="M91.14 573.39h4.51" stroke="#63e2ab"/><path d="M95.4 573.39h4.51" stroke="#64e4a9"/><path d="M99.66 573.39h4.51" stroke="#64e3aa"/><path d="M103.92 573.39h4.51" stroke="#519de3"/><path d="M108.18 573.39h4.51" stroke="#4e99e4"/><path d="M112.44 573.39h4.51" stroke="#4b94e5"/><path d="M116.7 573.39h4.51" stroke="#4b93e5"/><path d="M120.96 573.39h4.51" stroke="#4890e6"/><path d="M125.22 573.39h4.51" stroke="#488fe6"/><path d="M129.48 573.39h4.51" stroke="#4a92e5"/><path d="M133.74 573.39h4.51" stroke="#4c96e4"/><path d="M138 573.39h4.51" stroke="#4a92e5"/><path d="M142.26 573.39h4.51" stroke="#4e98e4"/><path d="M146.52 573.39h4.51" stroke="#4e99e4"/><path d="M150.78 573.39h4.51" stroke="#509ce3"/><path d="M155.04 573.39h4.51" stroke="#519de3"/><path d="M159.3 573.39h4.51" stroke="#56a9dc"/><path d="M163.56 573.39h4.51" stroke="#56a7de"/><path d="M167.82 573.39h4.51" stroke="#59b0d6"/><path d="M172.08 573.39h4.51" stroke="#59b1d6"/><path d="M184.86 573.39h4.51" stroke="#ff0000"/><path d="M82.62 577.65h4.51" stroke="#509de3"/><path d="M86.88 577.65h4.51" stroke="#529fe3"/><path d="M91.14 577.65h4.51" stroke="#4f9ae4"/><path d="M95.4 577.65h4.51" stroke="#4d97e4"/><path d="M99.66 577.65h4.51" stroke="#4c95e5"/><path d="M103.92 577.65h4.51" stroke="#4b94e5"/><path d="M108.18 577.65h4.51" stroke="#4990e6"/><path d="M112.44 577.65h4.51" stroke="#4991e5"/><path d="M116.7 577.65h4.51" stroke="#478de6"/><path d="M120.96 577.65h4.51" stroke="#488fe6"/><path d="M125.22 577.65h4.51" stroke="#488fe6"/><path d="M129.48 577.65h4.51" stroke="#4990e6"/><path d="M133.74 577.65h4.51" stroke="#458be7"/><path d="M138 577.65h4.51" stroke="#478ee6"/><path d="M142.26 577.65h4.51" stroke="#488fe6"/><path d="M146.52 577.65h4.51" stroke="#4b94e5"/><path d="M150.78 577.65h4.51" stroke="#4d97e4"/><path d="M155.04 577.65h4.51" stroke="#509be3"/><path d="M159.3 577.65h4.51" stroke="#529ee3"/><path d="M163.56 577.65h4.51" stroke="#529fe3"/><path d="M167.82 577.65h4.51" stroke="#55a5e0"/><path d="M172.08 577.65h4.51" stroke="#56a9dc"/><path d="M78.36 581.91h4.51" stroke="#68f09e"/><path d="M82.62 581.91h4.51" stroke="#4d98e4"/><path d="M86.88 581.91h4.51" stroke="#4e99e4"/><path d="M91.14 581.91h4.51" stroke="#4b94e5"/><path d="M95.4 581.91h4.51" stroke="#4c96e4"/><path d="M99.66 581.91h4.51" stroke="#4990e6"/><path d="M103.92 581.91h4.51" stroke="#478de6"/><path d="M108.18 581.91h4.51" stroke="#458be7"/><path d="M112.44 581.91h4.51" stroke="#4489e7"/><path d="M116.7 581.91h4.51" stroke="#4286e8"/><path d="M120.96 581.91h4.51" stroke="#4387e7"/><path d="M125.22 581.91h4.51" stroke="#4286e8"/><path d="M129.48 581.91h4.51" stroke="#4286e8"/><path d="M133.74 581.91h4.51" stroke="#4388e7"/><path d="M138 581.91h4.51" stroke="#4286e8"/><path d="M142.26 581.91h4.51" stroke="#478ee6"/><path d="M146.52 581.91h4.51" stroke="#4991e5"/><path d="M150.78 581.91h4.51" stroke="#4991e5"/><path d="M155.04 581.91h4.51" stroke="#4a93e5"/><path d="M159.3 581.91h4.51" stroke="#4d97e4"/><path d="M163.56 581.91h4.51" stroke="#509be3"/><path d="M167.82 581.91h4.51" stroke="#509be3"/><path d="M172.08 581.91h4.51" stroke="#52a0e2"/><path d="M176.34 581.91h4.51" stroke="#00cc00"/><path d="M180.6 581.91h4.51" stroke="#ff0000"/><path d="M74.1 586.17h4.51" stroke="#65e8a5"/><path d="M78.36 586.17h4.51" stroke="#67eda1"/><path d="M82.62 586.17h4.51" stroke="#4c95e5"/><path d="M86.88 586.17h4.51" stroke="#4e98e4"/><path d="M91.14 586.17h4.51" stroke="#4a92e5"/><path d="M95.4 586.17h4.51" stroke="#4990e6"/><path d="M99.66 586.17h4.51" stroke="#4890e6"/><path d="M103.92 586.17h4.51" stroke="#458be7"/><path d="M108.18 586.17h4.51" stroke="#4287e7"/><path d="M112.44 586.17h4.51" stroke="#4489e7"/><path d="M116.7 586.17h4.51" stroke="#4082e8"/><path d="M120.96 586.17h4.51" stroke="#3d7fe9"/><path d="M125.22 586.17h4.51" stroke="#4083e8"/><path d="M129.48 586.17h4.51" stroke="#3e7fe9"/><path d="M133.74 586.17h4.51" stroke="#3f81e9"/><path d="M138 586.17h4.51" stroke="#4286e8"/><path d="M142.26 586.17h4.51" stroke="#4387e7"/><path d="M146.52 586.17h4.51" stroke="#4185e8"/><path d="M150.78 586.17h4.51" stroke="#458be7"/><path d="M155.04 586.17h4.51" stroke="#478ee6"/><path d="M159.3 586.17h4.51" stroke="#4a92e5"/><path d="M163.56 586.17h4.51" stroke="#4b94e5"/><path d="M167.82 586.17h4.51" stroke="#4f9be3"/><path d="M172.08 586.17h4.51" stroke="#00cc00"/><path d="M180.6 586.17h4.51" stroke="#ff0000"/><path d="M74.1 590.43h4.51" stroke="#68ef9f"/><path d="M78.36 590.43h4.51" stroke="#67eca2"/><path d="M82.62 590.43h4.51" stroke="#4c96e4"/><path d="M86.88 590.43h4.51" stroke="#4d97e4"/><path d="M91.14 590.43h4.51" stroke="#478de6"/><path d="M95.4 590.43h4.51" stroke="#478ee6"/><path d="M99.66 590.43h4.51" stroke="#4286e8"/><path d="M103.92 590.43h4.51" stroke="#4286e8"/><path d="M108.18 590.43h4.51" stroke="#4083e8"/><path d="M112.44 590.43h4.51" stroke="#3f81e9"/><path d="M116.7 590.43h4.51" stroke="#3f81e9"/><path d="M120.96 590.43h4.51" stroke="#3d7ee9"/><path d="M125.22 590.43h4.51" stroke="#3c7cea"/><path d="M129.48 590.43h4.51" stroke="#3c7cea"/><path d="M133.74 590.43h4.51" stroke="#3b7bea"/><path d="M138 590.43h4.51" stroke="#4082e8"/><path d="M142.26 590.43h4.51" stroke="#4083e8"/><path d="M146.52 590.43h4.51" stroke="#4388e7"/><path d="M150.78 590.43h4.51" stroke="#4488e7"/><path d="M155.04 590.43h4.51" stroke="#4387e7"/><path d="M159.3 590.43h4.51" stroke="#4991e5"/><path d="M163.56 590.43h4.51" stroke="#4c96e4"/><path d="M167.82 590.43h4.51" stroke="#4f9ae4"/><path d="M172.08 590.43h4.51" stroke="#66e8a5"/><path d="M176.34 590.43h4.51" stroke="#ff0000"/><path d="M74.1 594.69h4.51" stroke="#66eaa3"/><path d="M78.36 594.69h4.51" stroke="#66e9a4"/><path d="M82.62 594.69h4.51" stroke="#4d98e4"/><path d="M86.88 594.69h4.51" stroke="#4991e5"/><path d="M91.14 594.69h4.51" stroke="#478ee6"/><path d="M95.4 594.69h4.51" stroke="#4489e7"/><path d="M99.66 594.69h4.51" stroke="#4387e7"/><path d="M103.92 594.69h4.51" stroke="#4083e8"/><path d="M108.18 594.69h4.51" stroke="#3f82e8"/><path d="M112.44 594.69h4.51" stroke="#3e80e9"/><path d="M116.7 594.69h4.51" stroke="#3a7aea"/><path d="M120.96 594.69h4.51" stroke="#3a79ea"/><path d="M125.22 594.69h4.51" stroke="#3b7bea"/><path d="M129.48 594.69h4.51" stroke="#3a79ea"/><path d="M133.74 594.69h4.51" stroke="#3a7aea"/><path d="M138 594.69h4.51" stroke="#3c7de9"/><path d="M142.26 594.69h4.51" stroke="#3f81e9"/><path d="M146.52 594.69h4.51" stroke="#3f81e9"/><path d="M150.78 594.69h4.51" stroke="#4286e8"/><path d="M155.04 594.69h4.51" stroke="#4184e8"/><path d="M159.3 594.69h4.51" stroke="#468ce6"/><path d="M163.56 594.69h4.51" stroke="#4c95e5"/><path d="M167.82 594.69h4.51" stroke="#4c95e5"/><path d="M172.08 594.69h4.51" stroke="#4e99e4"/><path d="M176.34 594.69h4.51" stroke="#ff0000"/><path d="M74.1 598.95h4.51" stroke="#68ef9f"/><path d="M78.36 598.95h4.51" stroke="#68ef9f"/><path d="M82.62 598.95h4.51" stroke="#4d97e4"/><path d="M86.88 598.95h4.51" stroke="#4b94e5"/><path d="M91.14 598.95h4.51" stroke="#468ce6"/><path d="M95.4 598.95h4.51" stroke="#4083e8"/><path d="M99.66 598.95h4.51" stroke="#3d7ee9"/><path d="M103.92 598.95h4.51" stroke="#3a7aea"/><path d="M108.18 598.95h4.51" stroke="#3b7cea"/><path d="M112.44 598.95h4.51" stroke="#3b7aea"/><path d="M116.7 598.95h4.51" stroke="#3977eb"/><path d="M120.96 598.95h4.51" stroke="#3977eb"/><path d="M125.22 598.95h4.51" stroke="#3774eb"/><path d="M129.48 598.95h4.51" stroke="#3977eb"/><path d="M133.74 598.95h4.51" stroke="#3a7aea"/><path d="M138 598.95h4.51" stroke="#3a7aea"/><path d="M142.26 598.95h4.51" stroke="#3978ea"/><path d="M146.52 598.95h4.51" stroke="#3c7de9"/><path d="M150.78 598.95h4.51" stroke="#3f81e9"/><path d="M155.04 598.95h4.51" stroke="#4082e8"/><path d="M159.3 598.95h4.51" stroke="#468de6"/><path d="M163.56 598.95h4.51" stroke="#488fe6"/><path d="M167.82 598.95h4.51" stroke="#4d97e4"/><path d="M172.08 598.95h4.51" stroke="#00cc00"/><path d="M176.34 598.95h4.51" stroke="#ff0000"/><path d="M74.1 603.21h4.51" stroke="#00cc00"/><path d="M78.36 603.21h4.51" stroke="#66eaa4"/><path d="M82.62 603.21h4.51" stroke="#4d97e4"/><path d="M86.88 603.21h4.51" stroke="#4991e5"/><path d="M91.14 603.21h4.51" stroke="#448ae7"/><path d="M95.4 603.21h4.51" stroke="#3f81e9"/><path d="M99.66 603.21h4.51" stroke="#3c7de9"/><path d="M103.92 603.21h4.51" stroke="#3876eb"/><path d="M108.18 603.21h4.51" stroke="#3979ea"/><path d="M112.44 603.21h4.51" stroke="#3a79ea"/><path d="M116.7 603.21h4.51" stroke="#3673eb"/><path d="M120.96 603.21h4.51" stroke="#3775eb"/><path d="M125.22 603.21h4.51" stroke="#3774eb"/><path d="M129.48 603.21h4.51" stroke="#3774eb"/><path d="M133.74 603.21h4.51" stroke="#3876eb"/><path d="M138 603.21h4.51" stroke="#3a79ea"/><path d="M142.26 603.21h4.51" stroke="#3b7aea"/><path d="M146.52 603.21h4.51" stroke="#3b7bea"/><path d="M150.78 603.21h4.51" stroke="#3f81e9"/><path d="M155.04 603.21h4.51" stroke="#3f81e9"/><path d="M159.3 603.21h4.51" stroke="#458ae7"/><path d="M163.56 603.21h4.51" stroke="#488fe6"/><path d="M167.82 603.21h4.51" stroke="#4c96e4"/><path d="M172.08 603.21h4.51" stroke="#4f9ae4"/><path d="M176.34 603.21h4.51" stroke="#ff0000"/><path d="M78.36 607.47h4.51" stroke="#67eda1"/><path d="M82.62 607.47h4.51" stroke="#4a93e5"/><path d="M86.88 607.47h4.51" stroke="#478ee6"/><path d="M91.14 607.47h4.51" stroke="#448ae7"/><path d="M95.4 607.47h4.51" stroke="#4286e8"/><path d="M99.66 607.47h4.51" stroke="#3d7ee9"/><path d="M103.92 607.47h4.51" stroke="#3876eb"/><path d="M108.18 607.47h4.51" stroke="#3977eb"/><path d="M112.44 607.47h4.51" stroke="#3977eb"/><path d="M116.7 607.47h4.51" stroke="#3877eb"/><path d="M120.96 607.47h4.51" stroke="#3774eb"/><path d="M125.22 607.47h4.51" stroke="#3876eb"/><path d="M129.48 607.47h4.51" stroke="#3571ec"/><path d="M133.74 607.47h4.51" stroke="#3978ea"/><path d="M138 607.47h4.51" stroke="#3978ea"/><path d="M142.26 607.47h4.51" stroke="#3a79ea"/><path d="M146.52 607.47h4.51" stroke="#3d7ee9"/><path d="M150.78 607.47h4.51" stroke="#3f80e9"/><path d="M155.04 607.47h4.51" stroke="#3e7fe9"/><path d="M159.3 607.47h4.51" stroke="#458ae7"/><path d="M163.56 607.47h4.51" stroke="#488fe6"/><path d="M167.82 607.47h4.51" stroke="#4991e5"/><path d="M78.36 611.73h4.51" stroke="#64e4a8"/><path d="M82.62 611.73h4.51" stroke="#4991e5"/><path d="M86.88 611.73h4.51" stroke="#458be7"/><path d="M91.14 611.73h4.51" stroke="#458ae7"/><path d="M95.4 611.73h4.51" stroke="#3e80e9"/><path d="M99.66 611.73h4.51" stroke="#3d7ee9"/><path d="M103.92 611.73h4.51" stroke="#3979ea"/><path d="M108.18 611.73h4.51" stroke="#3775eb"/><path d="M112.44 611.73h4.51" stroke="#3775eb"/><path d="M116.7 611.73h4.51" stroke="#3673eb"/><path d="M120.96 611.73h4.51" stroke="#3470ec"/><path d="M125.22 611.73h4.51" stroke="#3876eb"/><path d="M129.48 611.73h4.51" stroke="#3571ec"/><path d="M133.74 611.73h4.51" stroke="#3571ec"/><path d="M138 611.73h4.51" stroke="#3876eb"/><path d="M142.26 611.73h4.51" stroke="#3b7bea"/><path d="M146.52 611.73h4.51" stroke="#3c7cea"/><path d="M150.78 611.73h4.51" stroke="#3e80e9"/><path d="M155.04 611.73h4.51" stroke="#3f82e8"/><path d="M159.3 611.73h4.51" stroke="#4488e7"/><path d="M163.56 611.73h4.51" stroke="#468ce6"/><path d="M167.82 611.73h4.51" stroke="#4991e5"/><path d="M180.6 611.73h4.51" stroke="#ff0000"/><path d="M78.36 615.99h4.51" stroke="#65e8a5"/><path d="M82.62 615.99h4.51" stroke="#468ce6"/><path d="M86.88 615.99h4.51" stroke="#4489e7"/><path d="M91.14 615.99h4.51" stroke="#4489e7"/><path d="M95.4 615.99h4.51" stroke="#3e7fe9"/><path d="M99.66 615.99h4.51" stroke="#3d7ee9"/><path d="M103.92 615.99h4.51" stroke="#3b7bea"/><path d="M108.18 615.99h4.51" stroke="#3876eb"/><path d="M112.44 615.99h4.51" stroke="#3775eb"/><path d="M116.7 615.99h4.51" stroke="#3674eb"/><path d="M120.96 615.99h4.51" stroke="#3674eb"/><path d="M125.22 615.99h4.51" stroke="#3470ec"/><path d="M129.48 615.99h4.51" stroke="#3571ec"/><path d="M133.74 615.99h4.51" stroke="#3674eb"/><path d="M138 615.99h4.51" stroke="#3876eb"/><path d="M142.26 615.99h4.51" stroke="#3977eb"/><path d="M146.52 615.99h4.51" stroke="#3978ea"/><path d="M150.78 615.99h4.51" stroke="#3d7ee9"/><path d="M155.04 615.99h4.51" stroke="#4185e8"/><path d="M159.3 615.99h4.51" stroke="#4286e8"/><path d="M163.56 615.99h4.51" stroke="#468ce6"/><path d="M167.82 615.99h4.51" stroke="#4990e6"/><path d="M172.08 615.99h4.51" stroke="#00cc00"/><path d="M180.6 615.99h4.51" stroke="#ff0000"/><path d="M78.36 620.25h4.51" stroke="#66e9a4"/><path d="M82.62 620.25h4.51" stroke="#4a92e5"/><path d="M86.88 620.25h4.51" stroke="#458ae7"/><path d="M91.14 620.25h4.51" stroke="#4388e7"/><path d="M95.4 620.25h4.51" stroke="#3f81e9"/><path d="M99.66 620.25h4.51" stroke="#3c7de9"/><path d="M103.92 620.25h4.51" stroke="#3c7cea"/><path d="M108.18 620.25h4.51" stroke="#3674eb"/><path d="M112.44 620.25h4.51" stroke="#3876eb"/><path d="M116.7 620.25h4.51" stroke="#3470ec"/><path d="M120.96 620.25h4.51" stroke="#3572ec"/><path d="M125.22 620.25h4.51" stroke="#3775eb"/><path d="M129.48 620.25h4.51" stroke="#3775eb"/><path d="M133.74 620.25h4.51" stroke="#3774eb"/><path d="M138 620.25h4.51" stroke="#3a79ea"/><path d="M142.26 620.25h4.51" stroke="#3877eb"/><path d="M146.52 620.25h4.51" stroke="#3c7de9"/><path d="M150.78 620.25h4.51" stroke="#3d7ee9"/><path d="M155.04 620.25h4.51" stroke="#4083e8"/><path d="M159.3 620.25h4.51" stroke="#458ae7"/><path d="M163.56 620.25h4.51" stroke="#478ee6"/><path d="M167.82 620.25h4.51" stroke="#4a92e5"/><path d="M172.08 620.25h4.51" stroke="#66eba2"/><path d="M180.6 620.25h4.51" stroke="#ff0000"/><path d="M78.36 624.51h4.51" stroke="#00cc00"/><path d="M82.62 624.51h4.51" stroke="#478de6"/><path d="M86.88 624.51h4.51" stroke="#458be7"/><path d="M91.14 624.51h4.51" stroke="#4185e8"/><path d="M95.4 624.51h4.51" stroke="#3e80e9"/><path d="M99.66 624.51h4.51" stroke="#3e80e9"/><path d="M103.92 624.51h4.51" stroke="#3876eb"/><path d="M108.18 624.51h4.51" stroke="#3a79ea"/><path d="M112.44 624.51h4.51" stroke="#3774eb"/><path d="M116.7 624.51h4.51" stroke="#3572ec"/><path d="M120.96 624.51h4.51" stroke="#3571ec"/><path d="M125.22 624.51h4.51" stroke="#3571ec"/><path d="M129.48 624.51h4.51" stroke="#3775eb"/><path d="M133.74 624.51h4.51" stroke="#3774eb"/><path d="M138 624.51h4.51" stroke="#3978ea"/><path d="M142.26 624.51h4.51" stroke="#3a7aea"/><path d="M146.52 624.51h4.51" stroke="#3f81e9"/><path d="M150.78 624.51h4.51" stroke="#4184e8"/><path d="M155.04 624.51h4.51" stroke="#4185e8"/><path d="M159.3 624.51h4.51" stroke="#458be7"/><path d="M163.56 624.51h4.51" stroke="#4991e5"/><path d="M167.82 624.51h4.51" stroke="#4991e5"/><path d="M172.08 624.51h4.51" stroke="#68ee9f"/><path d="M184.86 624.51h4.51" stroke="#ff0000"/><path d="M78.36 628.77h4.51" stroke="#00cc00"/><path d="M82.62 628.77h4.51" stroke="#478de6"/><path d="M86.88 628.77h4.51" stroke="#4489e7"/><path d="M91.14 628.77h4.51" stroke="#4388e7"/><path d="M95.4 628.77h4.51" stroke="#3f81e9"/><path d="M99.66 628.77h4.51" stroke="#3b7bea"/><path d="M103.92 628.77h4.51" stroke="#3b7bea"/><path d="M108.18 628.77h4.51" stroke="#3876eb"/><path d="M112.44 628.77h4.51" stroke="#3978ea"/><path d="M116.7 628.77h4.51" stroke="#3775eb"/><path d="M120.96 628.77h4.51" stroke="#3673eb"/><path d="M125.22 628.77h4.51" stroke="#3977eb"/><path d="M129.48 628.77h4.51" stroke="#3775eb"/><path d="M133.74 628.77h4.51" stroke="#3a7aea"/><path d="M138 628.77h4.51" stroke="#3c7de9"/><path d="M142.26 628.77h4.51" stroke="#3c7de9"/><path d="M146.52 628.77h4.51" stroke="#3f82e8"/><path d="M150.78 628.77h4.51" stroke="#4387e7"/><path d="M155.04 628.77h4.51" stroke="#4489e7"/><path d="M159.3 628.77h4.51" stroke="#478de6"/><path d="M163.56 628.77h4.51" stroke="#4a92e5"/><path d="M167.82 628.77h4.51" stroke="#4d97e4"/><path d="M172.08 628.77h4.51" stroke="#64e4a9"/><path d="M82.62 633.03h4.51" stroke="#4a93e5"/><path d="M86.88 633.03h4.51" stroke="#458ae7"/><path d="M91.14 633.03h4.51" stroke="#4387e7"/><path d="M95.4 633.03h4.51" stroke="#4083e8"/><path d="M99.66 633.03h4.51" stroke="#3b7cea"/><path d="M103.92 633.03h4.51" stroke="#3979ea"/><path d="M108.18 633.03h4.51" stroke="#3876eb"/><path d="M112.44 633.03h4.51" stroke="#3a7aea"/><path d="M116.7 633.03h4.51" stroke="#3774eb"/><path d="M120.96 633.03h4.51" stroke="#3775eb"/><path d="M125.22 633.03h4.51" stroke="#3a79ea"/><path d="M129.48 633.03h4.51" stroke="#3775eb"/><path d="M133.74 633.03h4.51" stroke="#3c7cea"/><path d="M138 633.03h4.51" stroke="#3979ea"/><path d="M142.26 633.03h4.51" stroke="#3b7bea"/><path d="M146.52 633.03h4.51" stroke="#3f81e9"/><path d="M150.78 633.03h4.51" stroke="#4185e8"/><path d="M155.04 633.03h4.51" stroke="#468de6"/><path d="M159.3 633.03h4.51" stroke="#4990e6"/><path d="M163.56 633.03h4.51" stroke="#4b93e5"/><path d="M82.62 637.29h4.51" stroke="#488fe6"/><path d="M86.88 637.29h4.51" stroke="#468ce6"/><path d="M91.14 637.29h4.51" stroke="#4285e8"/><path d="M95.4 637.29h4.51" stroke="#4185e8"/><path d="M99.66 637.29h4.51" stroke="#3c7de9"/><path d="M103.92 637.29h4.51" stroke="#3a79ea"/><path d="M108.18 637.29h4.51" stroke="#3b7bea"/><path d="M112.44 637.29h4.51" stroke="#3876eb"/><path d="M116.7 637.29h4.51" stroke="#3877eb"/><path d="M120.96 637.29h4.51" stroke="#3b7bea"/><path d="M125.22 637.29h4.51" stroke="#3877eb"/><path d="M129.48 637.29h4.51" stroke="#3978ea"/><path d="M133.74 637.29h4.51" stroke="#3a7aea"/><path d="M138 637.29h4.51" stroke="#3c7cea"/><path d="M142.26 637.29h4.51" stroke="#3f81e9"/><path d="M146.52 637.29h4.51" stroke="#4083e8"/><path d="M150.78 637.29h4.51" stroke="#4387e7"/><path d="M78.36 641.55h4.51" stroke="#67eca1"/><path d="M82.62 641.55h4.51" stroke="#478de6"/><path d="M86.88 641.55h4.51" stroke="#468de6"/><path d="M91.14 641.55h4.51" stroke="#4387e7"/><path d="M95.4 641.55h4.51" stroke="#4083e8"/><path d="M99.66 641.55h4.51" stroke="#3f82e8"/><path d="M103.92 641.55h4.51" stroke="#3b7bea"/><path d="M108.18 641.55h4.51" stroke="#3b7bea"/><path d="M112.44 641.55h4.51" stroke="#3e7fe9"/><path d="M116.7 641.55h4.51" stroke="#3c7cea"/><path d="M120.96 641.55h4.51" stroke="#3e7fe9"/><path d="M125.22 641.55h4.51" stroke="#3c7cea"/><path d="M129.48 641.55h4.51" stroke="#3e80e9"/><path d="M133.74 641.55h4.51" stroke="#4083e8"/><path d="M138 641.55h4.51" stroke="#3f82e8"/><path d="M142.26 641.55h4.51" stroke="#4387e7"/><path d="M74.1 645.81h4.51" stroke="#65e7a7"/><path d="M78.36 645.81h4.51" stroke="#4991e5"/><path d="M82.62 645.81h4.51" stroke="#4a93e5"/><path d="M86.88 645.81h4.51" stroke="#468ce6"/><path d="M91.14 645.81h4.51" stroke="#4489e7"/><path d="M95.4 645.81h4.51" stroke="#4286e8"/><path d="M99.66 645.81h4.51" stroke="#3f81e9"/><path d="M103.92 645.81h4.51" stroke="#4083e8"/><path d="M108.18 645.81h4.51" stroke="#3f81e9"/><path d="M112.44 645.81h4.51" stroke="#3f82e8"/><path d="M116.7 645.81h4.51" stroke="#3f82e8"/><path d="M120.96 645.81h4.51" stroke="#4286e8"/><path d="M125.22 645.81h4.51" stroke="#4387e7"/><path d="M129.48 645.81h4.51" stroke="#4387e7"/><path d="M74.1 650.07h4.51" stroke="#66e9a4"/><path d="M78.36 650.07h4.51" stroke="#4991e5"/><path d="M82.62 650.07h4.51" stroke="#488fe6"/><path d="M86.88 650.07h4.51" stroke="#4489e7"/><path d="M91.14 650.07h4.51" stroke="#4387e7"/><path d="M95.4 650.07h4.51" stroke="#458ae7"/><path d="M99.66 650.07h4.51" stroke="#3f82e8"/><path d="M103.92 650.07h4.51" stroke="#4286e8"/><path d="M108.18 650.07h4.51" stroke="#4285e8"/><path d="M112.44 650.07h4.51" stroke="#4388e7"/><path d="M116.7 650.07h4.51" stroke="#4083e8"/><path d="M120.96 650.07h4.51" stroke="#4286e8"/><path d="M74.1 654.33h4.51" stroke="#64e4a9"/><path d="M78.36 654.33h4.51" stroke="#478ee6"/><path d="M82.62 654.33h4.51" stroke="#468ce6"/><path d="M86.88 654.33h4.51" stroke="#468ce6"/><path d="M91.14 654.33h4.51" stroke="#4488e7"/><path d="M95.4 654.33h4.51" stroke="#4286e8"/><path d="M99.66 654.33h4.51" stroke="#4388e7"/><path d="M103.92 654.33h4.51" stroke="#4083e8"/><path d="M108.18 654.33h4.51" stroke="#458ae7"/><path d="M74.1 658.59h4.51" stroke="#65e6a7"/><path d="M78.36 658.59h4.51" stroke="#488fe6"/><path d="M82.62 658.59h4.51" stroke="#4a92e5"/><path d="M86.88 658.59h4.51" stroke="#468be7"/><path d="M91.14 658.59h4.51" stroke="#468ce6"/><path d="M95.4 658.59h4.51" stroke="#458be7"/><path d="M65.58 662.85h4.51" stroke="#ff0000"/><path d="M69.84 662.85h4.51" stroke="#00cc00"/><path d="M74.1 662.85h4.51" stroke="#67eea0"/><path d="M78.36 662.85h4.51" stroke="#4a92e5"/><path d="M82.62 662.85h4.51" stroke="#468ce6"/><path d="M86.88 662.85h4.51" stroke="#468be7"/><path d="M69.84 667.11h4.51" stroke="#00cc00"/><path d="M74.1 667.11h4.51" stroke="#46aaeb"/></g>
<polygon points="62.4,677.46 62.85,671.3 63.81,666.48 65.89,663.07 65.61,657.58 65.89,652.09 67.92,645.93 70.68,641.12 74.17,636.98 74.57,632.89 75.92,629.02 74.85,626.67 73.16,621.91 71.41,613.68 70,606.8 68.65,601.31 67.25,597.22 65.44,593.08 64.88,591.73 65.89,586.25 67.92,582.1 72.09,580.03 76.2,577.96 76.93,572.53 76.2,564.24 75.13,556.01 74.17,547.78 73.16,539.55 72.76,531.32 73.44,527.9 76.2,525.16 80.36,524.21 87.23,523.76 94.16,524.21 98.33,525.16 100.35,528.58 101.09,536.81 101.76,545.04 102.44,553.27 102.83,561.5 103.56,570.85 104.52,564.24 105.87,556.01 107.95,547.78 109.36,540.95 112.12,538.21 116.23,536.14 120.4,534.06 125.75,532.44 134.02,530.65 142.3,529.7 145.06,527.9 148.5,526.5 151.25,528.58 157.5,530.65 164.37,533.39 171.3,536.14 176.82,538.88 180.93,542.29 182.34,547.78 185.09,553.27 188.53,559.48 191.29,564.97 193.37,570.46 193.09,576.62 191.96,579.36 189.2,583.5 187.18,587.59 186.05,593.08 186.45,599.97 186.05,604.72 187.18,609.54 188.53,615.03 189.2,618.44 191.74,621.19 192.7,626.67" fill="none" stroke="#dc2468" stroke-width="1.25" stroke-linejoin="round"/>
<rect x="20.2" y="494.9" width="209.8" height="195.8" fill="none" stroke="#000" stroke-width="1.8"/>
<path d="M19.6 507.3H26.2M22.9 504V510.6M19.6 549.98H26.2M22.9 546.68V553.28M19.6 592.66H26.2M22.9 589.36V595.96M19.6 635.34H26.2M22.9 632.04V638.64M19.6 678.02H26.2M22.9 674.72V681.32M62.2 507.3H68.8M65.5 504V510.6M62.2 549.98H68.8M65.5 546.68V553.28M62.2 592.66H68.8M65.5 589.36V595.96M62.2 635.34H68.8M65.5 632.04V638.64M62.2 678.02H68.8M65.5 674.72V681.32M104.8 507.3H111.4M108.1 504V510.6M104.8 549.98H111.4M108.1 546.68V553.28M104.8 592.66H111.4M108.1 589.36V595.96M104.8 635.34H111.4M108.1 632.04V638.64M104.8 678.02H111.4M108.1 674.72V681.32M147.4 507.3H154M150.7 504V510.6M147.4 549.98H154M150.7 546.68V553.28M147.4 592.66H154M150.7 589.36V595.96M147.4 635.34H154M150.7 632.04V638.64M147.4 678.02H154M150.7 674.72V681.32M190 507.3H196.6M193.3 504V510.6M190 549.98H196.6M193.3 546.68V553.28M190 592.66H196.6M193.3 589.36V595.96M190 635.34H196.6M193.3 632.04V638.64M190 678.02H196.6M193.3 674.72V681.32" stroke="#2a2a2a" stroke-width="0.95" fill="none"/>
<text x="22.9" y="490.7" font-family='"Liberation Sans", sans-serif' font-size="6.9" text-anchor="middle" fill="#222">125<tspan font-size="5.6">00mE</tspan></text>
<text x="22.9" y="699.7" font-family='"Liberation Sans", sans-serif' font-size="6.9" text-anchor="middle" fill="#222">125<tspan font-size="5.6">00mE</tspan></text>
<text x="65.5" y="490.7" font-family='"Liberation Sans", sans-serif' font-size="6.9" text-anchor="middle" fill="#222">150</text>
<text x="65.5" y="699.7" font-family='"Liberation Sans", sans-serif' font-size="6.9" text-anchor="middle" fill="#222">150</text>
<text x="108.1" y="490.7" font-family='"Liberation Sans", sans-serif' font-size="6.9" text-anchor="middle" fill="#222">175</text>
<text x="108.1" y="699.7" font-family='"Liberation Sans", sans-serif' font-size="6.9" text-anchor="middle" fill="#222">175</text>
<text x="150.7" y="490.7" font-family='"Liberation Sans", sans-serif' font-size="6.9" text-anchor="middle" fill="#222">200</text>
<text x="150.7" y="699.7" font-family='"Liberation Sans", sans-serif' font-size="6.9" text-anchor="middle" fill="#222">200</text>
<text x="193.3" y="490.7" font-family='"Liberation Sans", sans-serif' font-size="6.9" text-anchor="middle" fill="#222">225<tspan font-size="5.6">00mE</tspan></text>
<text x="193.3" y="699.7" font-family='"Liberation Sans", sans-serif' font-size="6.9" text-anchor="middle" fill="#222">225<tspan font-size="5.6">00mE</tspan></text>
<text x="15.6" y="507.3" font-family='"Liberation Sans", sans-serif' font-size="6.9" text-anchor="middle" fill="#222" transform="rotate(-90 15.6 507.3)">450<tspan font-size="5.6">00mN</tspan></text>
<text x="234" y="507.3" font-family='"Liberation Sans", sans-serif' font-size="6.9" text-anchor="middle" fill="#222" transform="rotate(90 234 507.3)">450<tspan font-size="5.6">00mN</tspan></text>
<text x="9.6" y="552.38" font-family='"Liberation Sans", sans-serif' font-size="6.9" text-anchor="middle" fill="#222">425</text>
<text x="240.6" y="552.38" font-family='"Liberation Sans", sans-serif' font-size="6.9" text-anchor="middle" fill="#222">425</text>
<text x="9.6" y="595.06" font-family='"Liberation Sans", sans-serif' font-size="6.9" text-anchor="middle" fill="#222">400</text>
<text x="240.6" y="595.06" font-family='"Liberation Sans", sans-serif' font-size="6.9" text-anchor="middle" fill="#222">400</text>
<text x="9.6" y="637.74" font-family='"Liberation Sans", sans-serif' font-size="6.9" text-anchor="middle" fill="#222">375</text>
<text x="240.6" y="637.74" font-family='"Liberation Sans", sans-serif' font-size="6.9" text-anchor="middle" fill="#222">375</text>
<text x="15.6" y="678.02" font-family='"Liberation Sans", sans-serif' font-size="6.9" text-anchor="middle" fill="#222" transform="rotate(-90 15.6 678.02)">350<tspan font-size="5.6">00mN</tspan></text>
<text x="234" y="678.02" font-family='"Liberation Sans", sans-serif' font-size="6.9" text-anchor="middle" fill="#222" transform="rotate(90 234 678.02)">350<tspan font-size="5.6">00mN</tspan></text>
<path d="M39.5 499.2L47.1 511.8Q39.5 508.2 31.9 511.8Z" fill="#000"/>
<text transform="translate(39.55 524.05) scale(1.36 1)" font-family='"Liberation Sans", sans-serif' font-weight="bold" font-size="15.84" text-anchor="middle" fill="#000" stroke="#000" stroke-width="0.3">N</text>
<text x="136.6" y="662.7" font-family='"Liberation Sans", sans-serif' font-size="8.4" text-anchor="middle" fill="#222">2</text>
<text x="154" y="662.7" font-family='"Liberation Sans", sans-serif' font-size="8.4" text-anchor="middle" fill="#222">1</text>
<text x="171.4" y="662.7" font-family='"Liberation Sans", sans-serif' font-size="8.4" text-anchor="middle" fill="#222">0</text>
<text x="188.8" y="662.7" font-family='"Liberation Sans", sans-serif' font-size="8.4" text-anchor="middle" fill="#222">1</text>
<text x="206.2" y="662.7" font-family='"Liberation Sans", sans-serif' font-size="8.4" text-anchor="middle" fill="#222">2</text>
<path d="M136.6 665.4H206.2M136.6 664.2V666.4M154 664.2V666.4M171.4 664.2V666.4M188.8 664.2V666.4M206.2 664.2V666.4" stroke="#333" stroke-width="0.9" fill="none"/>
<text x="210.4" y="662.7" font-family='"Liberation Sans", sans-serif' font-size="8.4" fill="#222">Km</text>
<ellipse cx="76.3" cy="533.1" rx="5.7" ry="4.9" fill="#111"/>
<ellipse cx="173.1" cy="545.3" rx="5.7" ry="4.9" fill="#111"/>
</g>
<g transform="translate(0 251.6)">
<text x="120.3" y="464.4" font-family='"Liberation Serif", serif' font-size="17" text-anchor="middle" fill="#000" textLength="28" lengthAdjust="spacingAndGlyphs">FAI</text>
<text x="120.4" y="479.2" font-family='"Liberation Serif", serif' font-size="14.7" font-weight="bold" font-style="italic" text-anchor="middle" fill="#000" textLength="54.8" lengthAdjust="spacingAndGlyphs">03-08-05</text>
<g shape-rendering="crispEdges" stroke-width="4.56" fill="none"><path d="M86.88 526.53h4.51" stroke="#ff0000"/><path d="M91.14 526.53h4.51" stroke="#ff0000"/><path d="M91.14 530.79h4.51" stroke="#ff0000"/><path d="M142.26 530.79h4.51" stroke="#ff0000"/><path d="M146.52 530.79h4.51" stroke="#ff0000"/><path d="M82.62 535.05h4.51" stroke="#67eca1"/><path d="M86.88 535.05h4.51" stroke="#00cc00"/><path d="M91.14 535.05h4.51" stroke="#ff0000"/><path d="M138 535.05h4.51" stroke="#00cc00"/><path d="M146.52 535.05h4.51" stroke="#00cc00"/><path d="M159.3 535.05h4.51" stroke="#ff0000"/><path d="M82.62 539.31h4.51" stroke="#65e8a6"/><path d="M86.88 539.31h4.51" stroke="#66eaa3"/><path d="M91.14 539.31h4.51" stroke="#ff0000"/><path d="M112.44 539.31h4.51" stroke="#65e7a6"/><path d="M116.7 539.31h4.51" stroke="#008000"/><path d="M120.96 539.31h4.51" stroke="#56cdc3"/><path d="M125.22 539.31h4.51" stroke="#4daed4"/><path d="M129.48 539.31h4.51" stroke="#53c5c9"/><path d="M133.74 539.31h4.51" stroke="#5fdfb1"/><path d="M138 539.31h4.51" stroke="#61e3ad"/><path d="M142.26 539.31h4.51" stroke="#62e5ab"/><path d="M146.52 539.31h4.51" stroke="#65eba5"/><path d="M150.78 539.31h4.51" stroke="#67efa1"/><path d="M155.04 539.31h4.51" stroke="#65eba5"/><path d="M159.3 539.31h4.51" stroke="#00cc00"/><path d="M167.82 539.31h4.51" stroke="#ff0000"/><path d="M82.62 543.57h4.51" stroke="#66eba2"/><path d="M86.88 543.57h4.51" stroke="#68f09e"/><path d="M95.4 543.57h4.51" stroke="#ff0000"/><path d="M112.44 543.57h4.51" stroke="#64e3aa"/><path d="M116.7 543.57h4.51" stroke="#50b8cf"/><path d="M120.96 543.57h4.51" stroke="#53c3ca"/><path d="M125.22 543.57h4.51" stroke="#58d0c0"/><path d="M129.48 543.57h4.51" stroke="#5bd7b9"/><path d="M133.74 543.57h4.51" stroke="#62e4ac"/><path d="M138 543.57h4.51" stroke="#5ddab6"/><path d="M142.26 543.57h4.51" stroke="#61e3ad"/><path d="M146.52 543.57h4.51" stroke="#65eda3"/><path d="M150.78 543.57h4.51" stroke="#2fdc48"/><path d="M155.04 543.57h4.51" stroke="#68f29e"/><path d="M159.3 543.57h4.51" stroke="#68f29e"/><path d="M163.56 543.57h4.51" stroke="#00cc00"/><path d="M74.1 547.83h4.51" stroke="#ff0000"/><path d="M82.62 547.83h4.51" stroke="#63e1ac"/><path d="M86.88 547.83h4.51" stroke="#00cc00"/><path d="M112.44 547.83h4.51" stroke="#65e6a7"/><path d="M116.7 547.83h4.51" stroke="#4eb1d3"/><path d="M120.96 547.83h4.51" stroke="#55cac6"/><path d="M125.22 547.83h4.51" stroke="#56cdc3"/><path d="M129.48 547.83h4.51" stroke="#58d1bf"/><path d="M133.74 547.83h4.51" stroke="#61e4ac"/><path d="M138 547.83h4.51" stroke="#60e1af"/><path d="M142.26 547.83h4.51" stroke="#68f29e"/><path d="M146.52 547.83h4.51" stroke="#68f29e"/><path d="M150.78 547.83h4.51" stroke="#67f19f"/><path d="M155.04 547.83h4.51" stroke="#1cd62b"/><path d="M159.3 547.83h4.51" stroke="#09cf0d"/><path d="M163.56 547.83h4.51" stroke="#00cc00"/><path d="M176.34 547.83h4.51" stroke="#ff0000"/><path d="M74.1 552.09h4.51" stroke="#ff0000"/><path d="M82.62 552.09h4.51" stroke="#63e1ac"/><path d="M86.88 552.09h4.51" stroke="#00cc00"/><path d="M108.18 552.09h4.51" stroke="#65e8a5"/><path d="M112.44 552.09h4.51" stroke="#5edcb4"/><path d="M116.7 552.09h4.51" stroke="#50b8cf"/><path d="M120.96 552.09h4.51" stroke="#50b7d0"/><path d="M125.22 552.09h4.51" stroke="#58d0c0"/><path d="M129.48 552.09h4.51" stroke="#63e7a9"/><path d="M133.74 552.09h4.51" stroke="#67f0a0"/><path d="M138 552.09h4.51" stroke="#68f29e"/><path d="M142.26 552.09h4.51" stroke="#67f19f"/><path d="M146.52 552.09h4.51" stroke="#68f29e"/><path d="M150.78 552.09h4.51" stroke="#68f29e"/><path d="M155.04 552.09h4.51" stroke="#68f29e"/><path d="M159.3 552.09h4.51" stroke="#68f29e"/><path d="M163.56 552.09h4.51" stroke="#68f29e"/><path d="M167.82 552.09h4.51" stroke="#00cc00"/><path d="M176.34 552.09h4.51" stroke="#ff0000"/><path d="M74.1 556.35h4.51" stroke="#ff0000"/><path d="M82.62 556.35h4.51" stroke="#65e8a5"/><path d="M86.88 556.35h4.51" stroke="#65e7a6"/><path d="M108.18 556.35h4.51" stroke="#68f09e"/><path d="M112.44 556.35h4.51" stroke="#5cd8b8"/><path d="M116.7 556.35h4.51" stroke="#54c7c8"/><path d="M120.96 556.35h4.51" stroke="#62e6aa"/><path d="M125.22 556.35h4.51" stroke="#5fdeb2"/><path d="M129.48 556.35h4.51" stroke="#63e8a8"/><path d="M133.74 556.35h4.51" stroke="#68f29e"/><path d="M138 556.35h4.51" stroke="#68f29e"/><path d="M142.26 556.35h4.51" stroke="#68f29e"/><path d="M146.52 556.35h4.51" stroke="#68f29e"/><path d="M150.78 556.35h4.51" stroke="#68f29e"/><path d="M155.04 556.35h4.51" stroke="#68f29e"/><path d="M159.3 556.35h4.51" stroke="#68f29e"/><path d="M163.56 556.35h4.51" stroke="#68f29e"/><path d="M167.82 556.35h4.51" stroke="#68f29e"/><path d="M172.08 556.35h4.51" stroke="#00cc00"/><path d="M176.34 556.35h4.51" stroke="#ff0000"/><path d="M82.62 560.61h4.51" stroke="#57cec2"/><path d="M86.88 560.61h4.51" stroke="#00cc00"/><path d="M108.18 560.61h4.51" stroke="#64e4a9"/><path d="M112.44 560.61h4.51" stroke="#5edcb4"/><path d="M116.7 560.61h4.51" stroke="#5ddbb5"/><path d="M120.96 560.61h4.51" stroke="#5ad5bb"/><path d="M125.22 560.61h4.51" stroke="#60e1af"/><path d="M129.48 560.61h4.51" stroke="#64eaa6"/><path d="M133.74 560.61h4.51" stroke="#65eca4"/><path d="M138 560.61h4.51" stroke="#68f29e"/><path d="M142.26 560.61h4.51" stroke="#68f29e"/><path d="M146.52 560.61h4.51" stroke="#68f29e"/><path d="M150.78 560.61h4.51" stroke="#68f29e"/><path d="M155.04 560.61h4.51" stroke="#68f29e"/><path d="M159.3 560.61h4.51" stroke="#68f29e"/><path d="M163.56 560.61h4.51" stroke="#68f29e"/><path d="M167.82 560.61h4.51" stroke="#0fd117"/><path d="M172.08 560.61h4.51" stroke="#2adb40"/><path d="M180.6 560.61h4.51" stroke="#ff0000"/><path d="M78.36 564.87h4.51" stroke="#ff0000"/><path d="M82.62 564.87h4.51" stroke="#53c4ca"/><path d="M86.88 564.87h4.51" stroke="#67eea0"/><path d="M108.18 564.87h4.51" stroke="#68f09e"/><path d="M112.44 564.87h4.51" stroke="#68f29e"/><path d="M116.7 564.87h4.51" stroke="#68f19f"/><path d="M120.96 564.87h4.51" stroke="#68f29e"/><path d="M125.22 564.87h4.51" stroke="#63e8a8"/><path d="M129.48 564.87h4.51" stroke="#68f29e"/><path d="M133.74 564.87h4.51" stroke="#68f29e"/><path d="M138 564.87h4.51" stroke="#68f29e"/><path d="M142.26 564.87h4.51" stroke="#68f29e"/><path d="M146.52 564.87h4.51" stroke="#68f29e"/><path d="M150.78 564.87h4.51" stroke="#68f29e"/><path d="M155.04 564.87h4.51" stroke="#68f29e"/><path d="M159.3 564.87h4.51" stroke="#68f29e"/><path d="M163.56 564.87h4.51" stroke="#68f29e"/><path d="M167.82 564.87h4.51" stroke="#68f29e"/><path d="M172.08 564.87h4.51" stroke="#68f29e"/><path d="M176.34 564.87h4.51" stroke="#00cc00"/><path d="M180.6 564.87h4.51" stroke="#ff0000"/><path d="M78.36 569.13h4.51" stroke="#ff0000"/><path d="M82.62 569.13h4.51" stroke="#51bdcd"/><path d="M86.88 569.13h4.51" stroke="#58cfc1"/><path d="M91.14 569.13h4.51" stroke="#00cc00"/><path d="M103.92 569.13h4.51" stroke="#66eba3"/><path d="M108.18 569.13h4.51" stroke="#62e5ab"/><path d="M112.44 569.13h4.51" stroke="#63e8a8"/><path d="M116.7 569.13h4.51" stroke="#62e4ac"/><path d="M120.96 569.13h4.51" stroke="#64eaa6"/><path d="M125.22 569.13h4.51" stroke="#63e7a9"/><path d="M129.48 569.13h4.51" stroke="#68f29e"/><path d="M133.74 569.13h4.51" stroke="#68f29e"/><path d="M138 569.13h4.51" stroke="#68f29e"/><path d="M142.26 569.13h4.51" stroke="#67f19f"/><path d="M146.52 569.13h4.51" stroke="#68f29e"/><path d="M150.78 569.13h4.51" stroke="#68f29e"/><path d="M155.04 569.13h4.51" stroke="#68f29e"/><path d="M159.3 569.13h4.51" stroke="#67f0a0"/><path d="M163.56 569.13h4.51" stroke="#68f29e"/><path d="M167.82 569.13h4.51" stroke="#68f29e"/><path d="M172.08 569.13h4.51" stroke="#66eea2"/><path d="M184.86 569.13h4.51" stroke="#ff0000"/><path d="M78.36 573.39h4.51" stroke="#ff0000"/><path d="M82.62 573.39h4.51" stroke="#4eb2d2"/><path d="M86.88 573.39h4.51" stroke="#50bacf"/><path d="M91.14 573.39h4.51" stroke="#65e7a6"/><path d="M95.4 573.39h4.51" stroke="#66eaa3"/><path d="M99.66 573.39h4.51" stroke="#67eda1"/><path d="M103.92 573.39h4.51" stroke="#5edeb2"/><path d="M108.18 573.39h4.51" stroke="#60e2ae"/><path d="M112.44 573.39h4.51" stroke="#66eea2"/><path d="M116.7 573.39h4.51" stroke="#5bd8b8"/><path d="M120.96 573.39h4.51" stroke="#61e3ad"/><path d="M125.22 573.39h4.51" stroke="#61e3ad"/><path d="M129.48 573.39h4.51" stroke="#66eda3"/><path d="M133.74 573.39h4.51" stroke="#65eda3"/><path d="M138 573.39h4.51" stroke="#68f29e"/><path d="M142.26 573.39h4.51" stroke="#68f29e"/><path d="M146.52 573.39h4.51" stroke="#67f19f"/><path d="M150.78 573.39h4.51" stroke="#68f29e"/><path d="M155.04 573.39h4.51" stroke="#68f29e"/><path d="M159.3 573.39h4.51" stroke="#68f29e"/><path d="M163.56 573.39h4.51" stroke="#68f29e"/><path d="M167.82 573.39h4.51" stroke="#68f29e"/><path d="M172.08 573.39h4.51" stroke="#68f29e"/><path d="M184.86 573.39h4.51" stroke="#ff0000"/><path d="M82.62 577.65h4.51" stroke="#52c0cc"/><path d="M86.88 577.65h4.51" stroke="#51becd"/><path d="M91.14 577.65h4.51" stroke="#57cec2"/><path d="M95.4 577.65h4.51" stroke="#59d3bd"/><path d="M99.66 577.65h4.51" stroke="#5bd7b9"/><path d="M103.92 577.65h4.51" stroke="#5edcb4"/><path d="M108.18 577.65h4.51" stroke="#5cd8b8"/><path d="M112.44 577.65h4.51" stroke="#57cec2"/><path d="M116.7 577.65h4.51" stroke="#5bd7b9"/><path d="M120.96 577.65h4.51" stroke="#57cdc3"/><path d="M125.22 577.65h4.51" stroke="#5bd6ba"/><path d="M129.48 577.65h4.51" stroke="#63e8a8"/><path d="M133.74 577.65h4.51" stroke="#5fdeb2"/><path d="M138 577.65h4.51" stroke="#61e3ad"/><path d="M142.26 577.65h4.51" stroke="#62e6aa"/><path d="M146.52 577.65h4.51" stroke="#68f29e"/><path d="M150.78 577.65h4.51" stroke="#66eda3"/><path d="M155.04 577.65h4.51" stroke="#65eba5"/><path d="M159.3 577.65h4.51" stroke="#68f29e"/><path d="M163.56 577.65h4.51" stroke="#65eca4"/><path d="M167.82 577.65h4.51" stroke="#68f29e"/><path d="M172.08 577.65h4.51" stroke="#68f29e"/><path d="M78.36 581.91h4.51" stroke="#64e3aa"/><path d="M82.62 581.91h4.51" stroke="#52c0cc"/><path d="M86.88 581.91h4.51" stroke="#4fb5d1"/><path d="M91.14 581.91h4.51" stroke="#53c5c9"/><path d="M95.4 581.91h4.51" stroke="#4fb3d2"/><path d="M99.66 581.91h4.51" stroke="#58d0c0"/><path d="M103.92 581.91h4.51" stroke="#57cdc3"/><path d="M108.18 581.91h4.51" stroke="#58d1bf"/><path d="M112.44 581.91h4.51" stroke="#52c2cb"/><path d="M116.7 581.91h4.51" stroke="#59d2be"/><path d="M120.96 581.91h4.51" stroke="#5cd8b8"/><path d="M125.22 581.91h4.51" stroke="#56ccc4"/><path d="M129.48 581.91h4.51" stroke="#5bd7b9"/><path d="M133.74 581.91h4.51" stroke="#60e2ae"/><path d="M138 581.91h4.51" stroke="#65eca4"/><path d="M142.26 581.91h4.51" stroke="#61e4ac"/><path d="M146.52 581.91h4.51" stroke="#62e6aa"/><path d="M150.78 581.91h4.51" stroke="#65eba5"/><path d="M155.04 581.91h4.51" stroke="#68f29e"/><path d="M159.3 581.91h4.51" stroke="#68f29e"/><path d="M163.56 581.91h4.51" stroke="#67f0a0"/><path d="M167.82 581.91h4.51" stroke="#67efa1"/><path d="M172.08 581.91h4.51" stroke="#67f0a0"/><path d="M176.34 581.91h4.51" stroke="#00cc00"/><path d="M180.6 581.91h4.51" stroke="#ff0000"/><path d="M74.1 586.17h4.51" stroke="#66eba3"/><path d="M78.36 586.17h4.51" stroke="#66eaa4"/><path d="M82.62 586.17h4.51" stroke="#499fdb"/><path d="M86.88 586.17h4.51" stroke="#4dacd5"/><path d="M91.14 586.17h4.51" stroke="#53c3cb"/><path d="M95.4 586.17h4.51" stroke="#4fb6d1"/><path d="M99.66 586.17h4.51" stroke="#54c7c8"/><path d="M103.92 586.17h4.51" stroke="#4fb6d0"/><path d="M108.18 586.17h4.51" stroke="#54c8c8"/><path d="M112.44 586.17h4.51" stroke="#55cac6"/><path d="M116.7 586.17h4.51" stroke="#54c8c8"/><path d="M120.96 586.17h4.51" stroke="#54c7c8"/><path d="M125.22 586.17h4.51" stroke="#56cdc3"/><path d="M129.48 586.17h4.51" stroke="#5bd6ba"/><path d="M133.74 586.17h4.51" stroke="#60e1af"/><path d="M138 586.17h4.51" stroke="#5bd7b9"/><path d="M142.26 586.17h4.51" stroke="#5ddbb5"/><path d="M146.52 586.17h4.51" stroke="#66eea2"/><path d="M150.78 586.17h4.51" stroke="#68f29e"/><path d="M155.04 586.17h4.51" stroke="#67f0a0"/><path d="M159.3 586.17h4.51" stroke="#66efa1"/><path d="M163.56 586.17h4.51" stroke="#68f29e"/><path d="M167.82 586.17h4.51" stroke="#64eaa6"/><path d="M172.08 586.17h4.51" stroke="#00cc00"/><path d="M180.6 586.17h4.51" stroke="#ff0000"/><path d="M74.1 590.43h4.51" stroke="#67eca2"/><path d="M78.36 590.43h4.51" stroke="#67eda1"/><path d="M82.62 590.43h4.51" stroke="#4dacd5"/><path d="M86.88 590.43h4.51" stroke="#49a0db"/><path d="M91.14 590.43h4.51" stroke="#4aa2da"/><path d="M95.4 590.43h4.51" stroke="#4fb6d0"/><path d="M99.66 590.43h4.51" stroke="#53c3ca"/><path d="M103.92 590.43h4.51" stroke="#4dafd4"/><path d="M108.18 590.43h4.51" stroke="#51bdcd"/><path d="M112.44 590.43h4.51" stroke="#4eb3d2"/><path d="M116.7 590.43h4.51" stroke="#52c2cb"/><path d="M120.96 590.43h4.51" stroke="#51becd"/><path d="M125.22 590.43h4.51" stroke="#51bccd"/><path d="M129.48 590.43h4.51" stroke="#53c4ca"/><path d="M133.74 590.43h4.51" stroke="#54c7c8"/><path d="M138 590.43h4.51" stroke="#5bd7b9"/><path d="M142.26 590.43h4.51" stroke="#5ddbb5"/><path d="M146.52 590.43h4.51" stroke="#5eddb3"/><path d="M150.78 590.43h4.51" stroke="#63e7a9"/><path d="M155.04 590.43h4.51" stroke="#64e9a7"/><path d="M159.3 590.43h4.51" stroke="#68f29e"/><path d="M163.56 590.43h4.51" stroke="#63e7a9"/><path d="M167.82 590.43h4.51" stroke="#68f29e"/><path d="M172.08 590.43h4.51" stroke="#66e9a5"/><path d="M176.34 590.43h4.51" stroke="#ff0000"/><path d="M74.1 594.69h4.51" stroke="#65e7a6"/><path d="M78.36 594.69h4.51" stroke="#66e9a5"/><path d="M82.62 594.69h4.51" stroke="#4eb0d3"/><path d="M86.88 594.69h4.51" stroke="#4dacd5"/><path d="M91.14 594.69h4.51" stroke="#4ba6d8"/><path d="M95.4 594.69h4.51" stroke="#4ba6d8"/><path d="M99.66 594.69h4.51" stroke="#4eb0d3"/><path d="M103.92 594.69h4.51" stroke="#4fb6d0"/><path d="M108.18 594.69h4.51" stroke="#4ba7d8"/><path d="M112.44 594.69h4.51" stroke="#4eb2d2"/><path d="M116.7 594.69h4.51" stroke="#50bacf"/><path d="M120.96 594.69h4.51" stroke="#4daed4"/><path d="M125.22 594.69h4.51" stroke="#4dafd4"/><path d="M129.48 594.69h4.51" stroke="#50b9cf"/><path d="M133.74 594.69h4.51" stroke="#57cfc1"/><path d="M138 594.69h4.51" stroke="#5ad4bc"/><path d="M142.26 594.69h4.51" stroke="#60e2ae"/><path d="M146.52 594.69h4.51" stroke="#63e7a9"/><path d="M150.78 594.69h4.51" stroke="#60e1af"/><path d="M155.04 594.69h4.51" stroke="#61e4ac"/><path d="M159.3 594.69h4.51" stroke="#62e6aa"/><path d="M163.56 594.69h4.51" stroke="#62e5ab"/><path d="M167.82 594.69h4.51" stroke="#68f19f"/><path d="M172.08 594.69h4.51" stroke="#68f29e"/><path d="M176.34 594.69h4.51" stroke="#ff0000"/><path d="M74.1 598.95h4.51" stroke="#64e2ab"/><path d="M78.36 598.95h4.51" stroke="#67eca2"/><path d="M82.62 598.95h4.51" stroke="#4dadd5"/><path d="M86.88 598.95h4.51" stroke="#4695e0"/><path d="M91.14 598.95h4.51" stroke="#4899de"/><path d="M95.4 598.95h4.51" stroke="#4ba5d9"/><path d="M99.66 598.95h4.51" stroke="#4590e2"/><path d="M103.92 598.95h4.51" stroke="#4590e2"/><path d="M108.18 598.95h4.51" stroke="#4caad6"/><path d="M112.44 598.95h4.51" stroke="#4797df"/><path d="M116.7 598.95h4.51" stroke="#4899de"/><path d="M120.96 598.95h4.51" stroke="#4ba6d8"/><path d="M125.22 598.95h4.51" stroke="#4eb3d2"/><path d="M129.48 598.95h4.51" stroke="#4ba5d8"/><path d="M133.74 598.95h4.51" stroke="#50bacf"/><path d="M138 598.95h4.51" stroke="#54c9c7"/><path d="M142.26 598.95h4.51" stroke="#59d2be"/><path d="M146.52 598.95h4.51" stroke="#5ad4bc"/><path d="M150.78 598.95h4.51" stroke="#62e5ab"/><path d="M155.04 598.95h4.51" stroke="#68f19f"/><path d="M159.3 598.95h4.51" stroke="#63e6aa"/><path d="M163.56 598.95h4.51" stroke="#65eba5"/><path d="M167.82 598.95h4.51" stroke="#61e3ad"/><path d="M172.08 598.95h4.51" stroke="#00cc00"/><path d="M176.34 598.95h4.51" stroke="#ff0000"/><path d="M74.1 603.21h4.51" stroke="#00cc00"/><path d="M78.36 603.21h4.51" stroke="#67eca2"/><path d="M82.62 603.21h4.51" stroke="#4aa2da"/><path d="M86.88 603.21h4.51" stroke="#4389e6"/><path d="M91.14 603.21h4.51" stroke="#4aa4d9"/><path d="M95.4 603.21h4.51" stroke="#4ba5d9"/><path d="M99.66 603.21h4.51" stroke="#4389e6"/><path d="M103.92 603.21h4.51" stroke="#4ba6d8"/><path d="M108.18 603.21h4.51" stroke="#4693e1"/><path d="M112.44 603.21h4.51" stroke="#4aa1db"/><path d="M116.7 603.21h4.51" stroke="#49a0db"/><path d="M120.96 603.21h4.51" stroke="#4695e0"/><path d="M125.22 603.21h4.51" stroke="#4cabd6"/><path d="M129.48 603.21h4.51" stroke="#4fb4d2"/><path d="M133.74 603.21h4.51" stroke="#52c2cb"/><path d="M138 603.21h4.51" stroke="#51bbce"/><path d="M142.26 603.21h4.51" stroke="#59d3bd"/><path d="M146.52 603.21h4.51" stroke="#5fe0b0"/><path d="M150.78 603.21h4.51" stroke="#61e3ad"/><path d="M155.04 603.21h4.51" stroke="#62e5ab"/><path d="M159.3 603.21h4.51" stroke="#5edeb2"/><path d="M163.56 603.21h4.51" stroke="#63e8a8"/><path d="M167.82 603.21h4.51" stroke="#63e6aa"/><path d="M172.08 603.21h4.51" stroke="#67efa1"/><path d="M176.34 603.21h4.51" stroke="#ff0000"/><path d="M78.36 607.47h4.51" stroke="#65e5a7"/><path d="M82.62 607.47h4.51" stroke="#489add"/><path d="M86.88 607.47h4.51" stroke="#4387e7"/><path d="M91.14 607.47h4.51" stroke="#4798df"/><path d="M95.4 607.47h4.51" stroke="#4798df"/><path d="M99.66 607.47h4.51" stroke="#4389e5"/><path d="M103.92 607.47h4.51" stroke="#4aa2da"/><path d="M108.18 607.47h4.51" stroke="#489ade"/><path d="M112.44 607.47h4.51" stroke="#4388e6"/><path d="M116.7 607.47h4.51" stroke="#4aa4d9"/><path d="M120.96 607.47h4.51" stroke="#448de4"/><path d="M125.22 607.47h4.51" stroke="#489cdd"/><path d="M129.48 607.47h4.51" stroke="#4eb2d2"/><path d="M133.74 607.47h4.51" stroke="#4fb6d0"/><path d="M138 607.47h4.51" stroke="#52c0cc"/><path d="M142.26 607.47h4.51" stroke="#56cdc3"/><path d="M146.52 607.47h4.51" stroke="#59d1bf"/><path d="M150.78 607.47h4.51" stroke="#5bd7b9"/><path d="M155.04 607.47h4.51" stroke="#5cd9b7"/><path d="M159.3 607.47h4.51" stroke="#5cdab6"/><path d="M163.56 607.47h4.51" stroke="#64eaa6"/><path d="M167.82 607.47h4.51" stroke="#66eda3"/><path d="M78.36 611.73h4.51" stroke="#65e8a6"/><path d="M82.62 611.73h4.51" stroke="#489cdd"/><path d="M86.88 611.73h4.51" stroke="#4388e6"/><path d="M91.14 611.73h4.51" stroke="#4387e7"/><path d="M95.4 611.73h4.51" stroke="#448ce4"/><path d="M99.66 611.73h4.51" stroke="#499edc"/><path d="M103.92 611.73h4.51" stroke="#4284e8"/><path d="M108.18 611.73h4.51" stroke="#4693e1"/><path d="M112.44 611.73h4.51" stroke="#448ae5"/><path d="M116.7 611.73h4.51" stroke="#489cdd"/><path d="M120.96 611.73h4.51" stroke="#4691e2"/><path d="M125.22 611.73h4.51" stroke="#4799de"/><path d="M129.48 611.73h4.51" stroke="#4aa3d9"/><path d="M133.74 611.73h4.51" stroke="#4eb0d3"/><path d="M138 611.73h4.51" stroke="#52c2cb"/><path d="M142.26 611.73h4.51" stroke="#52c1cb"/><path d="M146.52 611.73h4.51" stroke="#5bd6ba"/><path d="M150.78 611.73h4.51" stroke="#57cec2"/><path d="M155.04 611.73h4.51" stroke="#5bd7b9"/><path d="M159.3 611.73h4.51" stroke="#5bd7b9"/><path d="M163.56 611.73h4.51" stroke="#5ddab6"/><path d="M167.82 611.73h4.51" stroke="#65eca4"/><path d="M180.6 611.73h4.51" stroke="#ff0000"/><path d="M78.36 615.99h4.51" stroke="#64e5a8"/><path d="M82.62 615.99h4.51" stroke="#4285e8"/><path d="M86.88 615.99h4.51" stroke="#4284e8"/><path d="M91.14 615.99h4.51" stroke="#4388e6"/><path d="M95.4 615.99h4.51" stroke="#4795e0"/><path d="M99.66 615.99h4.51" stroke="#489ade"/><path d="M103.92 615.99h4.51" stroke="#4799de"/><path d="M108.18 615.99h4.51" stroke="#4693e1"/><path d="M112.44 615.99h4.51" stroke="#4284e8"/><path d="M116.7 615.99h4.51" stroke="#448de4"/><path d="M120.96 615.99h4.51" stroke="#4389e6"/><path d="M125.22 615.99h4.51" stroke="#489cdd"/><path d="M129.48 615.99h4.51" stroke="#4ba5d8"/><path d="M133.74 615.99h4.51" stroke="#49a0db"/><path d="M138 615.99h4.51" stroke="#4cabd5"/><path d="M142.26 615.99h4.51" stroke="#55c9c7"/><path d="M146.52 615.99h4.51" stroke="#51bcce"/><path d="M150.78 615.99h4.51" stroke="#5cd9b7"/><path d="M155.04 615.99h4.51" stroke="#60e0b0"/><path d="M159.3 615.99h4.51" stroke="#62e6aa"/><path d="M163.56 615.99h4.51" stroke="#5edeb2"/><path d="M167.82 615.99h4.51" stroke="#62e5ab"/><path d="M172.08 615.99h4.51" stroke="#00cc00"/><path d="M180.6 615.99h4.51" stroke="#ff0000"/><path d="M78.36 620.25h4.51" stroke="#65e7a6"/><path d="M82.62 620.25h4.51" stroke="#4692e1"/><path d="M86.88 620.25h4.51" stroke="#4797df"/><path d="M91.14 620.25h4.51" stroke="#4590e2"/><path d="M95.4 620.25h4.51" stroke="#4285e7"/><path d="M99.66 620.25h4.51" stroke="#489bdd"/><path d="M103.92 620.25h4.51" stroke="#4590e2"/><path d="M108.18 620.25h4.51" stroke="#4694e0"/><path d="M112.44 620.25h4.51" stroke="#4899de"/><path d="M116.7 620.25h4.51" stroke="#4284e8"/><path d="M120.96 620.25h4.51" stroke="#499fdb"/><path d="M125.22 620.25h4.51" stroke="#4aa2da"/><path d="M129.48 620.25h4.51" stroke="#4aa3d9"/><path d="M133.74 620.25h4.51" stroke="#4cabd6"/><path d="M138 620.25h4.51" stroke="#4eb2d2"/><path d="M142.26 620.25h4.51" stroke="#4fb4d1"/><path d="M146.52 620.25h4.51" stroke="#55cac6"/><path d="M150.78 620.25h4.51" stroke="#53c6c9"/><path d="M155.04 620.25h4.51" stroke="#5bd6ba"/><path d="M159.3 620.25h4.51" stroke="#5eddb3"/><path d="M163.56 620.25h4.51" stroke="#5eddb3"/><path d="M167.82 620.25h4.51" stroke="#61e4ac"/><path d="M172.08 620.25h4.51" stroke="#63e1ab"/><path d="M180.6 620.25h4.51" stroke="#ff0000"/><path d="M78.36 624.51h4.51" stroke="#00cc00"/><path d="M82.62 624.51h4.51" stroke="#489bdd"/><path d="M86.88 624.51h4.51" stroke="#4284e8"/><path d="M91.14 624.51h4.51" stroke="#4694e0"/><path d="M95.4 624.51h4.51" stroke="#4692e2"/><path d="M99.66 624.51h4.51" stroke="#4284e8"/><path d="M103.92 624.51h4.51" stroke="#458fe3"/><path d="M108.18 624.51h4.51" stroke="#448ce4"/><path d="M112.44 624.51h4.51" stroke="#4388e6"/><path d="M116.7 624.51h4.51" stroke="#489ade"/><path d="M120.96 624.51h4.51" stroke="#4cabd5"/><path d="M125.22 624.51h4.51" stroke="#499ddc"/><path d="M129.48 624.51h4.51" stroke="#4fb6d1"/><path d="M133.74 624.51h4.51" stroke="#4fb6d0"/><path d="M138 624.51h4.51" stroke="#4cabd6"/><path d="M142.26 624.51h4.51" stroke="#56ccc4"/><path d="M146.52 624.51h4.51" stroke="#56cdc3"/><path d="M150.78 624.51h4.51" stroke="#5cdab6"/><path d="M155.04 624.51h4.51" stroke="#5ddab6"/><path d="M159.3 624.51h4.51" stroke="#5fdfb1"/><path d="M163.56 624.51h4.51" stroke="#5ddab6"/><path d="M167.82 624.51h4.51" stroke="#63e8a8"/><path d="M172.08 624.51h4.51" stroke="#63e2ab"/><path d="M184.86 624.51h4.51" stroke="#ff0000"/><path d="M78.36 628.77h4.51" stroke="#00cc00"/><path d="M82.62 628.77h4.51" stroke="#489ade"/><path d="M86.88 628.77h4.51" stroke="#4285e7"/><path d="M91.14 628.77h4.51" stroke="#4694e0"/><path d="M95.4 628.77h4.51" stroke="#458fe3"/><path d="M99.66 628.77h4.51" stroke="#4286e7"/><path d="M103.92 628.77h4.51" stroke="#4387e7"/><path d="M108.18 628.77h4.51" stroke="#448be5"/><path d="M112.44 628.77h4.51" stroke="#4692e1"/><path d="M116.7 628.77h4.51" stroke="#4694e1"/><path d="M120.96 628.77h4.51" stroke="#4aa3d9"/><path d="M125.22 628.77h4.51" stroke="#4eb0d3"/><path d="M129.48 628.77h4.51" stroke="#4eb0d3"/><path d="M133.74 628.77h4.51" stroke="#4eb2d2"/><path d="M138 628.77h4.51" stroke="#52c1cb"/><path d="M142.26 628.77h4.51" stroke="#51becd"/><path d="M146.52 628.77h4.51" stroke="#55cbc5"/><path d="M150.78 628.77h4.51" stroke="#5bd6ba"/><path d="M155.04 628.77h4.51" stroke="#59d3bd"/><path d="M159.3 628.77h4.51" stroke="#59d2be"/><path d="M163.56 628.77h4.51" stroke="#62e5ab"/><path d="M167.82 628.77h4.51" stroke="#62e5ab"/><path d="M172.08 628.77h4.51" stroke="#66eaa3"/><path d="M82.62 633.03h4.51" stroke="#4389e6"/><path d="M86.88 633.03h4.51" stroke="#4389e6"/><path d="M91.14 633.03h4.51" stroke="#458fe3"/><path d="M95.4 633.03h4.51" stroke="#4387e7"/><path d="M99.66 633.03h4.51" stroke="#4284e8"/><path d="M103.92 633.03h4.51" stroke="#458fe3"/><path d="M108.18 633.03h4.51" stroke="#4ba7d7"/><path d="M112.44 633.03h4.51" stroke="#4795e0"/><path d="M116.7 633.03h4.51" stroke="#4ba4d9"/><path d="M120.96 633.03h4.51" stroke="#49a0db"/><path d="M125.22 633.03h4.51" stroke="#4ba5d8"/><path d="M129.48 633.03h4.51" stroke="#4ca9d6"/><path d="M133.74 633.03h4.51" stroke="#4fb6d0"/><path d="M138 633.03h4.51" stroke="#4fb5d1"/><path d="M142.26 633.03h4.51" stroke="#50b8d0"/><path d="M146.52 633.03h4.51" stroke="#52c2cb"/><path d="M150.78 633.03h4.51" stroke="#55cac6"/><path d="M155.04 633.03h4.51" stroke="#5ad5bb"/><path d="M159.3 633.03h4.51" stroke="#57cfc1"/><path d="M163.56 633.03h4.51" stroke="#59d1bf"/><path d="M82.62 637.29h4.51" stroke="#458ee3"/><path d="M86.88 637.29h4.51" stroke="#4387e7"/><path d="M91.14 637.29h4.51" stroke="#4796e0"/><path d="M95.4 637.29h4.51" stroke="#4284e8"/><path d="M99.66 637.29h4.51" stroke="#4795e0"/><path d="M103.92 637.29h4.51" stroke="#489ade"/><path d="M108.18 637.29h4.51" stroke="#4693e1"/><path d="M112.44 637.29h4.51" stroke="#50b8cf"/><path d="M116.7 637.29h4.51" stroke="#4aa4d9"/><path d="M120.96 637.29h4.51" stroke="#4ba5d9"/><path d="M125.22 637.29h4.51" stroke="#4fb6d0"/><path d="M129.48 637.29h4.51" stroke="#4eb0d3"/><path d="M133.74 637.29h4.51" stroke="#53c4ca"/><path d="M138 637.29h4.51" stroke="#52c0cc"/><path d="M142.26 637.29h4.51" stroke="#51bfcc"/><path d="M146.52 637.29h4.51" stroke="#52c2cb"/><path d="M150.78 637.29h4.51" stroke="#5bd7b9"/><path d="M78.36 641.55h4.51" stroke="#67eca2"/><path d="M82.62 641.55h4.51" stroke="#499edc"/><path d="M86.88 641.55h4.51" stroke="#458ee3"/><path d="M91.14 641.55h4.51" stroke="#4aa2da"/><path d="M95.4 641.55h4.51" stroke="#4692e2"/><path d="M99.66 641.55h4.51" stroke="#4695e0"/><path d="M103.92 641.55h4.51" stroke="#489bdd"/><path d="M108.18 641.55h4.51" stroke="#4fb4d1"/><path d="M112.44 641.55h4.51" stroke="#4fb4d1"/><path d="M116.7 641.55h4.51" stroke="#4eb1d3"/><path d="M120.96 641.55h4.51" stroke="#4daed4"/><path d="M125.22 641.55h4.51" stroke="#53c6c9"/><path d="M129.48 641.55h4.51" stroke="#57cfc1"/><path d="M133.74 641.55h4.51" stroke="#55c9c7"/><path d="M138 641.55h4.51" stroke="#50bace"/><path d="M142.26 641.55h4.51" stroke="#52c0cc"/><path d="M74.1 645.81h4.51" stroke="#68ef9f"/><path d="M78.36 645.81h4.51" stroke="#489add"/><path d="M82.62 645.81h4.51" stroke="#4388e6"/><path d="M86.88 645.81h4.51" stroke="#4284e8"/><path d="M91.14 645.81h4.51" stroke="#499edc"/><path d="M95.4 645.81h4.51" stroke="#4cabd6"/><path d="M99.66 645.81h4.51" stroke="#4798df"/><path d="M103.92 645.81h4.51" stroke="#50b8cf"/><path d="M108.18 645.81h4.51" stroke="#4dafd4"/><path d="M112.44 645.81h4.51" stroke="#52c2cb"/><path d="M116.7 645.81h4.51" stroke="#56ccc4"/><path d="M120.96 645.81h4.51" stroke="#58cfc1"/><path d="M125.22 645.81h4.51" stroke="#50b8cf"/><path d="M129.48 645.81h4.51" stroke="#53c5ca"/><path d="M74.1 650.07h4.51" stroke="#65e7a6"/><path d="M78.36 650.07h4.51" stroke="#50b8cf"/><path d="M82.62 650.07h4.51" stroke="#458ee3"/><path d="M86.88 650.07h4.51" stroke="#4691e2"/><path d="M91.14 650.07h4.51" stroke="#4ca9d7"/><path d="M95.4 650.07h4.51" stroke="#4695e0"/><path d="M99.66 650.07h4.51" stroke="#4aa3d9"/><path d="M103.92 650.07h4.51" stroke="#4ba8d7"/><path d="M108.18 650.07h4.51" stroke="#51bdcd"/><path d="M112.44 650.07h4.51" stroke="#56ccc4"/><path d="M116.7 650.07h4.51" stroke="#51bdcd"/><path d="M120.96 650.07h4.51" stroke="#58d1bf"/><path d="M74.1 654.33h4.51" stroke="#64e5a8"/><path d="M78.36 654.33h4.51" stroke="#4fb6d0"/><path d="M82.62 654.33h4.51" stroke="#4aa1da"/><path d="M86.88 654.33h4.51" stroke="#4cabd6"/><path d="M91.14 654.33h4.51" stroke="#499ddc"/><path d="M95.4 654.33h4.51" stroke="#4ba5d9"/><path d="M99.66 654.33h4.51" stroke="#4aa4d9"/><path d="M103.92 654.33h4.51" stroke="#51becd"/><path d="M108.18 654.33h4.51" stroke="#51bcce"/><path d="M74.1 658.59h4.51" stroke="#67eca2"/><path d="M78.36 658.59h4.51" stroke="#4aa1da"/><path d="M82.62 658.59h4.51" stroke="#4ca9d7"/><path d="M86.88 658.59h4.51" stroke="#4aa3d9"/><path d="M91.14 658.59h4.51" stroke="#4daed4"/><path d="M95.4 658.59h4.51" stroke="#4cabd6"/><path d="M65.58 662.85h4.51" stroke="#ff0000"/><path d="M69.84 662.85h4.51" stroke="#00cc00"/><path d="M74.1 662.85h4.51" stroke="#66e8a5"/><path d="M78.36 662.85h4.51" stroke="#4aa2da"/><path d="M82.62 662.85h4.51" stroke="#4cabd6"/><path d="M86.88 662.85h4.51" stroke="#4693e1"/><path d="M69.84 667.11h4.51" stroke="#00cc00"/><path d="M74.1 667.11h4.51" stroke="#46aaeb"/></g>
<polygon points="62.4,677.46 62.85,671.3 63.81,666.48 65.89,663.07 65.61,657.58 65.89,652.09 67.92,645.93 70.68,641.12 74.17,636.98 74.57,632.89 75.92,629.02 74.85,626.67 73.16,621.91 71.41,613.68 70,606.8 68.65,601.31 67.25,597.22 65.44,593.08 64.88,591.73 65.89,586.25 67.92,582.1 72.09,580.03 76.2,577.96 76.93,572.53 76.2,564.24 75.13,556.01 74.17,547.78 73.16,539.55 72.76,531.32 73.44,527.9 76.2,525.16 80.36,524.21 87.23,523.76 94.16,524.21 98.33,525.16 100.35,528.58 101.09,536.81 101.76,545.04 102.44,553.27 102.83,561.5 103.56,570.85 104.52,564.24 105.87,556.01 107.95,547.78 109.36,540.95 112.12,538.21 116.23,536.14 120.4,534.06 125.75,532.44 134.02,530.65 142.3,529.7 145.06,527.9 148.5,526.5 151.25,528.58 157.5,530.65 164.37,533.39 171.3,536.14 176.82,538.88 180.93,542.29 182.34,547.78 185.09,553.27 188.53,559.48 191.29,564.97 193.37,570.46 193.09,576.62 191.96,579.36 189.2,583.5 187.18,587.59 186.05,593.08 186.45,599.97 186.05,604.72 187.18,609.54 188.53,615.03 189.2,618.44 191.74,621.19 192.7,626.67" fill="none" stroke="#dc2468" stroke-width="1.25" stroke-linejoin="round"/>
<rect x="20.2" y="494.9" width="209.8" height="195.8" fill="none" stroke="#000" stroke-width="1.8"/>
<path d="M19.6 507.3H26.2M22.9 504V510.6M19.6 549.98H26.2M22.9 546.68V553.28M19.6 592.66H26.2M22.9 589.36V595.96M19.6 635.34H26.2M22.9 632.04V638.64M19.6 678.02H26.2M22.9 674.72V681.32M62.2 507.3H68.8M65.5 504V510.6M62.2 549.98H68.8M65.5 546.68V553.28M62.2 592.66H68.8M65.5 589.36V595.96M62.2 635.34H68.8M65.5 632.04V638.64M62.2 678.02H68.8M65.5 674.72V681.32M104.8 507.3H111.4M108.1 504V510.6M104.8 549.98H111.4M108.1 546.68V553.28M104.8 592.66H111.4M108.1 589.36V595.96M104.8 635.34H111.4M108.1 632.04V638.64M104.8 678.02H111.4M108.1 674.72V681.32M147.4 507.3H154M150.7 504V510.6M147.4 549.98H154M150.7 546.68V553.28M147.4 592.66H154M150.7 589.36V595.96M147.4 635.34H154M150.7 632.04V638.64M147.4 678.02H154M150.7 674.72V681.32M190 507.3H196.6M193.3 504V510.6M190 549.98H196.6M193.3 546.68V553.28M190 592.66H196.6M193.3 589.36V595.96M190 635.34H196.6M193.3 632.04V638.64M190 678.02H196.6M193.3 674.72V681.32" stroke="#2a2a2a" stroke-width="0.95" fill="none"/>
<text x="22.9" y="490.7" font-family='"Liberation Sans", sans-serif' font-size="6.9" text-anchor="middle" fill="#222">125<tspan font-size="5.6">00mE</tspan></text>
<text x="22.9" y="699.7" font-family='"Liberation Sans", sans-serif' font-size="6.9" text-anchor="middle" fill="#222">125<tspan font-size="5.6">00mE</tspan></text>
<text x="65.5" y="490.7" font-family='"Liberation Sans", sans-serif' font-size="6.9" text-anchor="middle" fill="#222">150</text>
<text x="65.5" y="699.7" font-family='"Liberation Sans", sans-serif' font-size="6.9" text-anchor="middle" fill="#222">150</text>
<text x="108.1" y="490.7" font-family='"Liberation Sans", sans-serif' font-size="6.9" text-anchor="middle" fill="#222">175</text>
<text x="108.1" y="699.7" font-family='"Liberation Sans", sans-serif' font-size="6.9" text-anchor="middle" fill="#222">175</text>
<text x="150.7" y="490.7" font-family='"Liberation Sans", sans-serif' font-size="6.9" text-anchor="middle" fill="#222">200</text>
<text x="150.7" y="699.7" font-family='"Liberation Sans", sans-serif' font-size="6.9" text-anchor="middle" fill="#222">200</text>
<text x="193.3" y="490.7" font-family='"Liberation Sans", sans-serif' font-size="6.9" text-anchor="middle" fill="#222">225<tspan font-size="5.6">00mE</tspan></text>
<text x="193.3" y="699.7" font-family='"Liberation Sans", sans-serif' font-size="6.9" text-anchor="middle" fill="#222">225<tspan font-size="5.6">00mE</tspan></text>
<text x="15.6" y="507.3" font-family='"Liberation Sans", sans-serif' font-size="6.9" text-anchor="middle" fill="#222" transform="rotate(-90 15.6 507.3)">450<tspan font-size="5.6">00mN</tspan></text>
<text x="234" y="507.3" font-family='"Liberation Sans", sans-serif' font-size="6.9" text-anchor="middle" fill="#222" transform="rotate(90 234 507.3)">450<tspan font-size="5.6">00mN</tspan></text>
<text x="9.6" y="552.38" font-family='"Liberation Sans", sans-serif' font-size="6.9" text-anchor="middle" fill="#222">425</text>
<text x="240.6" y="552.38" font-family='"Liberation Sans", sans-serif' font-size="6.9" text-anchor="middle" fill="#222">425</text>
<text x="9.6" y="595.06" font-family='"Liberation Sans", sans-serif' font-size="6.9" text-anchor="middle" fill="#222">400</text>
<text x="240.6" y="595.06" font-family='"Liberation Sans", sans-serif' font-size="6.9" text-anchor="middle" fill="#222">400</text>
<text x="9.6" y="637.74" font-family='"Liberation Sans", sans-serif' font-size="6.9" text-anchor="middle" fill="#222">375</text>
<text x="240.6" y="637.74" font-family='"Liberation Sans", sans-serif' font-size="6.9" text-anchor="middle" fill="#222">375</text>
<text x="15.6" y="678.02" font-family='"Liberation Sans", sans-serif' font-size="6.9" text-anchor="middle" fill="#222" transform="rotate(-90 15.6 678.02)">350<tspan font-size="5.6">00mN</tspan></text>
<text x="234" y="678.02" font-family='"Liberation Sans", sans-serif' font-size="6.9" text-anchor="middle" fill="#222" transform="rotate(90 234 678.02)">350<tspan font-size="5.6">00mN</tspan></text>
<path d="M39.5 499.2L47.1 511.8Q39.5 508.2 31.9 511.8Z" fill="#000"/>
<text transform="translate(39.55 524.05) scale(1.36 1)" font-family='"Liberation Sans", sans-serif' font-weight="bold" font-size="15.84" text-anchor="middle" fill="#000" stroke="#000" stroke-width="0.3">N</text>
<text x="136.6" y="662.7" font-family='"Liberation Sans", sans-serif' font-size="8.4" text-anchor="middle" fill="#222">2</text>
<text x="154" y="662.7" font-family='"Liberation Sans", sans-serif' font-size="8.4" text-anchor="middle" fill="#222">1</text>
<text x="171.4" y="662.7" font-family='"Liberation Sans", sans-serif' font-size="8.4" text-anchor="middle" fill="#222">0</text>
<text x="188.8" y="662.7" font-family='"Liberation Sans", sans-serif' font-size="8.4" text-anchor="middle" fill="#222">1</text>
<text x="206.2" y="662.7" font-family='"Liberation Sans", sans-serif' font-size="8.4" text-anchor="middle" fill="#222">2</text>
<path d="M136.6 665.4H206.2M136.6 664.2V666.4M154 664.2V666.4M171.4 664.2V666.4M188.8 664.2V666.4M206.2 664.2V666.4" stroke="#333" stroke-width="0.9" fill="none"/>
<text x="210.4" y="662.7" font-family='"Liberation Sans", sans-serif' font-size="8.4" fill="#222">Km</text>
<ellipse cx="79.5" cy="535.3" rx="5.7" ry="4.9" fill="#111"/>
<ellipse cx="176.5" cy="546.9" rx="5.7" ry="4.9" fill="#111"/>
</g>
<g transform="translate(387.6 251.6)">
<text x="120.3" y="464.4" font-family='"Liberation Serif", serif' font-size="17" text-anchor="middle" fill="#000" textLength="60.6" lengthAdjust="spacingAndGlyphs">Gitelson</text>
<text x="120.4" y="479.2" font-family='"Liberation Serif", serif' font-size="14.7" font-weight="bold" font-style="italic" text-anchor="middle" fill="#000" textLength="54.8" lengthAdjust="spacingAndGlyphs">03-08-05</text>
<g shape-rendering="crispEdges" stroke-width="4.56" fill="none"><path d="M86.88 526.53h4.51" stroke="#ff0000"/><path d="M91.14 526.53h4.51" stroke="#ff0000"/><path d="M91.14 530.79h4.51" stroke="#ff0000"/><path d="M142.26 530.79h4.51" stroke="#ff0000"/><path d="M146.52 530.79h4.51" stroke="#ff0000"/><path d="M82.62 535.05h4.51" stroke="#3f88ed"/><path d="M86.88 535.05h4.51" stroke="#67eea0"/><path d="M91.14 535.05h4.51" stroke="#ff0000"/><path d="M138 535.05h4.51" stroke="#66eaa4"/><path d="M146.52 535.05h4.51" stroke="#00cc00"/><path d="M159.3 535.05h4.51" stroke="#ff0000"/><path d="M82.62 539.31h4.51" stroke="#64e4a9"/><path d="M86.88 539.31h4.51" stroke="#3e85ed"/><path d="M91.14 539.31h4.51" stroke="#ff0000"/><path d="M112.44 539.31h4.51" stroke="#4493ef"/><path d="M116.7 539.31h4.51" stroke="#67eda1"/><path d="M120.96 539.31h4.51" stroke="#4595f0"/><path d="M125.22 539.31h4.51" stroke="#4596f0"/><path d="M129.48 539.31h4.51" stroke="#4597f0"/><path d="M133.74 539.31h4.51" stroke="#4597f0"/><path d="M138 539.31h4.51" stroke="#479bf1"/><path d="M142.26 539.31h4.51" stroke="#4699f0"/><path d="M146.52 539.31h4.51" stroke="#4495f0"/><path d="M150.78 539.31h4.51" stroke="#4493ef"/><path d="M155.04 539.31h4.51" stroke="#4290ef"/><path d="M159.3 539.31h4.51" stroke="#00cc00"/><path d="M167.82 539.31h4.51" stroke="#ff0000"/><path d="M82.62 543.57h4.51" stroke="#3e85ed"/><path d="M86.88 543.57h4.51" stroke="#3e85ed"/><path d="M95.4 543.57h4.51" stroke="#ff0000"/><path d="M112.44 543.57h4.51" stroke="#4392ef"/><path d="M116.7 543.57h4.51" stroke="#4699f1"/><path d="M120.96 543.57h4.51" stroke="#4597f0"/><path d="M125.22 543.57h4.51" stroke="#4daaf4"/><path d="M129.48 543.57h4.51" stroke="#4eacf4"/><path d="M133.74 543.57h4.51" stroke="#4faff4"/><path d="M138 543.57h4.51" stroke="#4daaf4"/><path d="M142.26 543.57h4.51" stroke="#4dabf4"/><path d="M146.52 543.57h4.51" stroke="#4ca7f3"/><path d="M150.78 543.57h4.51" stroke="#4ba5f3"/><path d="M155.04 543.57h4.51" stroke="#4493ef"/><path d="M159.3 543.57h4.51" stroke="#4290ef"/><path d="M163.56 543.57h4.51" stroke="#00cc00"/><path d="M74.1 547.83h4.51" stroke="#ff0000"/><path d="M82.62 547.83h4.51" stroke="#3f88ed"/><path d="M86.88 547.83h4.51" stroke="#64e3a9"/><path d="M112.44 547.83h4.51" stroke="#4596f0"/><path d="M116.7 547.83h4.51" stroke="#4ca9f3"/><path d="M120.96 547.83h4.51" stroke="#4eaef4"/><path d="M125.22 547.83h4.51" stroke="#4eadf4"/><path d="M129.48 547.83h4.51" stroke="#4faff4"/><path d="M133.74 547.83h4.51" stroke="#4fb1f5"/><path d="M138 547.83h4.51" stroke="#4dacf4"/><path d="M142.26 547.83h4.51" stroke="#4faff4"/><path d="M146.52 547.83h4.51" stroke="#4dacf4"/><path d="M150.78 547.83h4.51" stroke="#4dabf4"/><path d="M155.04 547.83h4.51" stroke="#4ba5f3"/><path d="M159.3 547.83h4.51" stroke="#4391ef"/><path d="M163.56 547.83h4.51" stroke="#64e4a8"/><path d="M176.34 547.83h4.51" stroke="#ff0000"/><path d="M74.1 552.09h4.51" stroke="#ff0000"/><path d="M82.62 552.09h4.51" stroke="#3e86ed"/><path d="M86.88 552.09h4.51" stroke="#00cc00"/><path d="M108.18 552.09h4.51" stroke="#4391ef"/><path d="M112.44 552.09h4.51" stroke="#4595f0"/><path d="M116.7 552.09h4.51" stroke="#4ca9f3"/><path d="M120.96 552.09h4.51" stroke="#4eadf4"/><path d="M125.22 552.09h4.51" stroke="#4fb1f5"/><path d="M129.48 552.09h4.51" stroke="#50b1f5"/><path d="M133.74 552.09h4.51" stroke="#50b3f5"/><path d="M138 552.09h4.51" stroke="#50b1f5"/><path d="M142.26 552.09h4.51" stroke="#50b2f5"/><path d="M146.52 552.09h4.51" stroke="#4dabf4"/><path d="M150.78 552.09h4.51" stroke="#4ca8f3"/><path d="M155.04 552.09h4.51" stroke="#4ba4f3"/><path d="M159.3 552.09h4.51" stroke="#4290ef"/><path d="M163.56 552.09h4.51" stroke="#408aee"/><path d="M167.82 552.09h4.51" stroke="#67eca2"/><path d="M176.34 552.09h4.51" stroke="#ff0000"/><path d="M74.1 556.35h4.51" stroke="#ff0000"/><path d="M82.62 556.35h4.51" stroke="#64e4a9"/><path d="M86.88 556.35h4.51" stroke="#3e86ed"/><path d="M108.18 556.35h4.51" stroke="#428eef"/><path d="M112.44 556.35h4.51" stroke="#4ca8f3"/><path d="M116.7 556.35h4.51" stroke="#4eaef4"/><path d="M120.96 556.35h4.51" stroke="#4faff5"/><path d="M125.22 556.35h4.51" stroke="#50b2f5"/><path d="M129.48 556.35h4.51" stroke="#50b2f5"/><path d="M133.74 556.35h4.51" stroke="#4faff4"/><path d="M138 556.35h4.51" stroke="#50b3f5"/><path d="M142.26 556.35h4.51" stroke="#50b3f5"/><path d="M146.52 556.35h4.51" stroke="#50b1f5"/><path d="M150.78 556.35h4.51" stroke="#4faff4"/><path d="M155.04 556.35h4.51" stroke="#4ca8f3"/><path d="M159.3 556.35h4.51" stroke="#4ba6f3"/><path d="M163.56 556.35h4.51" stroke="#4390ef"/><path d="M167.82 556.35h4.51" stroke="#418eee"/><path d="M172.08 556.35h4.51" stroke="#00cc00"/><path d="M176.34 556.35h4.51" stroke="#ff0000"/><path d="M82.62 560.61h4.51" stroke="#418bee"/><path d="M86.88 560.61h4.51" stroke="#68ef9f"/><path d="M108.18 560.61h4.51" stroke="#4494f0"/><path d="M112.44 560.61h4.51" stroke="#4ca7f3"/><path d="M116.7 560.61h4.51" stroke="#4faff5"/><path d="M120.96 560.61h4.51" stroke="#50b3f5"/><path d="M125.22 560.61h4.51" stroke="#50b1f5"/><path d="M129.48 560.61h4.51" stroke="#51b3f5"/><path d="M133.74 560.61h4.51" stroke="#4fb0f5"/><path d="M138 560.61h4.51" stroke="#51b4f5"/><path d="M142.26 560.61h4.51" stroke="#50b1f5"/><path d="M146.52 560.61h4.51" stroke="#4eaef4"/><path d="M150.78 560.61h4.51" stroke="#4faff4"/><path d="M155.04 560.61h4.51" stroke="#4ca8f3"/><path d="M159.3 560.61h4.51" stroke="#4ca8f3"/><path d="M163.56 560.61h4.51" stroke="#4ba5f3"/><path d="M167.82 560.61h4.51" stroke="#418eee"/><path d="M172.08 560.61h4.51" stroke="#428eef"/><path d="M180.6 560.61h4.51" stroke="#ff0000"/><path d="M78.36 564.87h4.51" stroke="#ff0000"/><path d="M82.62 564.87h4.51" stroke="#418dee"/><path d="M86.88 564.87h4.51" stroke="#408aee"/><path d="M108.18 564.87h4.51" stroke="#66e8a5"/><path d="M112.44 564.87h4.51" stroke="#4eadf4"/><path d="M116.7 564.87h4.51" stroke="#4fb0f5"/><path d="M120.96 564.87h4.51" stroke="#50b2f5"/><path d="M125.22 564.87h4.51" stroke="#51b3f5"/><path d="M129.48 564.87h4.51" stroke="#51b4f5"/><path d="M133.74 564.87h4.51" stroke="#50b2f5"/><path d="M138 564.87h4.51" stroke="#52b5f5"/><path d="M142.26 564.87h4.51" stroke="#51b5f5"/><path d="M146.52 564.87h4.51" stroke="#4faff4"/><path d="M150.78 564.87h4.51" stroke="#4fb0f5"/><path d="M155.04 564.87h4.51" stroke="#4daaf4"/><path d="M159.3 564.87h4.51" stroke="#4daaf4"/><path d="M163.56 564.87h4.51" stroke="#4aa3f2"/><path d="M167.82 564.87h4.51" stroke="#49a0f2"/><path d="M172.08 564.87h4.51" stroke="#408bee"/><path d="M176.34 564.87h4.51" stroke="#00cc00"/><path d="M180.6 564.87h4.51" stroke="#ff0000"/><path d="M78.36 569.13h4.51" stroke="#ff0000"/><path d="M82.62 569.13h4.51" stroke="#4391ef"/><path d="M86.88 569.13h4.51" stroke="#4494f0"/><path d="M91.14 569.13h4.51" stroke="#64e2aa"/><path d="M103.92 569.13h4.51" stroke="#63e2ab"/><path d="M108.18 569.13h4.51" stroke="#4699f1"/><path d="M112.44 569.13h4.51" stroke="#4eadf4"/><path d="M116.7 569.13h4.51" stroke="#4fb0f5"/><path d="M120.96 569.13h4.51" stroke="#50b3f5"/><path d="M125.22 569.13h4.51" stroke="#50b3f5"/><path d="M129.48 569.13h4.51" stroke="#51b4f5"/><path d="M133.74 569.13h4.51" stroke="#51b4f5"/><path d="M138 569.13h4.51" stroke="#51b4f5"/><path d="M142.26 569.13h4.51" stroke="#52b5f6"/><path d="M146.52 569.13h4.51" stroke="#50b2f5"/><path d="M150.78 569.13h4.51" stroke="#4fb0f5"/><path d="M155.04 569.13h4.51" stroke="#50b3f5"/><path d="M159.3 569.13h4.51" stroke="#4ca9f3"/><path d="M163.56 569.13h4.51" stroke="#4ba4f3"/><path d="M167.82 569.13h4.51" stroke="#4aa2f2"/><path d="M172.08 569.13h4.51" stroke="#4392ef"/><path d="M184.86 569.13h4.51" stroke="#ff0000"/><path d="M78.36 573.39h4.51" stroke="#ff0000"/><path d="M82.62 573.39h4.51" stroke="#4494f0"/><path d="M86.88 573.39h4.51" stroke="#479af1"/><path d="M91.14 573.39h4.51" stroke="#65e6a7"/><path d="M95.4 573.39h4.51" stroke="#479cf1"/><path d="M99.66 573.39h4.51" stroke="#469af1"/><path d="M103.92 573.39h4.51" stroke="#479bf1"/><path d="M108.18 573.39h4.51" stroke="#4faef4"/><path d="M112.44 573.39h4.51" stroke="#52b5f5"/><path d="M116.7 573.39h4.51" stroke="#53b8f6"/><path d="M120.96 573.39h4.51" stroke="#52b5f5"/><path d="M125.22 573.39h4.51" stroke="#54b9f6"/><path d="M129.48 573.39h4.51" stroke="#52b6f6"/><path d="M133.74 573.39h4.51" stroke="#54baf6"/><path d="M138 573.39h4.51" stroke="#52b6f6"/><path d="M142.26 573.39h4.51" stroke="#52b6f6"/><path d="M146.52 573.39h4.51" stroke="#51b4f5"/><path d="M150.78 573.39h4.51" stroke="#52b5f5"/><path d="M155.04 573.39h4.51" stroke="#50b1f5"/><path d="M159.3 573.39h4.51" stroke="#50b1f5"/><path d="M163.56 573.39h4.51" stroke="#4ca9f3"/><path d="M167.82 573.39h4.51" stroke="#4ba7f3"/><path d="M172.08 573.39h4.51" stroke="#428fef"/><path d="M184.86 573.39h4.51" stroke="#ff0000"/><path d="M82.62 577.65h4.51" stroke="#479bf1"/><path d="M86.88 577.65h4.51" stroke="#50b1f5"/><path d="M91.14 577.65h4.51" stroke="#50b2f5"/><path d="M95.4 577.65h4.51" stroke="#52b5f5"/><path d="M99.66 577.65h4.51" stroke="#52b6f6"/><path d="M103.92 577.65h4.51" stroke="#51b4f5"/><path d="M108.18 577.65h4.51" stroke="#52b6f6"/><path d="M112.44 577.65h4.51" stroke="#52b6f6"/><path d="M116.7 577.65h4.51" stroke="#54b9f6"/><path d="M120.96 577.65h4.51" stroke="#55bcf6"/><path d="M125.22 577.65h4.51" stroke="#55bbf6"/><path d="M129.48 577.65h4.51" stroke="#54b9f6"/><path d="M133.74 577.65h4.51" stroke="#55bbf6"/><path d="M138 577.65h4.51" stroke="#56bcf7"/><path d="M142.26 577.65h4.51" stroke="#53b8f6"/><path d="M146.52 577.65h4.51" stroke="#53b7f6"/><path d="M150.78 577.65h4.51" stroke="#54b9f6"/><path d="M155.04 577.65h4.51" stroke="#52b5f5"/><path d="M159.3 577.65h4.51" stroke="#50b2f5"/><path d="M163.56 577.65h4.51" stroke="#4dabf4"/><path d="M167.82 577.65h4.51" stroke="#4ca9f3"/><path d="M172.08 577.65h4.51" stroke="#4495f0"/><path d="M78.36 581.91h4.51" stroke="#489ef1"/><path d="M82.62 581.91h4.51" stroke="#4ba6f3"/><path d="M86.88 581.91h4.51" stroke="#53b7f6"/><path d="M91.14 581.91h4.51" stroke="#52b6f6"/><path d="M95.4 581.91h4.51" stroke="#52b6f6"/><path d="M99.66 581.91h4.51" stroke="#54b9f6"/><path d="M103.92 581.91h4.51" stroke="#55baf6"/><path d="M108.18 581.91h4.51" stroke="#54b9f6"/><path d="M112.44 581.91h4.51" stroke="#55bbf6"/><path d="M116.7 581.91h4.51" stroke="#57bff7"/><path d="M120.96 581.91h4.51" stroke="#55bcf7"/><path d="M125.22 581.91h4.51" stroke="#57bff7"/><path d="M129.48 581.91h4.51" stroke="#57bef7"/><path d="M133.74 581.91h4.51" stroke="#56bcf7"/><path d="M138 581.91h4.51" stroke="#56bdf7"/><path d="M142.26 581.91h4.51" stroke="#55baf6"/><path d="M146.52 581.91h4.51" stroke="#56bcf7"/><path d="M150.78 581.91h4.51" stroke="#53b8f6"/><path d="M155.04 581.91h4.51" stroke="#54b8f6"/><path d="M159.3 581.91h4.51" stroke="#52b5f5"/><path d="M163.56 581.91h4.51" stroke="#4faff5"/><path d="M167.82 581.91h4.51" stroke="#4699f1"/><path d="M172.08 581.91h4.51" stroke="#4495f0"/><path d="M176.34 581.91h4.51" stroke="#00cc00"/><path d="M180.6 581.91h4.51" stroke="#ff0000"/><path d="M74.1 586.17h4.51" stroke="#4ba7f3"/><path d="M78.36 586.17h4.51" stroke="#4ba5f3"/><path d="M82.62 586.17h4.51" stroke="#53b7f6"/><path d="M86.88 586.17h4.51" stroke="#53b7f6"/><path d="M91.14 586.17h4.51" stroke="#54baf6"/><path d="M95.4 586.17h4.51" stroke="#56bdf7"/><path d="M99.66 586.17h4.51" stroke="#57bef7"/><path d="M103.92 586.17h4.51" stroke="#56bdf7"/><path d="M108.18 586.17h4.51" stroke="#58c0f7"/><path d="M112.44 586.17h4.51" stroke="#57bff7"/><path d="M116.7 586.17h4.51" stroke="#57bff7"/><path d="M120.96 586.17h4.51" stroke="#58c0f7"/><path d="M125.22 586.17h4.51" stroke="#58c0f7"/><path d="M129.48 586.17h4.51" stroke="#58c1f7"/><path d="M133.74 586.17h4.51" stroke="#59c2f7"/><path d="M138 586.17h4.51" stroke="#57bef7"/><path d="M142.26 586.17h4.51" stroke="#57bff7"/><path d="M146.52 586.17h4.51" stroke="#55bcf6"/><path d="M150.78 586.17h4.51" stroke="#56bdf7"/><path d="M155.04 586.17h4.51" stroke="#53b8f6"/><path d="M159.3 586.17h4.51" stroke="#51b5f5"/><path d="M163.56 586.17h4.51" stroke="#50b2f5"/><path d="M167.82 586.17h4.51" stroke="#479bf1"/><path d="M172.08 586.17h4.51" stroke="#64e4a9"/><path d="M180.6 586.17h4.51" stroke="#ff0000"/><path d="M74.1 590.43h4.51" stroke="#4ba4f3"/><path d="M78.36 590.43h4.51" stroke="#54b9f6"/><path d="M82.62 590.43h4.51" stroke="#54baf6"/><path d="M86.88 590.43h4.51" stroke="#54b9f6"/><path d="M91.14 590.43h4.51" stroke="#56bdf7"/><path d="M95.4 590.43h4.51" stroke="#56bcf7"/><path d="M99.66 590.43h4.51" stroke="#58c1f7"/><path d="M103.92 590.43h4.51" stroke="#59c1f7"/><path d="M108.18 590.43h4.51" stroke="#5ac3f8"/><path d="M112.44 590.43h4.51" stroke="#5ac3f8"/><path d="M116.7 590.43h4.51" stroke="#5bc6f8"/><path d="M120.96 590.43h4.51" stroke="#5bc6f8"/><path d="M125.22 590.43h4.51" stroke="#5ac3f8"/><path d="M129.48 590.43h4.51" stroke="#5cc6f8"/><path d="M133.74 590.43h4.51" stroke="#5ac4f8"/><path d="M138 590.43h4.51" stroke="#5bc5f8"/><path d="M142.26 590.43h4.51" stroke="#5ac4f8"/><path d="M146.52 590.43h4.51" stroke="#5ac3f8"/><path d="M150.78 590.43h4.51" stroke="#59c2f7"/><path d="M155.04 590.43h4.51" stroke="#55bbf6"/><path d="M159.3 590.43h4.51" stroke="#53b7f6"/><path d="M163.56 590.43h4.51" stroke="#51b4f5"/><path d="M167.82 590.43h4.51" stroke="#479cf1"/><path d="M172.08 590.43h4.51" stroke="#67eea0"/><path d="M176.34 590.43h4.51" stroke="#ff0000"/><path d="M74.1 594.69h4.51" stroke="#4ca8f3"/><path d="M78.36 594.69h4.51" stroke="#52b6f6"/><path d="M82.62 594.69h4.51" stroke="#54b8f6"/><path d="M86.88 594.69h4.51" stroke="#54b9f6"/><path d="M91.14 594.69h4.51" stroke="#58c0f7"/><path d="M95.4 594.69h4.51" stroke="#58c0f7"/><path d="M99.66 594.69h4.51" stroke="#59c3f8"/><path d="M103.92 594.69h4.51" stroke="#5ac4f8"/><path d="M108.18 594.69h4.51" stroke="#5bc6f8"/><path d="M112.44 594.69h4.51" stroke="#5bc6f8"/><path d="M116.7 594.69h4.51" stroke="#5dc9f9"/><path d="M120.96 594.69h4.51" stroke="#5cc7f8"/><path d="M125.22 594.69h4.51" stroke="#5dcaf9"/><path d="M129.48 594.69h4.51" stroke="#5dc9f9"/><path d="M133.74 594.69h4.51" stroke="#5cc7f8"/><path d="M138 594.69h4.51" stroke="#5cc7f8"/><path d="M142.26 594.69h4.51" stroke="#5cc7f8"/><path d="M146.52 594.69h4.51" stroke="#5bc6f8"/><path d="M150.78 594.69h4.51" stroke="#5ac4f8"/><path d="M155.04 594.69h4.51" stroke="#58bff7"/><path d="M159.3 594.69h4.51" stroke="#54b9f6"/><path d="M163.56 594.69h4.51" stroke="#52b6f6"/><path d="M167.82 594.69h4.51" stroke="#4aa2f2"/><path d="M172.08 594.69h4.51" stroke="#489ff2"/><path d="M176.34 594.69h4.51" stroke="#ff0000"/><path d="M74.1 598.95h4.51" stroke="#67eca2"/><path d="M78.36 598.95h4.51" stroke="#4faff4"/><path d="M82.62 598.95h4.51" stroke="#56bcf7"/><path d="M86.88 598.95h4.51" stroke="#56bdf7"/><path d="M91.14 598.95h4.51" stroke="#58bff7"/><path d="M95.4 598.95h4.51" stroke="#5ac3f8"/><path d="M99.66 598.95h4.51" stroke="#5cc7f8"/><path d="M103.92 598.95h4.51" stroke="#5cc7f8"/><path d="M108.18 598.95h4.51" stroke="#5dcaf9"/><path d="M112.44 598.95h4.51" stroke="#5fcdf9"/><path d="M116.7 598.95h4.51" stroke="#60cef9"/><path d="M120.96 598.95h4.51" stroke="#5ecbf9"/><path d="M125.22 598.95h4.51" stroke="#5ecbf9"/><path d="M129.48 598.95h4.51" stroke="#5ecbf9"/><path d="M133.74 598.95h4.51" stroke="#5fcdf9"/><path d="M138 598.95h4.51" stroke="#5fcdf9"/><path d="M142.26 598.95h4.51" stroke="#5fccf9"/><path d="M146.52 598.95h4.51" stroke="#5dc9f9"/><path d="M150.78 598.95h4.51" stroke="#5cc8f8"/><path d="M155.04 598.95h4.51" stroke="#59c1f7"/><path d="M159.3 598.95h4.51" stroke="#56bdf7"/><path d="M163.56 598.95h4.51" stroke="#54b9f6"/><path d="M167.82 598.95h4.51" stroke="#4ca8f3"/><path d="M172.08 598.95h4.51" stroke="#67eba2"/><path d="M176.34 598.95h4.51" stroke="#ff0000"/><path d="M74.1 603.21h4.51" stroke="#00cc00"/><path d="M78.36 603.21h4.51" stroke="#4dabf4"/><path d="M82.62 603.21h4.51" stroke="#55bbf6"/><path d="M86.88 603.21h4.51" stroke="#57bef7"/><path d="M91.14 603.21h4.51" stroke="#58c0f7"/><path d="M95.4 603.21h4.51" stroke="#5bc6f8"/><path d="M99.66 603.21h4.51" stroke="#5dc8f8"/><path d="M103.92 603.21h4.51" stroke="#5fccf9"/><path d="M108.18 603.21h4.51" stroke="#60cef9"/><path d="M112.44 603.21h4.51" stroke="#61d0fa"/><path d="M116.7 603.21h4.51" stroke="#61d0fa"/><path d="M120.96 603.21h4.51" stroke="#62d1fa"/><path d="M125.22 603.21h4.51" stroke="#62d1fa"/><path d="M129.48 603.21h4.51" stroke="#5fcdf9"/><path d="M133.74 603.21h4.51" stroke="#61d0fa"/><path d="M138 603.21h4.51" stroke="#5fcdf9"/><path d="M142.26 603.21h4.51" stroke="#5ecbf9"/><path d="M146.52 603.21h4.51" stroke="#5dc9f9"/><path d="M150.78 603.21h4.51" stroke="#5cc8f8"/><path d="M155.04 603.21h4.51" stroke="#5ac3f8"/><path d="M159.3 603.21h4.51" stroke="#57bff7"/><path d="M163.56 603.21h4.51" stroke="#55bbf6"/><path d="M167.82 603.21h4.51" stroke="#4ca7f3"/><path d="M172.08 603.21h4.51" stroke="#4aa2f2"/><path d="M176.34 603.21h4.51" stroke="#ff0000"/><path d="M78.36 607.47h4.51" stroke="#4eadf4"/><path d="M82.62 607.47h4.51" stroke="#56bcf7"/><path d="M86.88 607.47h4.51" stroke="#58c0f7"/><path d="M91.14 607.47h4.51" stroke="#58c1f7"/><path d="M95.4 607.47h4.51" stroke="#5bc6f8"/><path d="M99.66 607.47h4.51" stroke="#5ecbf9"/><path d="M103.92 607.47h4.51" stroke="#5fcdf9"/><path d="M108.18 607.47h4.51" stroke="#5ecbf9"/><path d="M112.44 607.47h4.51" stroke="#60cffa"/><path d="M116.7 607.47h4.51" stroke="#61d0fa"/><path d="M120.96 607.47h4.51" stroke="#61cffa"/><path d="M125.22 607.47h4.51" stroke="#60cef9"/><path d="M129.48 607.47h4.51" stroke="#61d0fa"/><path d="M133.74 607.47h4.51" stroke="#61d0fa"/><path d="M138 607.47h4.51" stroke="#60cff9"/><path d="M142.26 607.47h4.51" stroke="#60cff9"/><path d="M146.52 607.47h4.51" stroke="#5dc9f9"/><path d="M150.78 607.47h4.51" stroke="#5ecbf9"/><path d="M155.04 607.47h4.51" stroke="#5ac4f8"/><path d="M159.3 607.47h4.51" stroke="#59c3f8"/><path d="M163.56 607.47h4.51" stroke="#57bef7"/><path d="M167.82 607.47h4.51" stroke="#4ba6f3"/><path d="M78.36 611.73h4.51" stroke="#67eca1"/><path d="M82.62 611.73h4.51" stroke="#56bdf7"/><path d="M86.88 611.73h4.51" stroke="#58c0f7"/><path d="M91.14 611.73h4.51" stroke="#59c2f8"/><path d="M95.4 611.73h4.51" stroke="#5cc8f8"/><path d="M99.66 611.73h4.51" stroke="#5dc8f9"/><path d="M103.92 611.73h4.51" stroke="#5ecaf9"/><path d="M108.18 611.73h4.51" stroke="#5fcdf9"/><path d="M112.44 611.73h4.51" stroke="#5fcdf9"/><path d="M116.7 611.73h4.51" stroke="#60cef9"/><path d="M120.96 611.73h4.51" stroke="#62d1fa"/><path d="M125.22 611.73h4.51" stroke="#60cffa"/><path d="M129.48 611.73h4.51" stroke="#60cef9"/><path d="M133.74 611.73h4.51" stroke="#60cffa"/><path d="M138 611.73h4.51" stroke="#61d0fa"/><path d="M142.26 611.73h4.51" stroke="#5fccf9"/><path d="M146.52 611.73h4.51" stroke="#5dc9f9"/><path d="M150.78 611.73h4.51" stroke="#5ecaf9"/><path d="M155.04 611.73h4.51" stroke="#5bc6f8"/><path d="M159.3 611.73h4.51" stroke="#58c0f7"/><path d="M163.56 611.73h4.51" stroke="#56bcf7"/><path d="M167.82 611.73h4.51" stroke="#4eadf4"/><path d="M180.6 611.73h4.51" stroke="#ff0000"/><path d="M78.36 615.99h4.51" stroke="#50b1f5"/><path d="M82.62 615.99h4.51" stroke="#56bcf7"/><path d="M86.88 615.99h4.51" stroke="#58c0f7"/><path d="M91.14 615.99h4.51" stroke="#5ac5f8"/><path d="M95.4 615.99h4.51" stroke="#5bc5f8"/><path d="M99.66 615.99h4.51" stroke="#5dcaf9"/><path d="M103.92 615.99h4.51" stroke="#60cef9"/><path d="M108.18 615.99h4.51" stroke="#5fcdf9"/><path d="M112.44 615.99h4.51" stroke="#60cef9"/><path d="M116.7 615.99h4.51" stroke="#60cffa"/><path d="M120.96 615.99h4.51" stroke="#61d0fa"/><path d="M125.22 615.99h4.51" stroke="#61d0fa"/><path d="M129.48 615.99h4.51" stroke="#60cffa"/><path d="M133.74 615.99h4.51" stroke="#60cffa"/><path d="M138 615.99h4.51" stroke="#60cef9"/><path d="M142.26 615.99h4.51" stroke="#5ecbf9"/><path d="M146.52 615.99h4.51" stroke="#5fccf9"/><path d="M150.78 615.99h4.51" stroke="#5fccf9"/><path d="M155.04 615.99h4.51" stroke="#5bc6f8"/><path d="M159.3 615.99h4.51" stroke="#59c2f8"/><path d="M163.56 615.99h4.51" stroke="#56bdf7"/><path d="M167.82 615.99h4.51" stroke="#4daaf4"/><path d="M172.08 615.99h4.51" stroke="#67eda1"/><path d="M180.6 615.99h4.51" stroke="#ff0000"/><path d="M78.36 620.25h4.51" stroke="#4eadf4"/><path d="M82.62 620.25h4.51" stroke="#4faff5"/><path d="M86.88 620.25h4.51" stroke="#58c0f7"/><path d="M91.14 620.25h4.51" stroke="#5bc6f8"/><path d="M95.4 620.25h4.51" stroke="#5bc5f8"/><path d="M99.66 620.25h4.51" stroke="#5dc9f9"/><path d="M103.92 620.25h4.51" stroke="#5fcdf9"/><path d="M108.18 620.25h4.51" stroke="#61d1fa"/><path d="M112.44 620.25h4.51" stroke="#60cef9"/><path d="M116.7 620.25h4.51" stroke="#61d0fa"/><path d="M120.96 620.25h4.51" stroke="#61d1fa"/><path d="M125.22 620.25h4.51" stroke="#62d2fa"/><path d="M129.48 620.25h4.51" stroke="#60cffa"/><path d="M133.74 620.25h4.51" stroke="#62d1fa"/><path d="M138 620.25h4.51" stroke="#60cef9"/><path d="M142.26 620.25h4.51" stroke="#60cef9"/><path d="M146.52 620.25h4.51" stroke="#5fccf9"/><path d="M150.78 620.25h4.51" stroke="#5cc8f8"/><path d="M155.04 620.25h4.51" stroke="#5bc6f8"/><path d="M159.3 620.25h4.51" stroke="#58c1f7"/><path d="M163.56 620.25h4.51" stroke="#57bef7"/><path d="M167.82 620.25h4.51" stroke="#4dabf4"/><path d="M172.08 620.25h4.51" stroke="#4daaf3"/><path d="M180.6 620.25h4.51" stroke="#ff0000"/><path d="M78.36 624.51h4.51" stroke="#63e1ac"/><path d="M82.62 624.51h4.51" stroke="#4fb0f5"/><path d="M86.88 624.51h4.51" stroke="#57bef7"/><path d="M91.14 624.51h4.51" stroke="#5ac4f8"/><path d="M95.4 624.51h4.51" stroke="#5bc6f8"/><path d="M99.66 624.51h4.51" stroke="#5dc9f9"/><path d="M103.92 624.51h4.51" stroke="#5fccf9"/><path d="M108.18 624.51h4.51" stroke="#60cef9"/><path d="M112.44 624.51h4.51" stroke="#61d1fa"/><path d="M116.7 624.51h4.51" stroke="#62d2fa"/><path d="M120.96 624.51h4.51" stroke="#60cffa"/><path d="M125.22 624.51h4.51" stroke="#60cef9"/><path d="M129.48 624.51h4.51" stroke="#61d0fa"/><path d="M133.74 624.51h4.51" stroke="#5fcdf9"/><path d="M138 624.51h4.51" stroke="#60cef9"/><path d="M142.26 624.51h4.51" stroke="#5ecbf9"/><path d="M146.52 624.51h4.51" stroke="#5dc9f9"/><path d="M150.78 624.51h4.51" stroke="#5dc9f9"/><path d="M155.04 624.51h4.51" stroke="#5bc5f8"/><path d="M159.3 624.51h4.51" stroke="#59c2f7"/><path d="M163.56 624.51h4.51" stroke="#56bcf7"/><path d="M167.82 624.51h4.51" stroke="#54b9f6"/><path d="M172.08 624.51h4.51" stroke="#4ba6f3"/><path d="M184.86 624.51h4.51" stroke="#ff0000"/><path d="M78.36 628.77h4.51" stroke="#00cc00"/><path d="M82.62 628.77h4.51" stroke="#50b3f5"/><path d="M86.88 628.77h4.51" stroke="#57bef7"/><path d="M91.14 628.77h4.51" stroke="#5bc5f8"/><path d="M95.4 628.77h4.51" stroke="#5bc5f8"/><path d="M99.66 628.77h4.51" stroke="#5fccf9"/><path d="M103.92 628.77h4.51" stroke="#60cffa"/><path d="M108.18 628.77h4.51" stroke="#60cffa"/><path d="M112.44 628.77h4.51" stroke="#5fcdf9"/><path d="M116.7 628.77h4.51" stroke="#60cffa"/><path d="M120.96 628.77h4.51" stroke="#60cef9"/><path d="M125.22 628.77h4.51" stroke="#60cffa"/><path d="M129.48 628.77h4.51" stroke="#61d0fa"/><path d="M133.74 628.77h4.51" stroke="#60cff9"/><path d="M138 628.77h4.51" stroke="#5fcdf9"/><path d="M142.26 628.77h4.51" stroke="#5dc9f9"/><path d="M146.52 628.77h4.51" stroke="#5ecbf9"/><path d="M150.78 628.77h4.51" stroke="#5dc8f9"/><path d="M155.04 628.77h4.51" stroke="#59c3f8"/><path d="M159.3 628.77h4.51" stroke="#58c1f7"/><path d="M163.56 628.77h4.51" stroke="#4daaf4"/><path d="M167.82 628.77h4.51" stroke="#4ca7f3"/><path d="M172.08 628.77h4.51" stroke="#49a1f2"/><path d="M82.62 633.03h4.51" stroke="#4eadf4"/><path d="M86.88 633.03h4.51" stroke="#58c0f7"/><path d="M91.14 633.03h4.51" stroke="#58c1f7"/><path d="M95.4 633.03h4.51" stroke="#5cc8f8"/><path d="M99.66 633.03h4.51" stroke="#5dcaf9"/><path d="M103.92 633.03h4.51" stroke="#60cffa"/><path d="M108.18 633.03h4.51" stroke="#5fcdf9"/><path d="M112.44 633.03h4.51" stroke="#61d0fa"/><path d="M116.7 633.03h4.51" stroke="#61d1fa"/><path d="M120.96 633.03h4.51" stroke="#62d1fa"/><path d="M125.22 633.03h4.51" stroke="#61cffa"/><path d="M129.48 633.03h4.51" stroke="#60cff9"/><path d="M133.74 633.03h4.51" stroke="#5ecbf9"/><path d="M138 633.03h4.51" stroke="#5ecbf9"/><path d="M142.26 633.03h4.51" stroke="#5ecbf9"/><path d="M146.52 633.03h4.51" stroke="#5bc6f8"/><path d="M150.78 633.03h4.51" stroke="#56bcf7"/><path d="M155.04 633.03h4.51" stroke="#54b8f6"/><path d="M159.3 633.03h4.51" stroke="#4fb0f5"/><path d="M163.56 633.03h4.51" stroke="#4ca8f3"/><path d="M82.62 637.29h4.51" stroke="#4eaef4"/><path d="M86.88 637.29h4.51" stroke="#56bcf7"/><path d="M91.14 637.29h4.51" stroke="#5ac4f8"/><path d="M95.4 637.29h4.51" stroke="#5ac4f8"/><path d="M99.66 637.29h4.51" stroke="#5dc9f9"/><path d="M103.92 637.29h4.51" stroke="#5ecbf9"/><path d="M108.18 637.29h4.51" stroke="#5ecbf9"/><path d="M112.44 637.29h4.51" stroke="#60cffa"/><path d="M116.7 637.29h4.51" stroke="#60cffa"/><path d="M120.96 637.29h4.51" stroke="#61cffa"/><path d="M125.22 637.29h4.51" stroke="#5fcdf9"/><path d="M129.48 637.29h4.51" stroke="#5fccf9"/><path d="M133.74 637.29h4.51" stroke="#5ecbf9"/><path d="M138 637.29h4.51" stroke="#5ecbf9"/><path d="M142.26 637.29h4.51" stroke="#56bcf7"/><path d="M146.52 637.29h4.51" stroke="#54baf6"/><path d="M150.78 637.29h4.51" stroke="#54b8f6"/><path d="M78.36 641.55h4.51" stroke="#4faff4"/><path d="M82.62 641.55h4.51" stroke="#50b1f5"/><path d="M86.88 641.55h4.51" stroke="#57bff7"/><path d="M91.14 641.55h4.51" stroke="#59c1f7"/><path d="M95.4 641.55h4.51" stroke="#5cc6f8"/><path d="M99.66 641.55h4.51" stroke="#5cc8f8"/><path d="M103.92 641.55h4.51" stroke="#5ecbf9"/><path d="M108.18 641.55h4.51" stroke="#5eccf9"/><path d="M112.44 641.55h4.51" stroke="#5ecbf9"/><path d="M116.7 641.55h4.51" stroke="#5ecaf9"/><path d="M120.96 641.55h4.51" stroke="#5fcdf9"/><path d="M125.22 641.55h4.51" stroke="#5ecbf9"/><path d="M129.48 641.55h4.51" stroke="#56bcf7"/><path d="M133.74 641.55h4.51" stroke="#57bff7"/><path d="M138 641.55h4.51" stroke="#57bef7"/><path d="M142.26 641.55h4.51" stroke="#56bcf7"/><path d="M74.1 645.81h4.51" stroke="#64e5a8"/><path d="M78.36 645.81h4.51" stroke="#4daaf4"/><path d="M82.62 645.81h4.51" stroke="#55bcf6"/><path d="M86.88 645.81h4.51" stroke="#58c0f7"/><path d="M91.14 645.81h4.51" stroke="#59c2f7"/><path d="M95.4 645.81h4.51" stroke="#5ac3f8"/><path d="M99.66 645.81h4.51" stroke="#5cc8f8"/><path d="M103.92 645.81h4.51" stroke="#5ecbf9"/><path d="M108.18 645.81h4.51" stroke="#5ecaf9"/><path d="M112.44 645.81h4.51" stroke="#5dcaf9"/><path d="M116.7 645.81h4.51" stroke="#5ecbf9"/><path d="M120.96 645.81h4.51" stroke="#57bef7"/><path d="M125.22 645.81h4.51" stroke="#57bff7"/><path d="M129.48 645.81h4.51" stroke="#57bef7"/><path d="M74.1 650.07h4.51" stroke="#64e5a8"/><path d="M78.36 650.07h4.51" stroke="#55bbf6"/><path d="M82.62 650.07h4.51" stroke="#56bdf7"/><path d="M86.88 650.07h4.51" stroke="#57bff7"/><path d="M91.14 650.07h4.51" stroke="#58c0f7"/><path d="M95.4 650.07h4.51" stroke="#59c2f7"/><path d="M99.66 650.07h4.51" stroke="#5bc6f8"/><path d="M103.92 650.07h4.51" stroke="#5bc6f8"/><path d="M108.18 650.07h4.51" stroke="#56bcf7"/><path d="M112.44 650.07h4.51" stroke="#57bef7"/><path d="M116.7 650.07h4.51" stroke="#56bcf7"/><path d="M120.96 650.07h4.51" stroke="#55bcf6"/><path d="M74.1 654.33h4.51" stroke="#4ca9f3"/><path d="M78.36 654.33h4.51" stroke="#56bcf7"/><path d="M82.62 654.33h4.51" stroke="#55bbf6"/><path d="M86.88 654.33h4.51" stroke="#55bcf6"/><path d="M91.14 654.33h4.51" stroke="#58c1f7"/><path d="M95.4 654.33h4.51" stroke="#54b8f6"/><path d="M99.66 654.33h4.51" stroke="#55baf6"/><path d="M103.92 654.33h4.51" stroke="#55bbf6"/><path d="M108.18 654.33h4.51" stroke="#55bbf6"/><path d="M74.1 658.59h4.51" stroke="#4ca9f3"/><path d="M78.36 658.59h4.51" stroke="#55baf6"/><path d="M82.62 658.59h4.51" stroke="#55baf6"/><path d="M86.88 658.59h4.51" stroke="#4eadf4"/><path d="M91.14 658.59h4.51" stroke="#50b2f5"/><path d="M95.4 658.59h4.51" stroke="#50b2f5"/><path d="M65.58 662.85h4.51" stroke="#ff0000"/><path d="M69.84 662.85h4.51" stroke="#00cc00"/><path d="M74.1 662.85h4.51" stroke="#4daaf4"/><path d="M78.36 662.85h4.51" stroke="#4ca9f3"/><path d="M82.62 662.85h4.51" stroke="#4daaf4"/><path d="M86.88 662.85h4.51" stroke="#4eadf4"/><path d="M69.84 667.11h4.51" stroke="#00cc00"/><path d="M74.1 667.11h4.51" stroke="#46aaeb"/></g>
<polygon points="62.4,677.46 62.85,671.3 63.81,666.48 65.89,663.07 65.61,657.58 65.89,652.09 67.92,645.93 70.68,641.12 74.17,636.98 74.57,632.89 75.92,629.02 74.85,626.67 73.16,621.91 71.41,613.68 70,606.8 68.65,601.31 67.25,597.22 65.44,593.08 64.88,591.73 65.89,586.25 67.92,582.1 72.09,580.03 76.2,577.96 76.93,572.53 76.2,564.24 75.13,556.01 74.17,547.78 73.16,539.55 72.76,531.32 73.44,527.9 76.2,525.16 80.36,524.21 87.23,523.76 94.16,524.21 98.33,525.16 100.35,528.58 101.09,536.81 101.76,545.04 102.44,553.27 102.83,561.5 103.56,570.85 104.52,564.24 105.87,556.01 107.95,547.78 109.36,540.95 112.12,538.21 116.23,536.14 120.4,534.06 125.75,532.44 134.02,530.65 142.3,529.7 145.06,527.9 148.5,526.5 151.25,528.58 157.5,530.65 164.37,533.39 171.3,536.14 176.82,538.88 180.93,542.29 182.34,547.78 185.09,553.27 188.53,559.48 191.29,564.97 193.37,570.46 193.09,576.62 191.96,579.36 189.2,583.5 187.18,587.59 186.05,593.08 186.45,599.97 186.05,604.72 187.18,609.54 188.53,615.03 189.2,618.44 191.74,621.19 192.7,626.67" fill="none" stroke="#dc2468" stroke-width="1.25" stroke-linejoin="round"/>
<rect x="20.2" y="494.9" width="209.8" height="195.8" fill="none" stroke="#000" stroke-width="1.8"/>
<path d="M19.6 507.3H26.2M22.9 504V510.6M19.6 549.98H26.2M22.9 546.68V553.28M19.6 592.66H26.2M22.9 589.36V595.96M19.6 635.34H26.2M22.9 632.04V638.64M19.6 678.02H26.2M22.9 674.72V681.32M62.2 507.3H68.8M65.5 504V510.6M62.2 549.98H68.8M65.5 546.68V553.28M62.2 592.66H68.8M65.5 589.36V595.96M62.2 635.34H68.8M65.5 632.04V638.64M62.2 678.02H68.8M65.5 674.72V681.32M104.8 507.3H111.4M108.1 504V510.6M104.8 549.98H111.4M108.1 546.68V553.28M104.8 592.66H111.4M108.1 589.36V595.96M104.8 635.34H111.4M108.1 632.04V638.64M104.8 678.02H111.4M108.1 674.72V681.32M147.4 507.3H154M150.7 504V510.6M147.4 549.98H154M150.7 546.68V553.28M147.4 592.66H154M150.7 589.36V595.96M147.4 635.34H154M150.7 632.04V638.64M147.4 678.02H154M150.7 674.72V681.32M190 507.3H196.6M193.3 504V510.6M190 549.98H196.6M193.3 546.68V553.28M190 592.66H196.6M193.3 589.36V595.96M190 635.34H196.6M193.3 632.04V638.64M190 678.02H196.6M193.3 674.72V681.32" stroke="#2a2a2a" stroke-width="0.95" fill="none"/>
<text x="22.9" y="490.7" font-family='"Liberation Sans", sans-serif' font-size="6.9" text-anchor="middle" fill="#222">125<tspan font-size="5.6">00mE</tspan></text>
<text x="22.9" y="699.7" font-family='"Liberation Sans", sans-serif' font-size="6.9" text-anchor="middle" fill="#222">125<tspan font-size="5.6">00mE</tspan></text>
<text x="65.5" y="490.7" font-family='"Liberation Sans", sans-serif' font-size="6.9" text-anchor="middle" fill="#222">150</text>
<text x="65.5" y="699.7" font-family='"Liberation Sans", sans-serif' font-size="6.9" text-anchor="middle" fill="#222">150</text>
<text x="108.1" y="490.7" font-family='"Liberation Sans", sans-serif' font-size="6.9" text-anchor="middle" fill="#222">175</text>
<text x="108.1" y="699.7" font-family='"Liberation Sans", sans-serif' font-size="6.9" text-anchor="middle" fill="#222">175</text>
<text x="150.7" y="490.7" font-family='"Liberation Sans", sans-serif' font-size="6.9" text-anchor="middle" fill="#222">200</text>
<text x="150.7" y="699.7" font-family='"Liberation Sans", sans-serif' font-size="6.9" text-anchor="middle" fill="#222">200</text>
<text x="193.3" y="490.7" font-family='"Liberation Sans", sans-serif' font-size="6.9" text-anchor="middle" fill="#222">225<tspan font-size="5.6">00mE</tspan></text>
<text x="193.3" y="699.7" font-family='"Liberation Sans", sans-serif' font-size="6.9" text-anchor="middle" fill="#222">225<tspan font-size="5.6">00mE</tspan></text>
<text x="15.6" y="507.3" font-family='"Liberation Sans", sans-serif' font-size="6.9" text-anchor="middle" fill="#222" transform="rotate(-90 15.6 507.3)">450<tspan font-size="5.6">00mN</tspan></text>
<text x="234" y="507.3" font-family='"Liberation Sans", sans-serif' font-size="6.9" text-anchor="middle" fill="#222" transform="rotate(90 234 507.3)">450<tspan font-size="5.6">00mN</tspan></text>
<text x="9.6" y="552.38" font-family='"Liberation Sans", sans-serif' font-size="6.9" text-anchor="middle" fill="#222">425</text>
<text x="240.6" y="552.38" font-family='"Liberation Sans", sans-serif' font-size="6.9" text-anchor="middle" fill="#222">425</text>
<text x="9.6" y="595.06" font-family='"Liberation Sans", sans-serif' font-size="6.9" text-anchor="middle" fill="#222">400</text>
<text x="240.6" y="595.06" font-family='"Liberation Sans", sans-serif' font-size="6.9" text-anchor="middle" fill="#222">400</text>
<text x="9.6" y="637.74" font-family='"Liberation Sans", sans-serif' font-size="6.9" text-anchor="middle" fill="#222">375</text>
<text x="240.6" y="637.74" font-family='"Liberation Sans", sans-serif' font-size="6.9" text-anchor="middle" fill="#222">375</text>
<text x="15.6" y="678.02" font-family='"Liberation Sans", sans-serif' font-size="6.9" text-anchor="middle" fill="#222" transform="rotate(-90 15.6 678.02)">350<tspan font-size="5.6">00mN</tspan></text>
<text x="234" y="678.02" font-family='"Liberation Sans", sans-serif' font-size="6.9" text-anchor="middle" fill="#222" transform="rotate(90 234 678.02)">350<tspan font-size="5.6">00mN</tspan></text>
<path d="M39.5 499.2L47.1 511.8Q39.5 508.2 31.9 511.8Z" fill="#000"/>
<text transform="translate(39.55 524.05) scale(1.36 1)" font-family='"Liberation Sans", sans-serif' font-weight="bold" font-size="15.84" text-anchor="middle" fill="#000" stroke="#000" stroke-width="0.3">N</text>
<text x="136.6" y="662.7" font-family='"Liberation Sans", sans-serif' font-size="8.4" text-anchor="middle" fill="#222">2</text>
<text x="154" y="662.7" font-family='"Liberation Sans", sans-serif' font-size="8.4" text-anchor="middle" fill="#222">1</text>
<text x="171.4" y="662.7" font-family='"Liberation Sans", sans-serif' font-size="8.4" text-anchor="middle" fill="#222">0</text>
<text x="188.8" y="662.7" font-family='"Liberation Sans", sans-serif' font-size="8.4" text-anchor="middle" fill="#222">1</text>
<text x="206.2" y="662.7" font-family='"Liberation Sans", sans-serif' font-size="8.4" text-anchor="middle" fill="#222">2</text>
<path d="M136.6 665.4H206.2M136.6 664.2V666.4M154 664.2V666.4M171.4 664.2V666.4M188.8 664.2V666.4M206.2 664.2V666.4" stroke="#333" stroke-width="0.9" fill="none"/>
<text x="210.4" y="662.7" font-family='"Liberation Sans", sans-serif' font-size="8.4" fill="#222">Km</text>
<ellipse cx="76.3" cy="534.8" rx="5.7" ry="4.9" fill="#111"/>
<ellipse cx="173.1" cy="546.9" rx="5.7" ry="4.9" fill="#111"/>
</g>
<rect x="249.9" y="496" width="121.2" height="65.6" fill="#fff" stroke="#000" stroke-width="1.4"/>
<text x="263.7" y="517.4" font-family='"Liberation Serif", serif' font-size="15.8" fill="#000" textLength="89.6" lengthAdjust="spacingAndGlyphs">D<tspan font-size="10.27" dy="3.16">1</tspan><tspan dy="-3.16">: 16 mg m</tspan><tspan font-size="10.27" dy="-6.64">-3</tspan></text>
<text x="263.7" y="546.7" font-family='"Liberation Serif", serif' font-size="15.8" fill="#000" textLength="89.6" lengthAdjust="spacingAndGlyphs">D<tspan font-size="10.27" dy="3.16">2</tspan><tspan dy="-3.16">: 50 mg m</tspan><tspan font-size="10.27" dy="-6.64">-3</tspan></text>
<rect x="637.2" y="495.6" width="121.1" height="66.6" fill="#fff" stroke="#000" stroke-width="1.4"/>
<text x="650.6" y="517" font-family='"Liberation Serif", serif' font-size="15.8" fill="#000" textLength="89.6" lengthAdjust="spacingAndGlyphs">D<tspan font-size="10.27" dy="3.16">1</tspan><tspan dy="-3.16">: 16 mg m</tspan><tspan font-size="10.27" dy="-6.64">-3</tspan></text>
<text x="650.6" y="547.1" font-family='"Liberation Serif", serif' font-size="15.8" fill="#000" textLength="89.6" lengthAdjust="spacingAndGlyphs">D<tspan font-size="10.27" dy="3.16">2</tspan><tspan dy="-3.16">: 50 mg m</tspan><tspan font-size="10.27" dy="-6.64">-3</tspan></text>
<rect x="249.9" y="749" width="121.3" height="63.1" fill="#fff" stroke="#000" stroke-width="1.4"/>
<text x="263.6" y="770" font-family='"Liberation Serif", serif' font-size="15.8" fill="#000" textLength="89.6" lengthAdjust="spacingAndGlyphs">D<tspan font-size="10.27" dy="3.16">1</tspan><tspan dy="-3.16">: 14 mg m</tspan><tspan font-size="10.27" dy="-6.64">-3</tspan></text>
<text x="263.6" y="800.6" font-family='"Liberation Serif", serif' font-size="15.8" fill="#000" textLength="89.6" lengthAdjust="spacingAndGlyphs">D<tspan font-size="10.27" dy="3.16">2</tspan><tspan dy="-3.16">: 57 mg m</tspan><tspan font-size="10.27" dy="-6.64">-3</tspan></text>
<rect x="637.2" y="746.3" width="121.1" height="68.3" fill="#fff" stroke="#000" stroke-width="1.4"/>
<text x="650.6" y="767.7" font-family='"Liberation Serif", serif' font-size="15.8" fill="#000" textLength="81.6" lengthAdjust="spacingAndGlyphs">D<tspan font-size="10.27" dy="3.16">1</tspan><tspan dy="-3.16">: 5 mg m</tspan><tspan font-size="10.27" dy="-6.64">-3</tspan></text>
<text x="650.6" y="797.7" font-family='"Liberation Serif", serif' font-size="15.8" fill="#000" textLength="89.6" lengthAdjust="spacingAndGlyphs">D<tspan font-size="10.27" dy="3.16">2</tspan><tspan dy="-3.16">: 23 mg m</tspan><tspan font-size="10.27" dy="-6.64">-3</tspan></text>
<text x="7.9" y="989.8" font-family='"Liberation Serif", serif' font-size="18.6" text-anchor="start" fill="#000" textLength="151" lengthAdjust="spacingAndGlyphs">Log Chl-a (mg·m<tspan font-size="12" dy="-7.6">-3</tspan><tspan dy="7.6">)</tspan></text>
<rect x="189.15" y="967.35" width="12.6" height="12.2" fill="#ffffff" stroke="#777" stroke-width="0.9"/>
<path d="M202.3 979.5H265.3" stroke="#aaa" stroke-width="0.9" stroke-dasharray="1 1"/>
<text x="267.3" y="978.9" font-family='"Liberation Serif", serif' font-size="20.3" text-anchor="start" fill="#000" >0</text>
<rect x="189.15" y="987.15" width="12.6" height="12.2" fill="#66ffff" stroke="#777" stroke-width="0.9"/>
<path d="M202.3 999.3H265.3" stroke="#aaa" stroke-width="0.9" stroke-dasharray="1 1"/>
<text x="267.3" y="998.7" font-family='"Liberation Serif", serif' font-size="20.3" text-anchor="start" fill="#000" >1</text>
<rect x="311.05" y="967.35" width="12.6" height="12.2" fill="#3366f0" stroke="#777" stroke-width="0.9"/>
<path d="M324.2 979.5H393.2" stroke="#aaa" stroke-width="0.9" stroke-dasharray="1 1"/>
<text x="395.2" y="978.9" font-family='"Liberation Serif", serif' font-size="20.3" text-anchor="start" fill="#000" >2</text>
<rect x="311.05" y="987.15" width="12.6" height="12.2" fill="#66ff99" stroke="#777" stroke-width="0.9"/>
<path d="M324.2 999.3H393.2" stroke="#aaa" stroke-width="0.9" stroke-dasharray="1 1"/>
<text x="395.2" y="998.7" font-family='"Liberation Serif", serif' font-size="20.3" text-anchor="start" fill="#000" >3</text>
<rect x="443.25" y="967.35" width="12.6" height="12.2" fill="#00cc00" stroke="#777" stroke-width="0.9"/>
<path d="M456.4 979.5H521.8" stroke="#aaa" stroke-width="0.9" stroke-dasharray="1 1"/>
<text x="523.8" y="978.9" font-family='"Liberation Serif", serif' font-size="20.3" text-anchor="start" fill="#000" >4</text>
<rect x="443.25" y="987.15" width="12.6" height="12.2" fill="#006600" stroke="#777" stroke-width="0.9"/>
<path d="M456.4 999.3H521.8" stroke="#aaa" stroke-width="0.9" stroke-dasharray="1 1"/>
<text x="523.8" y="998.7" font-family='"Liberation Serif", serif' font-size="20.3" text-anchor="start" fill="#000" >5</text>
<rect x="570.95" y="967.35" width="12.6" height="12.2" fill="#ffcc33" stroke="#777" stroke-width="0.9"/>
<path d="M584.1 979.5H650.4" stroke="#aaa" stroke-width="0.9" stroke-dasharray="1 1"/>
<text x="652.4" y="978.9" font-family='"Liberation Serif", serif' font-size="20.3" text-anchor="start" fill="#000" >6</text>
<rect x="570.95" y="987.15" width="12.6" height="12.2" fill="#ff0000" stroke="#777" stroke-width="0.9"/>
<path d="M584.1 999.3H650.4" stroke="#aaa" stroke-width="0.9" stroke-dasharray="1 1"/>
<text x="652.4" y="998.7" font-family='"Liberation Serif", serif' font-size="20.3" text-anchor="start" fill="#000" >7</text>
</svg></body></html>
